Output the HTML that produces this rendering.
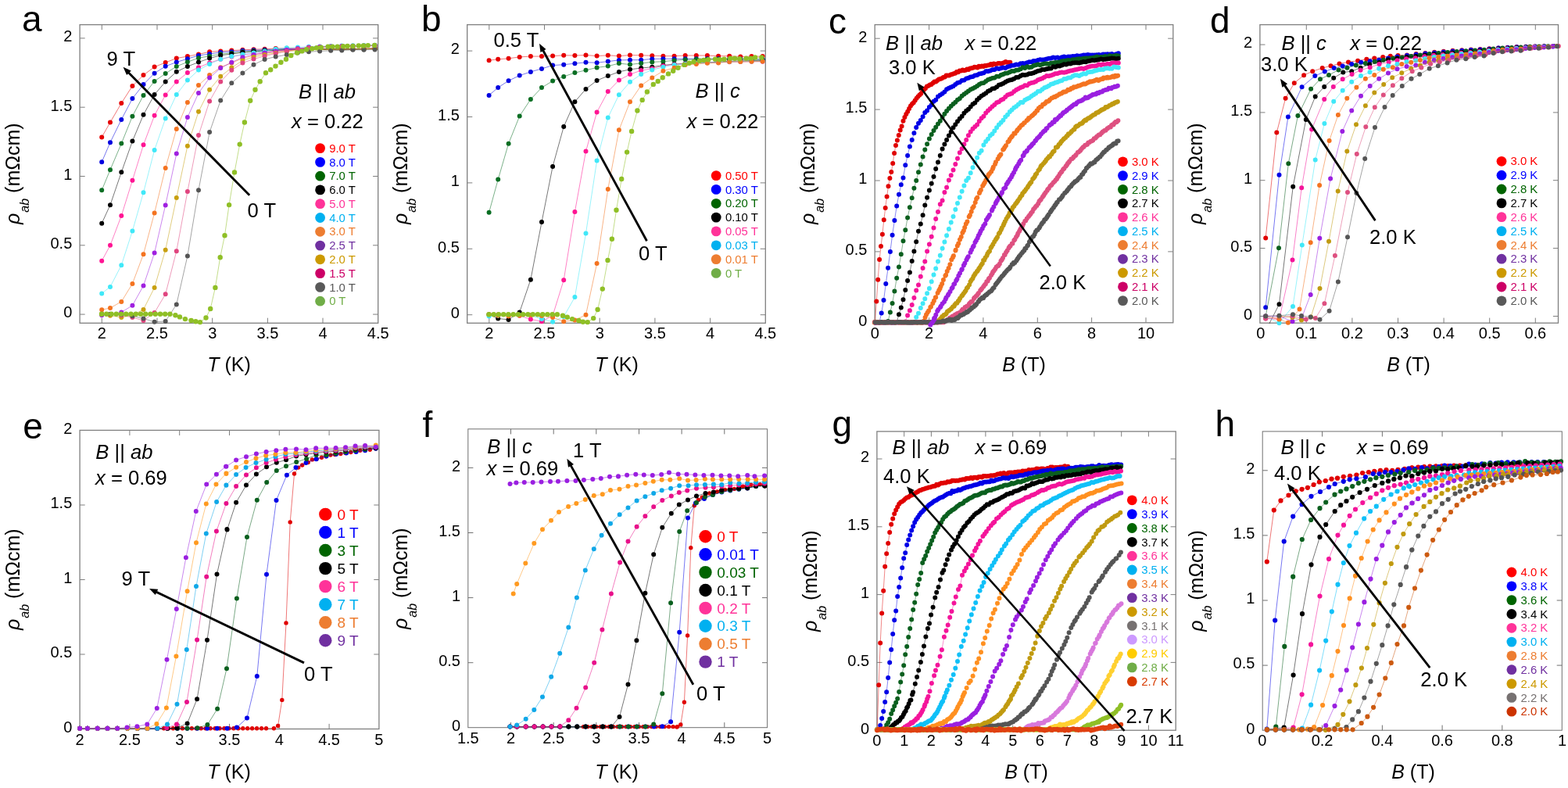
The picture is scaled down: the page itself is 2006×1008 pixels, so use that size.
<!DOCTYPE html>
<html lang="en"><head><meta charset="utf-8"><title>Resistivity figure</title>
<style>
html,body{margin:0;padding:0;background:#fff;}
body{width:2006px;height:1008px;overflow:hidden;}
svg{display:block;font-family:'Liberation Sans', Arial, Helvetica, sans-serif;}
</style></head><body>
<svg width="2006" height="1008" viewBox="0 0 2006 1008">
<rect width="2006" height="1008" fill="#fff"/>
<g id="panel-a">
<clipPath id="cp0"><rect x="98.1" y="31.6" width="389.6" height="385.7"/></clipPath>
<path d="M130.3 413.3v-6.6 M130.3 31.6v6.6 M201 413.3v-6.6 M201 31.6v6.6 M271.7 413.3v-6.6 M271.7 31.6v6.6 M342.4 413.3v-6.6 M342.4 31.6v6.6 M413 413.3v-6.6 M413 31.6v6.6 M102.1 402.1h6.6 M483.7 402.1h-6.6 M102.1 313.8h6.6 M483.7 313.8h-6.6 M102.1 225.5h6.6 M483.7 225.5h-6.6 M102.1 137.2h6.6 M483.7 137.2h-6.6 M102.1 48.9h6.6 M483.7 48.9h-6.6 " stroke="#7f7f7f" stroke-width="1" fill="none"/>
<rect x="102.1" y="31.6" width="381.6" height="381.7" fill="none" stroke="#7f7f7f" stroke-width="1.3"/>
<clipPath id="lc0"><rect x="102.1" y="31.6" width="381.6" height="382.3"/></clipPath>
<g clip-path="url(#cp0)">
<path d="M130.2 175.5 L141 156.5 L155.3 131.9 L169.4 110 L183.5 96.1 L197.6 85.6 L211.7 80 L225.8 74.5 L239.9 72.1 L254 69.4 L268.1 66.3 L282.2 65.4 L296.3 64.6 L310.4 63.8 L324.5 63.2 L338.6 62.7 L352.7 62.1 L366.8 61.7 L380.9 61.9 L395 62.3 L409.1 62.5 L423.2 62.7 L437.3 62.7 L451.4 62.6 L465.5 62.2 L479.6 61.7" fill="none" stroke="#e60000" stroke-width="0.9" stroke-opacity="0.6" clip-path="url(#lc0)"/>
<path d="M130.2 175.5h0M141 156.5h0M155.3 131.9h0M169.4 110h0M183.5 96.1h0M197.6 85.6h0M211.7 80h0M225.8 74.5h0M239.9 72.1h0M254 69.4h0M268.1 66.3h0M282.2 65.4h0M296.3 64.6h0M310.4 63.8h0M324.5 63.2h0M338.6 62.7h0M352.7 62.1h0M366.8 61.7h0M380.9 61.9h0M395 62.3h0M409.1 62.5h0M423.2 62.7h0M437.3 62.7h0M451.4 62.6h0M465.5 62.2h0M479.6 61.7h0" fill="none" stroke="#e60000" stroke-width="6" stroke-linecap="round"/>
<path d="M130.2 207.2 L141 182.2 L155.3 152.9 L169.4 126 L183.5 108.1 L197.6 93.7 L211.7 84.8 L225.8 79.5 L239.9 75.2 L254 71 L268.1 69 L282.2 66.9 L296.3 66.2 L310.4 64.8 L324.5 64.2 L338.6 63.8 L352.7 63 L366.8 62.5 L380.9 62.6 L395 62.7 L409.1 62.8 L423.2 62.9 L437.3 62.9 L451.4 62.8 L465.5 62.5 L479.6 62.1" fill="none" stroke="#0000e0" stroke-width="0.9" stroke-opacity="0.6" clip-path="url(#lc0)"/>
<path d="M130.2 207.2h0M141 182.2h0M155.3 152.9h0M169.4 126h0M183.5 108.1h0M197.6 93.7h0M211.7 84.8h0M225.8 79.5h0M239.9 75.2h0M254 71h0M268.1 69h0M282.2 66.9h0M296.3 66.2h0M310.4 64.8h0M324.5 64.2h0M338.6 63.8h0M352.7 63h0M366.8 62.5h0M380.9 62.6h0M395 62.7h0M409.1 62.8h0M423.2 62.9h0M437.3 62.9h0M451.4 62.8h0M465.5 62.5h0M479.6 62.1h0" fill="none" stroke="#0000e0" stroke-width="6" stroke-linecap="round"/>
<path d="M130.2 243.3 L141 217.2 L155.3 183.6 L169.4 148.7 L183.5 122 L197.6 103.9 L211.7 94.1 L225.8 84.9 L239.9 79.3 L254 74.2 L268.1 71.7 L282.2 69.2 L296.3 67.9 L310.4 66.3 L324.5 65.3 L338.6 64.6 L352.7 63.8 L366.8 63.3 L380.9 63.2 L395 63.1 L409.1 63.1 L423.2 63.1 L437.3 63.1 L451.4 63 L465.5 62.7 L479.6 62.3" fill="none" stroke="#0a6e23" stroke-width="0.9" stroke-opacity="0.6" clip-path="url(#lc0)"/>
<path d="M130.2 243.3h0M141 217.2h0M155.3 183.6h0M169.4 148.7h0M183.5 122h0M197.6 103.9h0M211.7 94.1h0M225.8 84.9h0M239.9 79.3h0M254 74.2h0M268.1 71.7h0M282.2 69.2h0M296.3 67.9h0M310.4 66.3h0M324.5 65.3h0M338.6 64.6h0M352.7 63.8h0M366.8 63.3h0M380.9 63.2h0M395 63.1h0M409.1 63.1h0M423.2 63.1h0M437.3 63.1h0M451.4 63h0M465.5 62.7h0M479.6 62.3h0" fill="none" stroke="#0a6e23" stroke-width="6" stroke-linecap="round"/>
<path d="M130.2 285.7 L141 262.2 L155.3 220.3 L169.4 180.6 L183.5 146.8 L197.6 121 L211.7 104.5 L225.8 91.8 L239.9 85 L254 79.6 L268.1 74.6 L282.2 70.8 L296.3 69 L310.4 67.1 L324.5 65.9 L338.6 65 L352.7 64.3 L366.8 63.8 L380.9 63.5 L395 63.3 L409.1 63.3 L423.2 63.2 L437.3 63.1 L451.4 62.9 L465.5 62.7 L479.6 62.3" fill="none" stroke="#000000" stroke-width="0.9" stroke-opacity="0.6" clip-path="url(#lc0)"/>
<path d="M130.2 285.7h0M141 262.2h0M155.3 220.3h0M169.4 180.6h0M183.5 146.8h0M197.6 121h0M211.7 104.5h0M225.8 91.8h0M239.9 85h0M254 79.6h0M268.1 74.6h0M282.2 70.8h0M296.3 69h0M310.4 67.1h0M324.5 65.9h0M338.6 65h0M352.7 64.3h0M366.8 63.8h0M380.9 63.5h0M395 63.3h0M409.1 63.3h0M423.2 63.2h0M437.3 63.1h0M451.4 62.9h0M465.5 62.7h0M479.6 62.3h0" fill="none" stroke="#000000" stroke-width="6" stroke-linecap="round"/>
<path d="M130.2 333.7 L141 313.8 L155.3 276 L169.4 230.8 L183.5 185.3 L197.6 147.8 L211.7 121.4 L225.8 104.6 L239.9 92.9 L254 86.2 L268.1 80.4 L282.2 75.8 L296.3 72.5 L310.4 70 L324.5 68.4 L338.6 66.9 L352.7 65.3 L366.8 63.8 L380.9 62.3 L395 60.8 L409.1 60.2 L423.2 59.6 L437.3 59.2 L451.4 59 L465.5 58.8 L479.6 58.3" fill="none" stroke="#ff1493" stroke-width="0.9" stroke-opacity="0.6" clip-path="url(#lc0)"/>
<path d="M130.2 333.7h0M141 313.8h0M155.3 276h0M169.4 230.8h0M183.5 185.3h0M197.6 147.8h0M211.7 121.4h0M225.8 104.6h0M239.9 92.9h0M254 86.2h0M268.1 80.4h0M282.2 75.8h0M296.3 72.5h0M310.4 70h0M324.5 68.4h0M338.6 66.9h0M352.7 65.3h0M366.8 63.8h0M380.9 62.3h0M395 60.8h0M409.1 60.2h0M423.2 59.6h0M437.3 59.2h0M451.4 59h0M465.5 58.8h0M479.6 58.3h0" fill="none" stroke="#ff1493" stroke-width="6" stroke-linecap="round"/>
<path d="M130.2 375.4 L141 366.9 L155.3 339.2 L169.4 295.5 L183.5 246.3 L197.6 192 L211.7 151.6 L225.8 121 L239.9 102.6 L254 89.6 L268.1 81.9 L282.2 75.8 L296.3 72.1 L310.4 69.6 L324.5 67.6 L338.6 65.5 L352.7 62.7 L366.8 61.3 L380.9 60.6 L395 59.8 L409.1 59.4 L423.2 59 L437.3 58.5 L451.4 58.3 L465.5 58.1 L479.6 57.7" fill="none" stroke="#40e8f8" stroke-width="0.9" stroke-opacity="0.6" clip-path="url(#lc0)"/>
<path d="M130.2 375.4h0M141 366.9h0M155.3 339.2h0M169.4 295.5h0M183.5 246.3h0M197.6 192h0M211.7 151.6h0M225.8 121h0M239.9 102.6h0M254 89.6h0M268.1 81.9h0M282.2 75.8h0M296.3 72.1h0M310.4 69.6h0M324.5 67.6h0M338.6 65.5h0M352.7 62.7h0M366.8 61.3h0M380.9 60.6h0M395 59.8h0M409.1 59.4h0M423.2 59h0M437.3 58.5h0M451.4 58.3h0M465.5 58.1h0M479.6 57.7h0" fill="none" stroke="#40e8f8" stroke-width="6" stroke-linecap="round"/>
<path d="M130.2 396.2 L141 394 L155.3 385.9 L169.4 362.9 L183.5 325.2 L197.6 272.5 L211.7 214.9 L225.8 164.9 L239.9 131.1 L254 109.1 L268.1 96.1 L282.2 86.2 L296.3 80.4 L310.4 74.7 L324.5 71 L338.6 68.4 L352.7 66.3 L366.8 64.8 L380.9 63.8 L395 63.3 L409.1 63.2 L423.2 63.2 L437.3 63.1 L451.4 62.9 L465.5 62.7 L479.6 62.3" fill="none" stroke="#f47320" stroke-width="0.9" stroke-opacity="0.6" clip-path="url(#lc0)"/>
<path d="M130.2 396.2h0M141 394h0M155.3 385.9h0M169.4 362.9h0M183.5 325.2h0M197.6 272.5h0M211.7 214.9h0M225.8 164.9h0M239.9 131.1h0M254 109.1h0M268.1 96.1h0M282.2 86.2h0M296.3 80.4h0M310.4 74.7h0M324.5 71h0M338.6 68.4h0M352.7 66.3h0M366.8 64.8h0M380.9 63.8h0M395 63.3h0M409.1 63.2h0M423.2 63.2h0M437.3 63.1h0M451.4 62.9h0M465.5 62.7h0M479.6 62.3h0" fill="none" stroke="#f47320" stroke-width="6" stroke-linecap="round"/>
<path d="M130.2 403.3 L141 402.4 L155.3 399.4 L169.4 390.8 L183.5 365.5 L197.6 323.6 L211.7 262.4 L225.8 196.6 L239.9 150.1 L254 119.1 L268.1 99.6 L282.2 87 L296.3 79.8 L310.4 73.2 L324.5 69.9 L338.6 67.6 L352.7 65.6 L366.8 63.8 L380.9 61.9 L395 60.6 L409.1 59.8 L423.2 59.4 L437.3 59 L451.4 58.8 L465.5 58.6 L479.6 58.1" fill="none" stroke="#a020e0" stroke-width="0.9" stroke-opacity="0.6" clip-path="url(#lc0)"/>
<path d="M130.2 403.3h0M141 402.4h0M155.3 399.4h0M169.4 390.8h0M183.5 365.5h0M197.6 323.6h0M211.7 262.4h0M225.8 196.6h0M239.9 150.1h0M254 119.1h0M268.1 99.6h0M282.2 87h0M296.3 79.8h0M310.4 73.2h0M324.5 69.9h0M338.6 67.6h0M352.7 65.6h0M366.8 63.8h0M380.9 61.9h0M395 60.6h0M409.1 59.8h0M423.2 59.4h0M437.3 59h0M451.4 58.8h0M465.5 58.6h0M479.6 58.1h0" fill="none" stroke="#a020e0" stroke-width="6" stroke-linecap="round"/>
<path d="M130.2 401.7 L141 403.7 L155.3 406 L169.4 403.3 L183.5 395.9 L197.6 367.9 L211.7 319.7 L225.8 253.1 L239.9 186.7 L254 142.8 L268.1 114.8 L282.2 97.8 L296.3 86.6 L310.4 77.4 L324.5 73 L338.6 70.1 L352.7 67.7 L366.8 65.9 L380.9 64.5 L395 63.7 L409.1 63.5 L423.2 63.3 L437.3 63.1 L451.4 62.9 L465.5 62.6 L479.6 62.3" fill="none" stroke="#c8a010" stroke-width="0.9" stroke-opacity="0.6" clip-path="url(#lc0)"/>
<path d="M130.2 401.7h0M141 403.7h0M155.3 406h0M169.4 403.3h0M183.5 395.9h0M197.6 367.9h0M211.7 319.7h0M225.8 253.1h0M239.9 186.7h0M254 142.8h0M268.1 114.8h0M282.2 97.8h0M296.3 86.6h0M310.4 77.4h0M324.5 73h0M338.6 70.1h0M352.7 67.7h0M366.8 65.9h0M380.9 64.5h0M395 63.7h0M409.1 63.5h0M423.2 63.3h0M437.3 63.1h0M451.4 62.9h0M465.5 62.6h0M479.6 62.3h0" fill="none" stroke="#c8a010" stroke-width="6" stroke-linecap="round"/>
<path d="M130.2 401.7 L141 402.1 L155.3 403.3 L169.4 406 L183.5 410 L197.6 400 L211.7 376.3 L225.8 321.2 L239.9 245 L254 173 L268.1 129.4 L282.2 104.4 L296.3 89.8 L310.4 80.5 L324.5 75.5 L338.6 71.8 L352.7 68.4 L366.8 65.5 L380.9 62.9 L395 61.1 L409.1 60.4 L423.2 59.8 L437.3 59.4 L451.4 59.2 L465.5 59 L479.6 58.6" fill="none" stroke="#e0457f" stroke-width="0.9" stroke-opacity="0.6" clip-path="url(#lc0)"/>
<path d="M130.2 401.7h0M141 402.1h0M155.3 403.3h0M169.4 406h0M183.5 410h0M197.6 400h0M211.7 376.3h0M225.8 321.2h0M239.9 245h0M254 173h0M268.1 129.4h0M282.2 104.4h0M296.3 89.8h0M310.4 80.5h0M324.5 75.5h0M338.6 71.8h0M352.7 68.4h0M366.8 65.5h0M380.9 62.9h0M395 61.1h0M409.1 60.4h0M423.2 59.8h0M437.3 59.4h0M451.4 59.2h0M465.5 59h0M479.6 58.6h0" fill="none" stroke="#e0457f" stroke-width="6" stroke-linecap="round"/>
<path d="M130.2 401.7 L141 401.8 L155.3 402.3 L169.4 404.2 L183.5 407.5 L197.6 411.7 L211.7 411 L225.8 389.4 L239.9 327.4 L254 243.2 L268.1 169.1 L282.2 128.5 L296.3 106.2 L310.4 93.5 L324.5 82.7 L338.6 75.9 L352.7 72.5 L366.8 70.1 L380.9 67.5 L395 66.3 L409.1 65.4 L423.2 64.8 L437.3 64.4 L451.4 63.8 L465.5 63.8 L479.6 63.4" fill="none" stroke="#555555" stroke-width="0.9" stroke-opacity="0.6" clip-path="url(#lc0)"/>
<path d="M130.2 401.7h0M141 401.8h0M155.3 402.3h0M169.4 404.2h0M183.5 407.5h0M197.6 411.7h0M211.7 411h0M225.8 389.4h0M239.9 327.4h0M254 243.2h0M268.1 169.1h0M282.2 128.5h0M296.3 106.2h0M310.4 93.5h0M324.5 82.7h0M338.6 75.9h0M352.7 72.5h0M366.8 70.1h0M380.9 67.5h0M395 66.3h0M409.1 65.4h0M423.2 64.8h0M437.3 64.4h0M451.4 63.8h0M465.5 63.8h0M479.6 63.4h0" fill="none" stroke="#555555" stroke-width="6" stroke-linecap="round"/>
<path d="M130 401.7 L136.2 401.7 L142.5 401.7 L148.8 401.7 L155 401.7 L161.2 401.7 L167.5 401.7 L173.8 401.7 L180 401.7 L186.2 401.7 L192.5 401.7 L198.8 401.7 L205 401.7 L211.2 401.7 L217.5 401.7 L224.4 403.3 L230 405.4 L236.9 408.1 L244.6 410 L250.4 411.2 L256 412.1 L263.5 406.5 L269.2 395 L275.4 367.9 L281.7 329.2 L287.5 301.2 L293.1 262.1 L300 220.4 L306.7 184.6 L312.9 156.5 L320.2 128.8 L326.5 114.8 L332.7 104.2 L340 93.3 L346.2 89.2 L352.5 84.6 L359.4 79.8 L366 75.8 L372.3 71 L380 67.5 L386.2 65.4 L392.1 63.3 L399.2 62.3 L405 61.2 L410.8 60.8 L419.6 59.6 L425.4 59.6 L431.7 59.6 L439 59.2 L444.6 59 L451.5 59 L458.8 58.5 L465 58.5 L470.8 58.1 L479.2 57.9" fill="none" stroke="#8fbf26" stroke-width="0.9" stroke-opacity="0.6" clip-path="url(#lc0)"/>
<path d="M130 401.7h0M136.2 401.7h0M142.5 401.7h0M148.8 401.7h0M155 401.7h0M161.2 401.7h0M167.5 401.7h0M173.8 401.7h0M180 401.7h0M186.2 401.7h0M192.5 401.7h0M198.8 401.7h0M205 401.7h0M211.2 401.7h0M217.5 401.7h0M224.4 403.3h0M230 405.4h0M236.9 408.1h0M244.6 410h0M250.4 411.2h0M256 412.1h0M263.5 406.5h0M269.2 395h0M275.4 367.9h0M281.7 329.2h0M287.5 301.2h0M293.1 262.1h0M300 220.4h0M306.7 184.6h0M312.9 156.5h0M320.2 128.8h0M326.5 114.8h0M332.7 104.2h0M340 93.3h0M346.2 89.2h0M352.5 84.6h0M359.4 79.8h0M366 75.8h0M372.3 71h0M380 67.5h0M386.2 65.4h0M392.1 63.3h0M399.2 62.3h0M405 61.2h0M410.8 60.8h0M419.6 59.6h0M425.4 59.6h0M431.7 59.6h0M439 59.2h0M444.6 59h0M451.5 59h0M458.8 58.5h0M465 58.5h0M470.8 58.1h0M479.2 57.9h0" fill="none" stroke="#8fbf26" stroke-width="6.4" stroke-linecap="round"/>
</g>
<g font-size="20" fill="#000">
<text x="130.3" y="432.7" text-anchor="middle">2</text>
<text x="201" y="432.7" text-anchor="middle">2.5</text>
<text x="271.7" y="432.7" text-anchor="middle">3</text>
<text x="342.4" y="432.7" text-anchor="middle">3.5</text>
<text x="413" y="432.7" text-anchor="middle">4</text>
<text x="483.7" y="432.7" text-anchor="middle">4.5</text>
<text x="92.3" y="406.4" text-anchor="end">0</text>
<text x="92.3" y="318.1" text-anchor="end">0.5</text>
<text x="92.3" y="229.8" text-anchor="end">1</text>
<text x="92.3" y="141.5" text-anchor="end">1.5</text>
<text x="92.3" y="53.2" text-anchor="end">2</text>
</g>
<text x="28" y="40" font-size="46">a</text>
<text x="293" y="475" font-size="25" text-anchor="middle"><tspan font-style="italic">T</tspan> (K)</text>
<text transform="translate(25.4 287) rotate(-90)" font-size="25"><tspan font-style="italic">ρ</tspan><tspan font-style="italic" font-size="16" dy="11.5" dx="1">ab</tspan><tspan dy="-11.5"> (mΩcm)</tspan></text>
<g font-size="14.9">
<circle cx="409.6" cy="189.6" r="6.4" fill="#ff0000"/>
<text x="421.2" y="194.7" fill="#ff0000">9.0 T</text>
<circle cx="409.6" cy="207.4" r="6.4" fill="#0000ff"/>
<text x="421.2" y="212.5" fill="#0000ff">8.0 T</text>
<circle cx="409.6" cy="225.2" r="6.4" fill="#006400"/>
<text x="421.2" y="230.3" fill="#006400">7.0 T</text>
<circle cx="409.6" cy="242.9" r="6.4" fill="#000000"/>
<text x="421.2" y="248.1" fill="#000000">6.0 T</text>
<circle cx="409.6" cy="260.7" r="6.4" fill="#ff3399"/>
<text x="421.2" y="265.9" fill="#ff3399">5.0 T</text>
<circle cx="409.6" cy="278.5" r="6.4" fill="#00b0f0"/>
<text x="421.2" y="283.6" fill="#00b0f0">4.0 T</text>
<circle cx="409.6" cy="296.3" r="6.4" fill="#ed7d31"/>
<text x="421.2" y="301.4" fill="#ed7d31">3.0 T</text>
<circle cx="409.6" cy="314.1" r="6.4" fill="#7030a0"/>
<text x="421.2" y="319.2" fill="#7030a0">2.5 T</text>
<circle cx="409.6" cy="331.8" r="6.4" fill="#cc9900"/>
<text x="421.2" y="337" fill="#cc9900">2.0 T</text>
<circle cx="409.6" cy="349.6" r="6.4" fill="#cc0066"/>
<text x="421.2" y="354.8" fill="#cc0066">1.5 T</text>
<circle cx="409.6" cy="367.4" r="6.4" fill="#595959"/>
<text x="421.2" y="372.5" fill="#595959">1.0 T</text>
<circle cx="409.6" cy="385.2" r="6.4" fill="#70ad47"/>
<text x="421.2" y="390.3" fill="#70ad47">0 T</text>
</g>
<text x="136.5" y="83.5" font-size="25.6">9 T</text>
<text x="316.5" y="278.3" font-size="25.6">0 T</text>
<text x="382" y="126" font-size="25.6"><tspan font-style="italic">B</tspan> || <tspan font-style="italic">ab</tspan></text>
<text x="373" y="164" font-size="25.6"><tspan font-style="italic">x</tspan> = 0.22</text>
<path d="M319.2 249.8 L163.6 91.9" stroke="#000" stroke-width="2.85" fill="none"/>
<path d="M157.6 85.8 L167.8 90.5 L162.1 96.1 Z" fill="#000"/>
</g>
<g id="panel-b">
<clipPath id="cp1"><rect x="593.7" y="31.6" width="389.5999999999999" height="385.7"/></clipPath>
<path d="M625.8 413.3v-6.6 M625.8 31.6v6.6 M696.5 413.3v-6.6 M696.5 31.6v6.6 M767.2 413.3v-6.6 M767.2 31.6v6.6 M837.9 413.3v-6.6 M837.9 31.6v6.6 M908.6 413.3v-6.6 M908.6 31.6v6.6 M597.7 402.7h6.6 M979.3 402.7h-6.6 M597.7 318.3h6.6 M979.3 318.3h-6.6 M597.7 233.9h6.6 M979.3 233.9h-6.6 M597.7 149.5h6.6 M979.3 149.5h-6.6 M597.7 65.1h6.6 M979.3 65.1h-6.6 " stroke="#7f7f7f" stroke-width="1" fill="none"/>
<rect x="597.7" y="31.6" width="381.6" height="381.7" fill="none" stroke="#7f7f7f" stroke-width="1.3"/>
<clipPath id="lc1"><rect x="597.7" y="31.6" width="381.6" height="382.3"/></clipPath>
<g clip-path="url(#cp1)">
<path d="M625.6 77.3 L637.2 75.8 L650.6 74.8 L664.7 72.9 L678.9 72.1 L693 72.1 L707.1 71.6 L721.2 70.8 L735.4 71 L749.5 70.6 L763.6 71.5 L777.8 70.8 L791.9 71.6 L806 70.6 L820.2 70.8 L834.3 71.2 L848.4 71.7 L862.6 71.7 L876.7 71 L890.8 71 L904.9 71 L919.1 71.7 L933.2 71.7 L947.3 72.5 L961.5 72.1 L975.6 72.1" fill="none" stroke="#e60000" stroke-width="0.9" stroke-opacity="0.6" clip-path="url(#lc1)"/>
<path d="M625.6 77.3h0M637.2 75.8h0M650.6 74.8h0M664.7 72.9h0M678.9 72.1h0M693 72.1h0M707.1 71.6h0M721.2 70.8h0M735.4 71h0M749.5 70.6h0M763.6 71.5h0M777.8 70.8h0M791.9 71.6h0M806 70.6h0M820.2 70.8h0M834.3 71.2h0M848.4 71.7h0M862.6 71.7h0M876.7 71h0M890.8 71h0M904.9 71h0M919.1 71.7h0M933.2 71.7h0M947.3 72.5h0M961.5 72.1h0M975.6 72.1h0" fill="none" stroke="#e60000" stroke-width="6" stroke-linecap="round"/>
<path d="M625.6 121.9 L637.2 112 L650.6 103.3 L664.7 96.6 L678.9 91.9 L693 87.9 L707.1 83.6 L721.2 82.7 L735.4 81.2 L749.5 79.8 L763.6 80.2 L777.8 78.6 L791.9 76.9 L806 76.7 L820.2 76.7 L834.3 75.4 L848.4 75.2 L862.6 75.2 L876.7 75.2 L890.8 75.2 L904.9 75.2 L919.1 75.3 L933.2 75.4 L947.3 75.5 L961.5 75.6 L975.6 75.8" fill="none" stroke="#0000e0" stroke-width="0.9" stroke-opacity="0.6" clip-path="url(#lc1)"/>
<path d="M625.6 121.9h0M637.2 112h0M650.6 103.3h0M664.7 96.6h0M678.9 91.9h0M693 87.9h0M707.1 83.6h0M721.2 82.7h0M735.4 81.2h0M749.5 79.8h0M763.6 80.2h0M777.8 78.6h0M791.9 76.9h0M806 76.7h0M820.2 76.7h0M834.3 75.4h0M848.4 75.2h0M862.6 75.2h0M876.7 75.2h0M890.8 75.2h0M904.9 75.2h0M919.1 75.3h0M933.2 75.4h0M947.3 75.5h0M961.5 75.6h0M975.6 75.8h0" fill="none" stroke="#0000e0" stroke-width="6" stroke-linecap="round"/>
<path d="M625.6 271.8 L637.2 229.6 L650.6 183.7 L664.7 148.5 L678.9 127 L693 112.1 L707.1 103.5 L721.2 97.9 L735.4 93.1 L749.5 89.8 L763.6 86.4 L777.8 84.6 L791.9 81.1 L806 82.5 L820.2 80.9 L834.3 79.4 L848.4 78.7 L862.6 77.3 L876.7 76.2 L890.8 75.8 L904.9 75.8 L919.1 75.8 L933.2 75.9 L947.3 76 L961.5 76.1 L975.6 76.2" fill="none" stroke="#0a6e23" stroke-width="0.9" stroke-opacity="0.6" clip-path="url(#lc1)"/>
<path d="M625.6 271.8h0M637.2 229.6h0M650.6 183.7h0M664.7 148.5h0M678.9 127h0M693 112.1h0M707.1 103.5h0M721.2 97.9h0M735.4 93.1h0M749.5 89.8h0M763.6 86.4h0M777.8 84.6h0M791.9 81.1h0M806 82.5h0M820.2 80.9h0M834.3 79.4h0M848.4 78.7h0M862.6 77.3h0M876.7 76.2h0M890.8 75.8h0M904.9 75.8h0M919.1 75.8h0M933.2 75.9h0M947.3 76h0M961.5 76.1h0M975.6 76.2h0" fill="none" stroke="#0a6e23" stroke-width="6" stroke-linecap="round"/>
<path d="M625.6 402.4 L637.2 407.5 L650.6 408.9 L664.7 399.4 L678.9 357.7 L693 284.1 L707.1 212.9 L721.2 162.1 L735.4 130.2 L749.5 113.9 L763.6 103 L777.8 97.1 L791.9 91.9 L806 88.8 L820.2 87.1 L834.3 85.7 L848.4 83.5 L862.6 82.1 L876.7 81.4 L890.8 80.4 L904.9 80 L919.1 79.4 L933.2 78.3 L947.3 77.9 L961.5 77.6 L975.6 77.5" fill="none" stroke="#000000" stroke-width="0.9" stroke-opacity="0.6" clip-path="url(#lc1)"/>
<path d="M625.6 402.4h0M637.2 407.5h0M650.6 408.9h0M664.7 399.4h0M678.9 357.7h0M693 284.1h0M707.1 212.9h0M721.2 162.1h0M735.4 130.2h0M749.5 113.9h0M763.6 103h0M777.8 97.1h0M791.9 91.9h0M806 88.8h0M820.2 87.1h0M834.3 85.7h0M848.4 83.5h0M862.6 82.1h0M876.7 81.4h0M890.8 80.4h0M904.9 80h0M919.1 79.4h0M933.2 78.3h0M947.3 77.9h0M961.5 77.6h0M975.6 77.5h0" fill="none" stroke="#000000" stroke-width="6" stroke-linecap="round"/>
<path d="M625.6 402.3 L637.2 402.4 L650.6 402.9 L664.7 403.8 L678.9 408.5 L693 411.2 L707.1 403.7 L721.2 358.3 L735.4 271 L749.5 193.6 L763.6 143.5 L777.8 117.1 L791.9 102.5 L806 95.1 L820.2 90.1 L834.3 87.8 L848.4 84.2 L862.6 82.5 L876.7 81.4 L890.8 80.6 L904.9 80.1 L919.1 79.6 L933.2 79.3 L947.3 79 L961.5 78.8 L975.6 78.8" fill="none" stroke="#ff1493" stroke-width="0.9" stroke-opacity="0.6" clip-path="url(#lc1)"/>
<path d="M625.6 402.3h0M637.2 402.4h0M650.6 402.9h0M664.7 403.8h0M678.9 408.5h0M693 411.2h0M707.1 403.7h0M721.2 358.3h0M735.4 271h0M749.5 193.6h0M763.6 143.5h0M777.8 117.1h0M791.9 102.5h0M806 95.1h0M820.2 90.1h0M834.3 87.8h0M848.4 84.2h0M862.6 82.5h0M876.7 81.4h0M890.8 80.6h0M904.9 80.1h0M919.1 79.6h0M933.2 79.3h0M947.3 79h0M961.5 78.8h0M975.6 78.8h0" fill="none" stroke="#ff1493" stroke-width="6" stroke-linecap="round"/>
<path d="M625.6 404.4 L637.2 403.7 L650.6 403.3 L664.7 403.3 L678.9 403.3 L693 408 L707.1 411.7 L721.2 405.1 L735.4 380.1 L749.5 298.5 L763.6 205.6 L777.8 150.4 L791.9 121.2 L806 104.8 L820.2 95.1 L834.3 89.5 L848.4 85.8 L862.6 82.9 L876.7 82.1 L890.8 80.8 L904.9 80.2 L919.1 79.6 L933.2 79.1 L947.3 78.7 L961.5 78.4 L975.6 78.3" fill="none" stroke="#40e8f8" stroke-width="0.9" stroke-opacity="0.6" clip-path="url(#lc1)"/>
<path d="M625.6 404.4h0M637.2 403.7h0M650.6 403.3h0M664.7 403.3h0M678.9 403.3h0M693 408h0M707.1 411.7h0M721.2 405.1h0M735.4 380.1h0M749.5 298.5h0M763.6 205.6h0M777.8 150.4h0M791.9 121.2h0M806 104.8h0M820.2 95.1h0M834.3 89.5h0M848.4 85.8h0M862.6 82.9h0M876.7 82.1h0M890.8 80.8h0M904.9 80.2h0M919.1 79.6h0M933.2 79.1h0M947.3 78.7h0M961.5 78.4h0M975.6 78.3h0" fill="none" stroke="#40e8f8" stroke-width="6" stroke-linecap="round"/>
<path d="M625.6 402.3 L637.2 403.7 L650.6 404.4 L664.7 403.8 L678.9 403.3 L693 404.1 L707.1 406 L721.2 411.2 L735.4 409.6 L749.5 402.8 L763.6 337 L777.8 241.9 L791.9 166.3 L806 130.2 L820.2 109.4 L834.3 99.4 L848.4 90.8 L862.6 86.7 L876.7 82.9 L890.8 82.1 L904.9 80.8 L919.1 80.4 L933.2 79 L947.3 79 L961.5 78.7 L975.6 78.4" fill="none" stroke="#f47320" stroke-width="0.9" stroke-opacity="0.6" clip-path="url(#lc1)"/>
<path d="M625.6 402.3h0M637.2 403.7h0M650.6 404.4h0M664.7 403.8h0M678.9 403.3h0M693 404.1h0M707.1 406h0M721.2 411.2h0M735.4 409.6h0M749.5 402.8h0M763.6 337h0M777.8 241.9h0M791.9 166.3h0M806 130.2h0M820.2 109.4h0M834.3 99.4h0M848.4 90.8h0M862.6 86.7h0M876.7 82.9h0M890.8 82.1h0M904.9 80.8h0M919.1 80.4h0M933.2 79h0M947.3 79h0M961.5 78.7h0M975.6 78.4h0" fill="none" stroke="#f47320" stroke-width="6" stroke-linecap="round"/>
<path d="M625.4 402.3 L631.7 402.3 L637.9 402.3 L644.2 402.3 L650.4 402.3 L656.7 402.3 L662.9 402.3 L669.2 402.3 L675.4 402.3 L681.7 402.3 L687.9 402.3 L694.2 402.3 L700.4 402.3 L706.7 402.3 L712.9 402.3 L720 403.8 L725.8 405.8 L732.1 408.1 L740.4 410 L745.8 411.7 L751.7 412.1 L759.2 407.1 L764.6 396 L770.8 369.6 L777.5 332.9 L782.9 305.8 L788.5 268.8 L795.2 229 L802.1 194.6 L808.1 167.9 L815.4 141.5 L821.7 127.9 L827.9 117.5 L835.8 107.9 L841.7 104 L847.7 99.2 L855 94.4 L861.2 90.8 L867.5 86.7 L875.4 82.9 L881.7 80.8 L887.5 79 L895 77.7 L900.4 76.9 L906.2 76.2 L915 75.8 L920.8 76.2 L926.5 75.8 L934.2 74.6 L940 74.8 L946.2 75.2 L954.6 74.6 L960.4 74.6 L966 73.5 L974.4 73.5" fill="none" stroke="#8fbf26" stroke-width="0.9" stroke-opacity="0.6" clip-path="url(#lc1)"/>
<path d="M625.4 402.3h0M631.7 402.3h0M637.9 402.3h0M644.2 402.3h0M650.4 402.3h0M656.7 402.3h0M662.9 402.3h0M669.2 402.3h0M675.4 402.3h0M681.7 402.3h0M687.9 402.3h0M694.2 402.3h0M700.4 402.3h0M706.7 402.3h0M712.9 402.3h0M720 403.8h0M725.8 405.8h0M732.1 408.1h0M740.4 410h0M745.8 411.7h0M751.7 412.1h0M759.2 407.1h0M764.6 396h0M770.8 369.6h0M777.5 332.9h0M782.9 305.8h0M788.5 268.8h0M795.2 229h0M802.1 194.6h0M808.1 167.9h0M815.4 141.5h0M821.7 127.9h0M827.9 117.5h0M835.8 107.9h0M841.7 104h0M847.7 99.2h0M855 94.4h0M861.2 90.8h0M867.5 86.7h0M875.4 82.9h0M881.7 80.8h0M887.5 79h0M895 77.7h0M900.4 76.9h0M906.2 76.2h0M915 75.8h0M920.8 76.2h0M926.5 75.8h0M934.2 74.6h0M940 74.8h0M946.2 75.2h0M954.6 74.6h0M960.4 74.6h0M966 73.5h0M974.4 73.5h0" fill="none" stroke="#8fbf26" stroke-width="6.4" stroke-linecap="round"/>
</g>
<g font-size="20" fill="#000">
<text x="625.8" y="432.7" text-anchor="middle">2</text>
<text x="696.5" y="432.7" text-anchor="middle">2.5</text>
<text x="767.2" y="432.7" text-anchor="middle">3</text>
<text x="837.9" y="432.7" text-anchor="middle">3.5</text>
<text x="908.6" y="432.7" text-anchor="middle">4</text>
<text x="979.3" y="432.7" text-anchor="middle">4.5</text>
<text x="587.9" y="407" text-anchor="end">0</text>
<text x="587.9" y="322.6" text-anchor="end">0.5</text>
<text x="587.9" y="238.2" text-anchor="end">1</text>
<text x="587.9" y="153.8" text-anchor="end">1.5</text>
<text x="587.9" y="69.4" text-anchor="end">2</text>
</g>
<text x="539" y="40" font-size="46">b</text>
<text x="789" y="475" font-size="25" text-anchor="middle"><tspan font-style="italic">T</tspan> (K)</text>
<text transform="translate(520.5 287) rotate(-90)" font-size="25"><tspan font-style="italic">ρ</tspan><tspan font-style="italic" font-size="16" dy="11.5" dx="1">ab</tspan><tspan dy="-11.5"> (mΩcm)</tspan></text>
<g font-size="14.9">
<circle cx="916.2" cy="224.6" r="6.4" fill="#ff0000"/>
<text x="927.9" y="229.7" fill="#ff0000">0.50 T</text>
<circle cx="916.2" cy="242.4" r="6.4" fill="#0000ff"/>
<text x="927.9" y="247.6" fill="#0000ff">0.30 T</text>
<circle cx="916.2" cy="260.3" r="6.4" fill="#006400"/>
<text x="927.9" y="265.4" fill="#006400">0.20 T</text>
<circle cx="916.2" cy="278.1" r="6.4" fill="#000000"/>
<text x="927.9" y="283.2" fill="#000000">0.10 T</text>
<circle cx="916.2" cy="295.9" r="6.4" fill="#ff3399"/>
<text x="927.9" y="301.1" fill="#ff3399">0.05 T</text>
<circle cx="916.2" cy="313.8" r="6.4" fill="#00b0f0"/>
<text x="927.9" y="318.9" fill="#00b0f0">0.03 T</text>
<circle cx="916.2" cy="331.6" r="6.4" fill="#ed7d31"/>
<text x="927.9" y="336.7" fill="#ed7d31">0.01 T</text>
<circle cx="916.2" cy="349.4" r="6.4" fill="#70ad47"/>
<text x="927.9" y="354.6" fill="#70ad47">0 T</text>
</g>
<text x="631.5" y="59.6" font-size="25.6">0.5 T</text>
<text x="817" y="333.3" font-size="25.6">0 T</text>
<text x="889.5" y="124.6" font-size="25.6"><tspan font-style="italic">B</tspan> || <tspan font-style="italic">c</tspan></text>
<text x="878.5" y="163.75" font-size="25.6"><tspan font-style="italic">x</tspan> = 0.22</text>
<path d="M827.5 308.3 L694.1 63.3" stroke="#000" stroke-width="2.85" fill="none"/>
<path d="M690 55.8 L698.5 63.1 L691.5 66.9 Z" fill="#000"/>
</g>
<g id="panel-c">
<clipPath id="cp2"><rect x="1115.2" y="31.6" width="389.5999999999999" height="387.2"/></clipPath>
<path d="M1188.6 412.8v-6.6 M1188.6 31.6v6.6 M1257.9 412.8v-6.6 M1257.9 31.6v6.6 M1327.3 412.8v-6.6 M1327.3 31.6v6.6 M1396.6 412.8v-6.6 M1396.6 31.6v6.6 M1466 412.8v-6.6 M1466 31.6v6.6 M1119.2 321.9h6.6 M1500.8 321.9h-6.6 M1119.2 231h6.6 M1500.8 231h-6.6 M1119.2 140.1h6.6 M1500.8 140.1h-6.6 M1119.2 49.2h6.6 M1500.8 49.2h-6.6 " stroke="#7f7f7f" stroke-width="1" fill="none"/>
<rect x="1119.2" y="31.6" width="381.6" height="381.2" fill="none" stroke="#7f7f7f" stroke-width="1.3"/>
<clipPath id="lc2"><rect x="1119.2" y="31.6" width="381.6" height="381.8"/></clipPath>
<g clip-path="url(#cp2)">
<path d="M1119.4 412.6 L1121.3 385.4 L1123.2 357.7 L1125.1 332 L1127 315.1 L1128.9 299.8 L1130.8 281.3 L1132.7 266.1 L1134.6 251.6 L1136.5 238.2 L1138.4 228.1 L1140.3 220.1 L1142.2 209 L1144.1 195.9 L1146 185.9 L1147.9 179.6 L1149.8 173.1 L1151.7 166.4 L1153.6 161.5 L1155.5 154.8 L1157.4 149.9 L1159.3 146 L1161.2 142.8 L1163.1 138.9 L1165 135.4 L1166.9 133 L1168.8 131.2 L1170.7 128.4 L1172.6 125.7 L1174.5 123.5 L1176.4 121.6 L1178.3 119.8 L1180.2 116.3 L1182.1 114.7 L1184 112.9 L1185.9 110.6 L1187.8 109.8 L1189.7 108.4 L1191.6 108 L1193.5 106.3 L1195.4 104.5 L1197.3 104.5 L1199.2 103.1 L1201.1 101.6 L1203 101.1 L1204.9 100.2 L1206.8 99.1 L1208.7 98.6 L1210.6 96.6 L1212.5 96.6 L1214.4 96.4 L1216.3 95.5 L1218.2 94.9 L1220.1 94.3 L1222 93.8 L1223.9 92 L1225.8 92.3 L1227.7 90.5 L1229.6 90.6 L1231.5 89.4 L1233.4 90.2 L1235.3 89.8 L1237.2 88.6 L1239.1 89 L1241 87.4 L1242.9 87.3 L1244.8 86.8 L1246.7 85.8 L1248.6 86.1 L1250.5 86.4 L1252.4 84.7 L1254.3 85.2 L1256.2 84.5 L1258.1 85 L1260 84.1 L1261.9 83.9 L1263.8 83.6 L1265.7 83.2 L1267.6 82.1 L1269.5 83.1 L1271.4 81.5 L1273.3 81.9 L1275.2 81.8 L1277.1 80.9 L1279 81.1 L1280.9 81.4 L1282.8 80.7 L1284.7 80.1 L1286.6 79 L1288.5 79.8 L1290.4 79.8 L1292.3 79.8" fill="none" stroke="#e00000" stroke-width="0.8" stroke-opacity="0.6" clip-path="url(#lc2)"/>
<path d="M1119.4 412.6h0M1121.3 385.4h0M1123.2 357.7h0M1125.1 332h0M1127 315.1h0M1128.9 299.8h0M1130.8 281.3h0M1132.7 266.1h0M1134.6 251.6h0M1136.5 238.2h0M1138.4 228.1h0M1140.3 220.1h0M1142.2 209h0M1144.1 195.9h0M1146 185.9h0M1147.9 179.6h0M1149.8 173.1h0M1151.7 166.4h0M1153.6 161.5h0M1155.5 154.8h0M1157.4 149.9h0M1159.3 146h0M1161.2 142.8h0M1163.1 138.9h0M1165 135.4h0M1166.9 133h0M1168.8 131.2h0M1170.7 128.4h0M1172.6 125.7h0M1174.5 123.5h0M1176.4 121.6h0M1178.3 119.8h0M1180.2 116.3h0M1182.1 114.7h0M1184 112.9h0M1185.9 110.6h0M1187.8 109.8h0M1189.7 108.4h0M1191.6 108h0M1193.5 106.3h0M1195.4 104.5h0M1197.3 104.5h0M1199.2 103.1h0M1201.1 101.6h0M1203 101.1h0M1204.9 100.2h0M1206.8 99.1h0M1208.7 98.6h0M1210.6 96.6h0M1212.5 96.6h0M1214.4 96.4h0M1216.3 95.5h0M1218.2 94.9h0M1220.1 94.3h0M1222 93.8h0M1223.9 92h0M1225.8 92.3h0M1227.7 90.5h0M1229.6 90.6h0M1231.5 89.4h0M1233.4 90.2h0M1235.3 89.8h0M1237.2 88.6h0M1239.1 89h0M1241 87.4h0M1242.9 87.3h0M1244.8 86.8h0M1246.7 85.8h0M1248.6 86.1h0M1250.5 86.4h0M1252.4 84.7h0M1254.3 85.2h0M1256.2 84.5h0M1258.1 85h0M1260 84.1h0M1261.9 83.9h0M1263.8 83.6h0M1265.7 83.2h0M1267.6 82.1h0M1269.5 83.1h0M1271.4 81.5h0M1273.3 81.9h0M1275.2 81.8h0M1277.1 80.9h0M1279 81.1h0M1280.9 81.4h0M1282.8 80.7h0M1284.7 80.1h0M1286.6 79h0M1288.5 79.8h0M1290.4 79.8h0M1292.3 79.8h0" fill="none" stroke="#e00000" stroke-width="6" stroke-linecap="round"/>
<path d="M1119.4 412.3 L1122.2 412.4 L1125 412.1 L1127.7 400.6 L1130.5 384 L1133.3 362.9 L1136.1 342.8 L1138.9 322 L1141.6 300.8 L1144.4 282 L1147.2 263.6 L1150 248.8 L1152.8 236.3 L1155.5 227.5 L1158.3 211.2 L1161.1 198.9 L1163.9 187.4 L1166.7 179.1 L1169.4 170.2 L1172.2 163.1 L1175 157.8 L1177.8 153.9 L1180.6 149.2 L1183.3 143.9 L1186.1 141.5 L1188.9 137.1 L1191.7 134.3 L1194.5 129.7 L1197.2 127.7 L1200 123.5 L1202.8 121.4 L1205.6 119.7 L1208.4 117.4 L1211.1 114.2 L1213.9 112.7 L1216.7 111.6 L1219.5 110.3 L1222.3 108.1 L1225 106.1 L1227.8 105.2 L1230.6 103 L1233.4 102.5 L1236.2 100.4 L1238.9 99.8 L1241.7 98.6 L1244.5 97.9 L1247.3 96.4 L1250.1 96.1 L1252.8 94.6 L1255.6 94.1 L1258.4 93.3 L1261.2 91.2 L1264 91.2 L1266.7 90.4 L1269.5 89.3 L1272.3 89 L1275.1 87.6 L1277.9 87.9 L1280.6 87.3 L1283.4 86.6 L1286.2 87 L1289 85.5 L1291.8 84.7 L1294.5 83.8 L1297.3 83.6 L1300.1 82.5 L1302.9 82.8 L1305.7 81.3 L1308.4 81.1 L1311.2 81.2 L1314 80.2 L1316.8 79.2 L1319.6 79.2 L1322.3 78 L1325.1 78 L1327.9 77.1 L1330.7 76.3 L1333.5 76.5 L1336.2 76.3 L1339 75.4 L1341.8 74.7 L1344.6 74.6 L1347.4 73.5 L1350.1 74 L1352.9 73.6 L1355.7 74.7 L1358.5 73.3 L1361.3 72.6 L1364 73.4 L1366.8 72.6 L1369.6 72.4 L1372.4 72.1 L1375.2 71.9 L1377.9 71.3 L1380.7 71.7 L1383.5 71.3 L1386.3 70.6 L1389.1 70.6 L1391.8 70.1 L1394.6 70.5 L1397.4 70.6 L1400.2 70.5 L1403 70.3 L1405.7 69.9 L1408.5 70.5 L1411.3 69.6 L1414.1 69.6 L1416.9 69.3 L1419.6 69.4 L1422.4 69.1 L1425.2 70.1 L1428 69.2 L1430.8 68.2" fill="none" stroke="#0000e6" stroke-width="0.8" stroke-opacity="0.6" clip-path="url(#lc2)"/>
<path d="M1119.4 412.3h0M1122.2 412.4h0M1125 412.1h0M1127.7 400.6h0M1130.5 384h0M1133.3 362.9h0M1136.1 342.8h0M1138.9 322h0M1141.6 300.8h0M1144.4 282h0M1147.2 263.6h0M1150 248.8h0M1152.8 236.3h0M1155.5 227.5h0M1158.3 211.2h0M1161.1 198.9h0M1163.9 187.4h0M1166.7 179.1h0M1169.4 170.2h0M1172.2 163.1h0M1175 157.8h0M1177.8 153.9h0M1180.6 149.2h0M1183.3 143.9h0M1186.1 141.5h0M1188.9 137.1h0M1191.7 134.3h0M1194.5 129.7h0M1197.2 127.7h0M1200 123.5h0M1202.8 121.4h0M1205.6 119.7h0M1208.4 117.4h0M1211.1 114.2h0M1213.9 112.7h0M1216.7 111.6h0M1219.5 110.3h0M1222.3 108.1h0M1225 106.1h0M1227.8 105.2h0M1230.6 103h0M1233.4 102.5h0M1236.2 100.4h0M1238.9 99.8h0M1241.7 98.6h0M1244.5 97.9h0M1247.3 96.4h0M1250.1 96.1h0M1252.8 94.6h0M1255.6 94.1h0M1258.4 93.3h0M1261.2 91.2h0M1264 91.2h0M1266.7 90.4h0M1269.5 89.3h0M1272.3 89h0M1275.1 87.6h0M1277.9 87.9h0M1280.6 87.3h0M1283.4 86.6h0M1286.2 87h0M1289 85.5h0M1291.8 84.7h0M1294.5 83.8h0M1297.3 83.6h0M1300.1 82.5h0M1302.9 82.8h0M1305.7 81.3h0M1308.4 81.1h0M1311.2 81.2h0M1314 80.2h0M1316.8 79.2h0M1319.6 79.2h0M1322.3 78h0M1325.1 78h0M1327.9 77.1h0M1330.7 76.3h0M1333.5 76.5h0M1336.2 76.3h0M1339 75.4h0M1341.8 74.7h0M1344.6 74.6h0M1347.4 73.5h0M1350.1 74h0M1352.9 73.6h0M1355.7 74.7h0M1358.5 73.3h0M1361.3 72.6h0M1364 73.4h0M1366.8 72.6h0M1369.6 72.4h0M1372.4 72.1h0M1375.2 71.9h0M1377.9 71.3h0M1380.7 71.7h0M1383.5 71.3h0M1386.3 70.6h0M1389.1 70.6h0M1391.8 70.1h0M1394.6 70.5h0M1397.4 70.6h0M1400.2 70.5h0M1403 70.3h0M1405.7 69.9h0M1408.5 70.5h0M1411.3 69.6h0M1414.1 69.6h0M1416.9 69.3h0M1419.6 69.4h0M1422.4 69.1h0M1425.2 70.1h0M1428 69.2h0M1430.8 68.2h0" fill="none" stroke="#0000e6" stroke-width="6" stroke-linecap="round"/>
<path d="M1119.4 412.4 L1122.2 412.2 L1125 412.7 L1127.7 412.3 L1130.5 412.3 L1133.3 412.5 L1136.1 411.1 L1138.9 399.4 L1141.6 388.1 L1144.4 372.6 L1147.2 355.7 L1150 341.6 L1152.8 325.2 L1155.5 308.2 L1158.3 294.2 L1161.1 278.5 L1163.9 265.2 L1166.7 253.3 L1169.4 240.7 L1172.2 230.9 L1175 220.3 L1177.8 210.4 L1180.6 200.4 L1183.3 191.6 L1186.1 184.3 L1188.9 177.6 L1191.7 171.9 L1194.5 166.9 L1197.2 162.7 L1200 158.4 L1202.8 154.7 L1205.6 149.7 L1208.4 145.7 L1211.1 142 L1213.9 138.7 L1216.7 135.8 L1219.5 132.9 L1222.3 130.8 L1225 127.7 L1227.8 126 L1230.6 122.8 L1233.4 120.4 L1236.2 118.4 L1238.9 116.4 L1241.7 114.6 L1244.5 113.3 L1247.3 111.7 L1250.1 109.9 L1252.8 108 L1255.6 106.6 L1258.4 105.9 L1261.2 104 L1264 102 L1266.7 101 L1269.5 99.9 L1272.3 99.5 L1275.1 97.8 L1277.9 97.8 L1280.6 96.1 L1283.4 94.9 L1286.2 93.8 L1289 93.5 L1291.8 92.2 L1294.5 91.1 L1297.3 90.9 L1300.1 89.8 L1302.9 89.6 L1305.7 88.2 L1308.4 86.2 L1311.2 87.1 L1314 85.3 L1316.8 86.2 L1319.6 85.7 L1322.3 84.1 L1325.1 83.2 L1327.9 82.6 L1330.7 83.2 L1333.5 82.2 L1336.2 81.6 L1339 81.4 L1341.8 82 L1344.6 80.7 L1347.4 80.5 L1350.1 80.1 L1352.9 79.8 L1355.7 79.4 L1358.5 78.2 L1361.3 78 L1364 77.4 L1366.8 77 L1369.6 77.5 L1372.4 76.3 L1375.2 76.2 L1377.9 75.5 L1380.7 75.2 L1383.5 75.5 L1386.3 74.7 L1389.1 74.4 L1391.8 74.5 L1394.6 74.2 L1397.4 74.1 L1400.2 73.6 L1403 72.4 L1405.7 73.3 L1408.5 73 L1411.3 73 L1414.1 71.9 L1416.9 73.2 L1419.6 71.3 L1422.4 72 L1425.2 71.4 L1428 71 L1430.8 71.4" fill="none" stroke="#0a5f1e" stroke-width="0.8" stroke-opacity="0.6" clip-path="url(#lc2)"/>
<path d="M1119.4 412.4h0M1122.2 412.2h0M1125 412.7h0M1127.7 412.3h0M1130.5 412.3h0M1133.3 412.5h0M1136.1 411.1h0M1138.9 399.4h0M1141.6 388.1h0M1144.4 372.6h0M1147.2 355.7h0M1150 341.6h0M1152.8 325.2h0M1155.5 308.2h0M1158.3 294.2h0M1161.1 278.5h0M1163.9 265.2h0M1166.7 253.3h0M1169.4 240.7h0M1172.2 230.9h0M1175 220.3h0M1177.8 210.4h0M1180.6 200.4h0M1183.3 191.6h0M1186.1 184.3h0M1188.9 177.6h0M1191.7 171.9h0M1194.5 166.9h0M1197.2 162.7h0M1200 158.4h0M1202.8 154.7h0M1205.6 149.7h0M1208.4 145.7h0M1211.1 142h0M1213.9 138.7h0M1216.7 135.8h0M1219.5 132.9h0M1222.3 130.8h0M1225 127.7h0M1227.8 126h0M1230.6 122.8h0M1233.4 120.4h0M1236.2 118.4h0M1238.9 116.4h0M1241.7 114.6h0M1244.5 113.3h0M1247.3 111.7h0M1250.1 109.9h0M1252.8 108h0M1255.6 106.6h0M1258.4 105.9h0M1261.2 104h0M1264 102h0M1266.7 101h0M1269.5 99.9h0M1272.3 99.5h0M1275.1 97.8h0M1277.9 97.8h0M1280.6 96.1h0M1283.4 94.9h0M1286.2 93.8h0M1289 93.5h0M1291.8 92.2h0M1294.5 91.1h0M1297.3 90.9h0M1300.1 89.8h0M1302.9 89.6h0M1305.7 88.2h0M1308.4 86.2h0M1311.2 87.1h0M1314 85.3h0M1316.8 86.2h0M1319.6 85.7h0M1322.3 84.1h0M1325.1 83.2h0M1327.9 82.6h0M1330.7 83.2h0M1333.5 82.2h0M1336.2 81.6h0M1339 81.4h0M1341.8 82h0M1344.6 80.7h0M1347.4 80.5h0M1350.1 80.1h0M1352.9 79.8h0M1355.7 79.4h0M1358.5 78.2h0M1361.3 78h0M1364 77.4h0M1366.8 77h0M1369.6 77.5h0M1372.4 76.3h0M1375.2 76.2h0M1377.9 75.5h0M1380.7 75.2h0M1383.5 75.5h0M1386.3 74.7h0M1389.1 74.4h0M1391.8 74.5h0M1394.6 74.2h0M1397.4 74.1h0M1400.2 73.6h0M1403 72.4h0M1405.7 73.3h0M1408.5 73h0M1411.3 73h0M1414.1 71.9h0M1416.9 73.2h0M1419.6 71.3h0M1422.4 72h0M1425.2 71.4h0M1428 71h0M1430.8 71.4h0" fill="none" stroke="#0a5f1e" stroke-width="6" stroke-linecap="round"/>
<path d="M1119.4 412.3 L1122.2 412.4 L1125 412.3 L1127.7 412.2 L1130.5 411.9 L1133.3 412.4 L1136.1 412.5 L1138.9 412.1 L1141.6 412.6 L1144.4 412.2 L1147.2 412 L1150 402.2 L1152.8 393.6 L1155.5 383.2 L1158.3 371 L1161.1 359 L1163.9 348.4 L1166.7 334.1 L1169.4 321.4 L1172.2 309.3 L1175 295.8 L1177.8 286.5 L1180.6 275.3 L1183.3 262.5 L1186.1 252.8 L1188.9 243.6 L1191.7 234.8 L1194.5 226 L1197.2 215.9 L1200 207.5 L1202.8 198.9 L1205.6 190.4 L1208.4 184.6 L1211.1 179 L1213.9 173.5 L1216.7 168.7 L1219.5 163.3 L1222.3 159.3 L1225 155.2 L1227.8 151.7 L1230.6 148.8 L1233.4 144.7 L1236.2 141.7 L1238.9 139.8 L1241.7 136.6 L1244.5 133.2 L1247.3 131.4 L1250.1 127.7 L1252.8 125.3 L1255.6 122.7 L1258.4 121.1 L1261.2 119.3 L1264 116.8 L1266.7 115.4 L1269.5 113.4 L1272.3 113.1 L1275.1 111.3 L1277.9 108.8 L1280.6 107.9 L1283.4 106.7 L1286.2 105.1 L1289 103.4 L1291.8 102.6 L1294.5 101.9 L1297.3 100.7 L1300.1 99.1 L1302.9 98.7 L1305.7 97.1 L1308.4 95.7 L1311.2 95.9 L1314 95.4 L1316.8 94.3 L1319.6 93.9 L1322.3 93.3 L1325.1 91.9 L1327.9 90.7 L1330.7 90.3 L1333.5 89 L1336.2 89 L1339 88.3 L1341.8 87.8 L1344.6 87.5 L1347.4 85.3 L1350.1 85.8 L1352.9 84.5 L1355.7 84.4 L1358.5 83.4 L1361.3 82.3 L1364 82.6 L1366.8 81.4 L1369.6 81.5 L1372.4 80.6 L1375.2 80.3 L1377.9 80.2 L1380.7 80.6 L1383.5 79.7 L1386.3 79 L1389.1 79.3 L1391.8 78.2 L1394.6 77.7 L1397.4 77 L1400.2 77.2 L1403 76.8 L1405.7 76.2 L1408.5 75.4 L1411.3 75.9 L1414.1 75.8 L1416.9 75.3 L1419.6 74.9 L1422.4 74.6 L1425.2 74.7 L1428 75.3 L1430.8 74.7" fill="none" stroke="#000000" stroke-width="0.8" stroke-opacity="0.6" clip-path="url(#lc2)"/>
<path d="M1119.4 412.3h0M1122.2 412.4h0M1125 412.3h0M1127.7 412.2h0M1130.5 411.9h0M1133.3 412.4h0M1136.1 412.5h0M1138.9 412.1h0M1141.6 412.6h0M1144.4 412.2h0M1147.2 412h0M1150 402.2h0M1152.8 393.6h0M1155.5 383.2h0M1158.3 371h0M1161.1 359h0M1163.9 348.4h0M1166.7 334.1h0M1169.4 321.4h0M1172.2 309.3h0M1175 295.8h0M1177.8 286.5h0M1180.6 275.3h0M1183.3 262.5h0M1186.1 252.8h0M1188.9 243.6h0M1191.7 234.8h0M1194.5 226h0M1197.2 215.9h0M1200 207.5h0M1202.8 198.9h0M1205.6 190.4h0M1208.4 184.6h0M1211.1 179h0M1213.9 173.5h0M1216.7 168.7h0M1219.5 163.3h0M1222.3 159.3h0M1225 155.2h0M1227.8 151.7h0M1230.6 148.8h0M1233.4 144.7h0M1236.2 141.7h0M1238.9 139.8h0M1241.7 136.6h0M1244.5 133.2h0M1247.3 131.4h0M1250.1 127.7h0M1252.8 125.3h0M1255.6 122.7h0M1258.4 121.1h0M1261.2 119.3h0M1264 116.8h0M1266.7 115.4h0M1269.5 113.4h0M1272.3 113.1h0M1275.1 111.3h0M1277.9 108.8h0M1280.6 107.9h0M1283.4 106.7h0M1286.2 105.1h0M1289 103.4h0M1291.8 102.6h0M1294.5 101.9h0M1297.3 100.7h0M1300.1 99.1h0M1302.9 98.7h0M1305.7 97.1h0M1308.4 95.7h0M1311.2 95.9h0M1314 95.4h0M1316.8 94.3h0M1319.6 93.9h0M1322.3 93.3h0M1325.1 91.9h0M1327.9 90.7h0M1330.7 90.3h0M1333.5 89h0M1336.2 89h0M1339 88.3h0M1341.8 87.8h0M1344.6 87.5h0M1347.4 85.3h0M1350.1 85.8h0M1352.9 84.5h0M1355.7 84.4h0M1358.5 83.4h0M1361.3 82.3h0M1364 82.6h0M1366.8 81.4h0M1369.6 81.5h0M1372.4 80.6h0M1375.2 80.3h0M1377.9 80.2h0M1380.7 80.6h0M1383.5 79.7h0M1386.3 79h0M1389.1 79.3h0M1391.8 78.2h0M1394.6 77.7h0M1397.4 77h0M1400.2 77.2h0M1403 76.8h0M1405.7 76.2h0M1408.5 75.4h0M1411.3 75.9h0M1414.1 75.8h0M1416.9 75.3h0M1419.6 74.9h0M1422.4 74.6h0M1425.2 74.7h0M1428 75.3h0M1430.8 74.7h0" fill="none" stroke="#000000" stroke-width="6" stroke-linecap="round"/>
<path d="M1119.4 412.6 L1122.2 412.2 L1125 412.3 L1127.7 412.4 L1130.5 412.2 L1133.3 412.3 L1136.1 412.3 L1138.9 412 L1141.6 412.5 L1144.4 412.4 L1147.2 412.2 L1150 412.3 L1152.8 412.4 L1155.5 412.3 L1158.3 411.4 L1161.1 403.6 L1163.9 397.2 L1166.7 390.1 L1169.4 381 L1172.2 371.6 L1175 364.5 L1177.8 353.8 L1180.6 342.9 L1183.3 334.4 L1186.1 321.5 L1188.9 312.5 L1191.7 302.7 L1194.5 291.6 L1197.2 280 L1200 271.1 L1202.8 261.2 L1205.6 256.6 L1208.4 246.1 L1211.1 239.8 L1213.9 230.6 L1216.7 224.2 L1219.5 217.5 L1222.3 210 L1225 202.7 L1227.8 195.2 L1230.6 190.2 L1233.4 184.4 L1236.2 179 L1238.9 173.2 L1241.7 168.5 L1244.5 164.7 L1247.3 162 L1250.1 159.4 L1252.8 155.1 L1255.6 151.2 L1258.4 148.7 L1261.2 144.5 L1264 141.5 L1266.7 138.9 L1269.5 136.3 L1272.3 133.9 L1275.1 131.3 L1277.9 130.2 L1280.6 128 L1283.4 126.7 L1286.2 124.1 L1289 121.5 L1291.8 120.4 L1294.5 119.5 L1297.3 116.9 L1300.1 115.1 L1302.9 113.5 L1305.7 112.1 L1308.4 111 L1311.2 109.3 L1314 109.2 L1316.8 107.1 L1319.6 106 L1322.3 105.4 L1325.1 104.2 L1327.9 102.2 L1330.7 101.3 L1333.5 100.3 L1336.2 98.8 L1339 97.1 L1341.8 97.3 L1344.6 96.6 L1347.4 95.6 L1350.1 94.3 L1352.9 94 L1355.7 93.1 L1358.5 92.6 L1361.3 92.7 L1364 92.2 L1366.8 91.3 L1369.6 90.6 L1372.4 90.1 L1375.2 89.3 L1377.9 88.7 L1380.7 87.9 L1383.5 87.6 L1386.3 88.1 L1389.1 86.9 L1391.8 85.8 L1394.6 85.1 L1397.4 84.4 L1400.2 84.4 L1403 83.9 L1405.7 82.6 L1408.5 83.1 L1411.3 82.2 L1414.1 82.7 L1416.9 81.7 L1419.6 82 L1422.4 80.7 L1425.2 80.5 L1428 80.4 L1430.8 80.5" fill="none" stroke="#f4149a" stroke-width="0.8" stroke-opacity="0.6" clip-path="url(#lc2)"/>
<path d="M1119.4 412.6h0M1122.2 412.2h0M1125 412.3h0M1127.7 412.4h0M1130.5 412.2h0M1133.3 412.3h0M1136.1 412.3h0M1138.9 412h0M1141.6 412.5h0M1144.4 412.4h0M1147.2 412.2h0M1150 412.3h0M1152.8 412.4h0M1155.5 412.3h0M1158.3 411.4h0M1161.1 403.6h0M1163.9 397.2h0M1166.7 390.1h0M1169.4 381h0M1172.2 371.6h0M1175 364.5h0M1177.8 353.8h0M1180.6 342.9h0M1183.3 334.4h0M1186.1 321.5h0M1188.9 312.5h0M1191.7 302.7h0M1194.5 291.6h0M1197.2 280h0M1200 271.1h0M1202.8 261.2h0M1205.6 256.6h0M1208.4 246.1h0M1211.1 239.8h0M1213.9 230.6h0M1216.7 224.2h0M1219.5 217.5h0M1222.3 210h0M1225 202.7h0M1227.8 195.2h0M1230.6 190.2h0M1233.4 184.4h0M1236.2 179h0M1238.9 173.2h0M1241.7 168.5h0M1244.5 164.7h0M1247.3 162h0M1250.1 159.4h0M1252.8 155.1h0M1255.6 151.2h0M1258.4 148.7h0M1261.2 144.5h0M1264 141.5h0M1266.7 138.9h0M1269.5 136.3h0M1272.3 133.9h0M1275.1 131.3h0M1277.9 130.2h0M1280.6 128h0M1283.4 126.7h0M1286.2 124.1h0M1289 121.5h0M1291.8 120.4h0M1294.5 119.5h0M1297.3 116.9h0M1300.1 115.1h0M1302.9 113.5h0M1305.7 112.1h0M1308.4 111h0M1311.2 109.3h0M1314 109.2h0M1316.8 107.1h0M1319.6 106h0M1322.3 105.4h0M1325.1 104.2h0M1327.9 102.2h0M1330.7 101.3h0M1333.5 100.3h0M1336.2 98.8h0M1339 97.1h0M1341.8 97.3h0M1344.6 96.6h0M1347.4 95.6h0M1350.1 94.3h0M1352.9 94h0M1355.7 93.1h0M1358.5 92.6h0M1361.3 92.7h0M1364 92.2h0M1366.8 91.3h0M1369.6 90.6h0M1372.4 90.1h0M1375.2 89.3h0M1377.9 88.7h0M1380.7 87.9h0M1383.5 87.6h0M1386.3 88.1h0M1389.1 86.9h0M1391.8 85.8h0M1394.6 85.1h0M1397.4 84.4h0M1400.2 84.4h0M1403 83.9h0M1405.7 82.6h0M1408.5 83.1h0M1411.3 82.2h0M1414.1 82.7h0M1416.9 81.7h0M1419.6 82h0M1422.4 80.7h0M1425.2 80.5h0M1428 80.4h0M1430.8 80.5h0" fill="none" stroke="#f4149a" stroke-width="6" stroke-linecap="round"/>
<path d="M1119.4 412.3 L1122.2 412.5 L1125 412 L1127.7 412.1 L1130.5 411.9 L1133.3 412.7 L1136.1 412.6 L1138.9 412.6 L1141.6 412.4 L1144.4 412.5 L1147.2 412.1 L1150 412.6 L1152.8 412.1 L1155.5 412.2 L1158.3 412.2 L1161.1 412.2 L1163.9 412.4 L1166.7 412.3 L1169.4 412 L1172.2 405.7 L1175 400.8 L1177.8 394.1 L1180.6 388.3 L1183.3 382.3 L1186.1 375.2 L1188.9 368.9 L1191.7 360.2 L1194.5 351.4 L1197.2 343.6 L1200 334.6 L1202.8 326.8 L1205.6 317.7 L1208.4 309.5 L1211.1 301.3 L1213.9 293 L1216.7 284.6 L1219.5 277 L1222.3 267.9 L1225 260 L1227.8 252.4 L1230.6 244.8 L1233.4 237.6 L1236.2 230.9 L1238.9 227.8 L1241.7 221.2 L1244.5 214.2 L1247.3 207.8 L1250.1 201.8 L1252.8 195.8 L1255.6 192.7 L1258.4 185.5 L1261.2 180.9 L1264 177.8 L1266.7 173.5 L1269.5 171.2 L1272.3 167.4 L1275.1 163.3 L1277.9 159.4 L1280.6 156.8 L1283.4 153.8 L1286.2 149.6 L1289 146.8 L1291.8 143.1 L1294.5 140.6 L1297.3 137.8 L1300.1 135.9 L1302.9 133.6 L1305.7 130.9 L1308.4 131 L1311.2 128.1 L1314 126.5 L1316.8 125.3 L1319.6 123 L1322.3 121.2 L1325.1 119.5 L1327.9 117 L1330.7 116.4 L1333.5 114.2 L1336.2 112.2 L1339 111.3 L1341.8 109.7 L1344.6 107.8 L1347.4 107.1 L1350.1 105.8 L1352.9 104.9 L1355.7 103.8 L1358.5 103 L1361.3 101.1 L1364 100.7 L1366.8 99.4 L1369.6 99.2 L1372.4 97.5 L1375.2 96.3 L1377.9 96.3 L1380.7 96.9 L1383.5 95.5 L1386.3 94.2 L1389.1 94.6 L1391.8 92.6 L1394.6 91.9 L1397.4 91.7 L1400.2 90.8 L1403 90 L1405.7 89.3 L1408.5 88.9 L1411.3 88.9 L1414.1 87.4 L1416.9 87.2 L1419.6 87.7 L1422.4 87.8 L1425.2 85.5 L1428 86.1 L1430.8 86.4" fill="none" stroke="#40e8f8" stroke-width="0.8" stroke-opacity="0.6" clip-path="url(#lc2)"/>
<path d="M1119.4 412.3h0M1122.2 412.5h0M1125 412h0M1127.7 412.1h0M1130.5 411.9h0M1133.3 412.7h0M1136.1 412.6h0M1138.9 412.6h0M1141.6 412.4h0M1144.4 412.5h0M1147.2 412.1h0M1150 412.6h0M1152.8 412.1h0M1155.5 412.2h0M1158.3 412.2h0M1161.1 412.2h0M1163.9 412.4h0M1166.7 412.3h0M1169.4 412h0M1172.2 405.7h0M1175 400.8h0M1177.8 394.1h0M1180.6 388.3h0M1183.3 382.3h0M1186.1 375.2h0M1188.9 368.9h0M1191.7 360.2h0M1194.5 351.4h0M1197.2 343.6h0M1200 334.6h0M1202.8 326.8h0M1205.6 317.7h0M1208.4 309.5h0M1211.1 301.3h0M1213.9 293h0M1216.7 284.6h0M1219.5 277h0M1222.3 267.9h0M1225 260h0M1227.8 252.4h0M1230.6 244.8h0M1233.4 237.6h0M1236.2 230.9h0M1238.9 227.8h0M1241.7 221.2h0M1244.5 214.2h0M1247.3 207.8h0M1250.1 201.8h0M1252.8 195.8h0M1255.6 192.7h0M1258.4 185.5h0M1261.2 180.9h0M1264 177.8h0M1266.7 173.5h0M1269.5 171.2h0M1272.3 167.4h0M1275.1 163.3h0M1277.9 159.4h0M1280.6 156.8h0M1283.4 153.8h0M1286.2 149.6h0M1289 146.8h0M1291.8 143.1h0M1294.5 140.6h0M1297.3 137.8h0M1300.1 135.9h0M1302.9 133.6h0M1305.7 130.9h0M1308.4 131h0M1311.2 128.1h0M1314 126.5h0M1316.8 125.3h0M1319.6 123h0M1322.3 121.2h0M1325.1 119.5h0M1327.9 117h0M1330.7 116.4h0M1333.5 114.2h0M1336.2 112.2h0M1339 111.3h0M1341.8 109.7h0M1344.6 107.8h0M1347.4 107.1h0M1350.1 105.8h0M1352.9 104.9h0M1355.7 103.8h0M1358.5 103h0M1361.3 101.1h0M1364 100.7h0M1366.8 99.4h0M1369.6 99.2h0M1372.4 97.5h0M1375.2 96.3h0M1377.9 96.3h0M1380.7 96.9h0M1383.5 95.5h0M1386.3 94.2h0M1389.1 94.6h0M1391.8 92.6h0M1394.6 91.9h0M1397.4 91.7h0M1400.2 90.8h0M1403 90h0M1405.7 89.3h0M1408.5 88.9h0M1411.3 88.9h0M1414.1 87.4h0M1416.9 87.2h0M1419.6 87.7h0M1422.4 87.8h0M1425.2 85.5h0M1428 86.1h0M1430.8 86.4h0" fill="none" stroke="#40e8f8" stroke-width="6" stroke-linecap="round"/>
<path d="M1118.7 412.4 L1121 412.2 L1122.6 412.4 L1123.7 412.2 L1125.3 412.2 L1127 412.5 L1128.9 412.3 L1130.2 412.4 L1131.6 412.2 L1133.6 412.3 L1134.9 412.2 L1137.5 412.2 L1139.2 412.2 L1139.6 412.3 L1142.1 412.3 L1143.5 412.3 L1145.6 412.4 L1146.8 412 L1148.3 412 L1150.1 412.4 L1151.2 412.1 L1153.3 412.2 L1155.1 412.4 L1156.2 412.2 L1158.4 412.3 L1159.8 412.1 L1161.7 412.3 L1162.1 412.3 L1164.2 412.4 L1166.4 412.3 L1167.6 412.5 L1169.5 412.2 L1171.3 412.3 L1171.8 412.2 L1173.4 412.4 L1175.9 412.2 L1177.6 412.4 L1179 412.3 L1180 412.3 L1181.7 410.7 L1183.6 406 L1185 402.5 L1186.6 399.7 L1188.1 397.4 L1190.3 392.9 L1191 392.2 L1193.3 388.1 L1194.9 384.8 L1196.8 380.5 L1197.2 380.2 L1199.6 374.7 L1201.2 371.5 L1202.5 369.3 L1203.6 366.2 L1205.2 363.1 L1206.9 357.9 L1209.4 352.8 L1210.1 351.8 L1211.7 346.9 L1213.6 343 L1215.4 338.2 L1217.3 332.2 L1219 329.3 L1219.9 327.3 L1222.4 320.5 L1222.7 319.7 L1224.8 314.4 L1226.2 311.6 L1228 306.4 L1229.7 302.9 L1231.4 297.8 L1232.9 295 L1234.2 291.1 L1235.8 286.4 L1237.4 283.5 L1239.7 277.3 L1240.9 275.3 L1242.7 270.8 L1244.2 266.1 L1245.7 263.9 L1247.7 258.9 L1249.1 254.6 L1250.3 252.7 L1252.9 247 L1253.4 245.8 L1254.9 243.1 L1257.2 237.7 L1258.6 235.5 L1259.8 233.4 L1261.3 230.5 L1263.5 226 L1264.7 223.6 L1266 222 L1268.2 219.6 L1270 216.1 L1270.8 213.7 L1273 210.1 L1274 207.2 L1276.6 203.2 L1278.2 200.2 L1279.1 199 L1280.4 197.5 L1283.2 191.6 L1284.2 190.5 L1285.3 188.5 L1286.9 186.3 L1289.5 181.5 L1290.7 180.4 L1291.9 177.9 L1293.9 175.5 L1295.1 174 L1297.4 170.6 L1298.6 170.7 L1300.9 167.4 L1301.8 165.9 L1304 163.7 L1304.6 163 L1306.6 160.5 L1308.2 159.4 L1310.2 157.3 L1310.8 157 L1313.5 154.3 L1315 153 L1316.1 150.9 L1317.2 150.7 L1319.8 148.4 L1321.3 147.2 L1323.2 145.4 L1324.3 144.2 L1326.5 141.4 L1327.1 141.5 L1328.8 138.4 L1330.9 136.7 L1332.5 136.3 L1334.1 133.7 L1336 132.9 L1337.3 132 L1338.9 130.1 L1340.7 129.7 L1342 129.1 L1343.1 127.6 L1345.5 125.6 L1346.2 125.2 L1348.5 123.9 L1349.9 124.1 L1351.2 123.1 L1352.6 122.2 L1355.1 120.7 L1355.6 120.2 L1358.2 119.6 L1359.7 118.2 L1360.9 117.6 L1362.8 117.5 L1363.9 116.9 L1366.3 114.7 L1366.9 115.2 L1369.1 114.4 L1370.5 112.9 L1372.4 112.8 L1373.8 111.3 L1376 111.3 L1377.5 110.7 L1379.2 110 L1379.5 109.7 L1381.3 109.6 L1383.4 108.4 L1385.3 107.8 L1386.4 107.3 L1388.3 107.4 L1389.2 107 L1391.6 105.7 L1393.3 105.1 L1394.5 104.3 L1395.7 104.5 L1397.7 104.1 L1399.7 103.6 L1401.1 102.8 L1403.1 101.8 L1404.3 102.2 L1405.3 103.1 L1407.5 101.8 L1408.4 101.3 L1410.9 100.9 L1411.8 99.4 L1414.4 99.4 L1415.4 99.7 L1416.9 98.8 L1418.1 99.4 L1420.6 99.1 L1422.4 98.2 L1423.7 97.6 L1425.2 98.4 L1426.9 96.8 L1428.5 97.6 L1430.1 96.7" fill="none" stroke="#f47320" stroke-width="0.8" stroke-opacity="0.6" clip-path="url(#lc2)"/>
<path d="M1118.7 412.4h0M1121 412.2h0M1122.6 412.4h0M1123.7 412.2h0M1125.3 412.2h0M1127 412.5h0M1128.9 412.3h0M1130.2 412.4h0M1131.6 412.2h0M1133.6 412.3h0M1134.9 412.2h0M1137.5 412.2h0M1139.2 412.2h0M1139.6 412.3h0M1142.1 412.3h0M1143.5 412.3h0M1145.6 412.4h0M1146.8 412h0M1148.3 412h0M1150.1 412.4h0M1151.2 412.1h0M1153.3 412.2h0M1155.1 412.4h0M1156.2 412.2h0M1158.4 412.3h0M1159.8 412.1h0M1161.7 412.3h0M1162.1 412.3h0M1164.2 412.4h0M1166.4 412.3h0M1167.6 412.5h0M1169.5 412.2h0M1171.3 412.3h0M1171.8 412.2h0M1173.4 412.4h0M1175.9 412.2h0M1177.6 412.4h0M1179 412.3h0M1180 412.3h0M1181.7 410.7h0M1183.6 406h0M1185 402.5h0M1186.6 399.7h0M1188.1 397.4h0M1190.3 392.9h0M1191 392.2h0M1193.3 388.1h0M1194.9 384.8h0M1196.8 380.5h0M1197.2 380.2h0M1199.6 374.7h0M1201.2 371.5h0M1202.5 369.3h0M1203.6 366.2h0M1205.2 363.1h0M1206.9 357.9h0M1209.4 352.8h0M1210.1 351.8h0M1211.7 346.9h0M1213.6 343h0M1215.4 338.2h0M1217.3 332.2h0M1219 329.3h0M1219.9 327.3h0M1222.4 320.5h0M1222.7 319.7h0M1224.8 314.4h0M1226.2 311.6h0M1228 306.4h0M1229.7 302.9h0M1231.4 297.8h0M1232.9 295h0M1234.2 291.1h0M1235.8 286.4h0M1237.4 283.5h0M1239.7 277.3h0M1240.9 275.3h0M1242.7 270.8h0M1244.2 266.1h0M1245.7 263.9h0M1247.7 258.9h0M1249.1 254.6h0M1250.3 252.7h0M1252.9 247h0M1253.4 245.8h0M1254.9 243.1h0M1257.2 237.7h0M1258.6 235.5h0M1259.8 233.4h0M1261.3 230.5h0M1263.5 226h0M1264.7 223.6h0M1266 222h0M1268.2 219.6h0M1270 216.1h0M1270.8 213.7h0M1273 210.1h0M1274 207.2h0M1276.6 203.2h0M1278.2 200.2h0M1279.1 199h0M1280.4 197.5h0M1283.2 191.6h0M1284.2 190.5h0M1285.3 188.5h0M1286.9 186.3h0M1289.5 181.5h0M1290.7 180.4h0M1291.9 177.9h0M1293.9 175.5h0M1295.1 174h0M1297.4 170.6h0M1298.6 170.7h0M1300.9 167.4h0M1301.8 165.9h0M1304 163.7h0M1304.6 163h0M1306.6 160.5h0M1308.2 159.4h0M1310.2 157.3h0M1310.8 157h0M1313.5 154.3h0M1315 153h0M1316.1 150.9h0M1317.2 150.7h0M1319.8 148.4h0M1321.3 147.2h0M1323.2 145.4h0M1324.3 144.2h0M1326.5 141.4h0M1327.1 141.5h0M1328.8 138.4h0M1330.9 136.7h0M1332.5 136.3h0M1334.1 133.7h0M1336 132.9h0M1337.3 132h0M1338.9 130.1h0M1340.7 129.7h0M1342 129.1h0M1343.1 127.6h0M1345.5 125.6h0M1346.2 125.2h0M1348.5 123.9h0M1349.9 124.1h0M1351.2 123.1h0M1352.6 122.2h0M1355.1 120.7h0M1355.6 120.2h0M1358.2 119.6h0M1359.7 118.2h0M1360.9 117.6h0M1362.8 117.5h0M1363.9 116.9h0M1366.3 114.7h0M1366.9 115.2h0M1369.1 114.4h0M1370.5 112.9h0M1372.4 112.8h0M1373.8 111.3h0M1376 111.3h0M1377.5 110.7h0M1379.2 110h0M1379.5 109.7h0M1381.3 109.6h0M1383.4 108.4h0M1385.3 107.8h0M1386.4 107.3h0M1388.3 107.4h0M1389.2 107h0M1391.6 105.7h0M1393.3 105.1h0M1394.5 104.3h0M1395.7 104.5h0M1397.7 104.1h0M1399.7 103.6h0M1401.1 102.8h0M1403.1 101.8h0M1404.3 102.2h0M1405.3 103.1h0M1407.5 101.8h0M1408.4 101.3h0M1410.9 100.9h0M1411.8 99.4h0M1414.4 99.4h0M1415.4 99.7h0M1416.9 98.8h0M1418.1 99.4h0M1420.6 99.1h0M1422.4 98.2h0M1423.7 97.6h0M1425.2 98.4h0M1426.9 96.8h0M1428.5 97.6h0M1430.1 96.7h0" fill="none" stroke="#f47320" stroke-width="6" stroke-linecap="round"/>
<path d="M1119.8 412.5 L1120.3 412.1 L1122.8 412.2 L1124.5 412.5 L1125.8 412.2 L1127 412.5 L1128.6 412.3 L1131 412.5 L1131.7 412.4 L1133.2 412.2 L1135.7 412.3 L1137.6 412.6 L1137.9 412.1 L1140.2 412.4 L1142.2 412.4 L1143.6 412.2 L1145.3 412.3 L1146.3 412.3 L1148.8 412.3 L1150.1 412.4 L1151.5 412.3 L1152.5 412.3 L1154.4 412.2 L1156.4 412.3 L1157.7 412.2 L1159.3 412.4 L1161.2 412.2 L1162.6 412.5 L1164.4 412.4 L1165.9 412.4 L1167.8 412.7 L1169 412.5 L1171.2 412.3 L1171.9 412.2 L1173.2 412.4 L1175.1 411.9 L1176.5 412.2 L1179.1 412.4 L1179.6 412.5 L1182 412.2 L1183.5 412.1 L1185.4 412.2 L1186.2 412.3 L1188.7 412.5 L1189.6 412.4 L1191.8 412.1 L1192.7 411.8 L1195.1 407.3 L1196 406.3 L1197.3 402.8 L1199.2 398 L1200.4 396 L1203 392.9 L1203.7 391.8 L1205.6 388.6 L1208 385.9 L1209.7 382.7 L1210.5 380.8 L1212.7 377.8 L1213.5 376.2 L1215.5 373.1 L1217.6 368.9 L1218.6 367.8 L1220.3 363.8 L1221.2 363 L1223.2 359 L1224.4 357.1 L1226.3 352.7 L1228 349.4 L1230.2 345.3 L1230.8 344.3 L1232.9 339.5 L1234.3 336.7 L1236.4 332.4 L1237.6 329.9 L1238.8 328.3 L1241.5 322.8 L1243 319.6 L1244.7 316.1 L1245.7 314.5 L1247.5 310.1 L1249 307.5 L1250.7 304.4 L1251.9 301.2 L1253.5 298.6 L1254.7 295.6 L1256.7 292.6 L1258.2 289 L1260.3 286.3 L1261.9 281.3 L1263.4 278.9 L1264.7 277.2 L1266 275 L1268.9 269.4 L1269.6 267.8 L1271.4 264.6 L1273.7 260.3 L1274.5 258.6 L1275.9 256.2 L1277.8 253 L1279.5 250.2 L1281.5 247 L1282 246.1 L1284.2 241.6 L1286.2 239.9 L1287.7 235.8 L1289.1 233.8 L1290 232.2 L1292 229.2 L1293.9 226.5 L1295.1 223.7 L1297 220.8 L1298.8 217.1 L1299.7 214.8 L1301.2 212.6 L1303.2 209.4 L1304.5 206.7 L1306.2 204.8 L1308.7 199.5 L1309.6 198.6 L1311 195.3 L1313.4 193.4 L1314 192.5 L1316.5 189.1 L1317.8 188.1 L1319.5 186.3 L1320.5 184.8 L1322.2 183.3 L1324.4 180.3 L1325.2 179.4 L1327 177.1 L1329.1 175.2 L1330.2 174 L1332 171.6 L1334.4 169.1 L1336 167.6 L1337.1 166.9 L1338.6 164.4 L1339.5 163.9 L1342.5 160.4 L1343.5 159.5 L1345.4 158.4 L1346.7 156.4 L1348.7 156 L1349.9 152.9 L1351.7 153 L1352.5 151.9 L1354.5 150 L1356.5 147.8 L1357.2 148.1 L1359.3 145.6 L1360.5 144.1 L1362.6 143.1 L1364.6 141.6 L1365.2 140.6 L1367.8 138.7 L1369.1 137.8 L1370.7 136.4 L1371.8 135.6 L1373.7 134.1 L1375.1 133.3 L1376.4 133.2 L1377.9 131.2 L1380.1 129.8 L1382.1 129.3 L1383.5 128.8 L1384.8 127.9 L1386.1 127.1 L1388.7 124.4 L1389.9 125.5 L1391.8 125 L1393.5 123.7 L1394.7 123 L1396.6 122.1 L1398 121.1 L1398.7 121 L1401.4 120.2 L1402.1 120.5 L1404.1 118.8 L1405.8 118.9 L1407.4 117.7 L1409.5 117.4 L1410.1 117.2 L1411.5 115.9 L1414.3 115 L1415.7 114.8 L1416.9 114.4 L1418.5 112.8 L1419.7 113 L1421.6 113.3 L1422.8 111.9 L1425.3 111.3 L1426 110.7 L1427.8 110.7 L1429.9 109.7" fill="none" stroke="#9a1fe0" stroke-width="0.8" stroke-opacity="0.6" clip-path="url(#lc2)"/>
<path d="M1119.8 412.5h0M1120.3 412.1h0M1122.8 412.2h0M1124.5 412.5h0M1125.8 412.2h0M1127 412.5h0M1128.6 412.3h0M1131 412.5h0M1131.7 412.4h0M1133.2 412.2h0M1135.7 412.3h0M1137.6 412.6h0M1137.9 412.1h0M1140.2 412.4h0M1142.2 412.4h0M1143.6 412.2h0M1145.3 412.3h0M1146.3 412.3h0M1148.8 412.3h0M1150.1 412.4h0M1151.5 412.3h0M1152.5 412.3h0M1154.4 412.2h0M1156.4 412.3h0M1157.7 412.2h0M1159.3 412.4h0M1161.2 412.2h0M1162.6 412.5h0M1164.4 412.4h0M1165.9 412.4h0M1167.8 412.7h0M1169 412.5h0M1171.2 412.3h0M1171.9 412.2h0M1173.2 412.4h0M1175.1 411.9h0M1176.5 412.2h0M1179.1 412.4h0M1179.6 412.5h0M1182 412.2h0M1183.5 412.1h0M1185.4 412.2h0M1186.2 412.3h0M1188.7 412.5h0M1189.6 412.4h0M1191.8 412.1h0M1192.7 411.8h0M1195.1 407.3h0M1196 406.3h0M1197.3 402.8h0M1199.2 398h0M1200.4 396h0M1203 392.9h0M1203.7 391.8h0M1205.6 388.6h0M1208 385.9h0M1209.7 382.7h0M1210.5 380.8h0M1212.7 377.8h0M1213.5 376.2h0M1215.5 373.1h0M1217.6 368.9h0M1218.6 367.8h0M1220.3 363.8h0M1221.2 363h0M1223.2 359h0M1224.4 357.1h0M1226.3 352.7h0M1228 349.4h0M1230.2 345.3h0M1230.8 344.3h0M1232.9 339.5h0M1234.3 336.7h0M1236.4 332.4h0M1237.6 329.9h0M1238.8 328.3h0M1241.5 322.8h0M1243 319.6h0M1244.7 316.1h0M1245.7 314.5h0M1247.5 310.1h0M1249 307.5h0M1250.7 304.4h0M1251.9 301.2h0M1253.5 298.6h0M1254.7 295.6h0M1256.7 292.6h0M1258.2 289h0M1260.3 286.3h0M1261.9 281.3h0M1263.4 278.9h0M1264.7 277.2h0M1266 275h0M1268.9 269.4h0M1269.6 267.8h0M1271.4 264.6h0M1273.7 260.3h0M1274.5 258.6h0M1275.9 256.2h0M1277.8 253h0M1279.5 250.2h0M1281.5 247h0M1282 246.1h0M1284.2 241.6h0M1286.2 239.9h0M1287.7 235.8h0M1289.1 233.8h0M1290 232.2h0M1292 229.2h0M1293.9 226.5h0M1295.1 223.7h0M1297 220.8h0M1298.8 217.1h0M1299.7 214.8h0M1301.2 212.6h0M1303.2 209.4h0M1304.5 206.7h0M1306.2 204.8h0M1308.7 199.5h0M1309.6 198.6h0M1311 195.3h0M1313.4 193.4h0M1314 192.5h0M1316.5 189.1h0M1317.8 188.1h0M1319.5 186.3h0M1320.5 184.8h0M1322.2 183.3h0M1324.4 180.3h0M1325.2 179.4h0M1327 177.1h0M1329.1 175.2h0M1330.2 174h0M1332 171.6h0M1334.4 169.1h0M1336 167.6h0M1337.1 166.9h0M1338.6 164.4h0M1339.5 163.9h0M1342.5 160.4h0M1343.5 159.5h0M1345.4 158.4h0M1346.7 156.4h0M1348.7 156h0M1349.9 152.9h0M1351.7 153h0M1352.5 151.9h0M1354.5 150h0M1356.5 147.8h0M1357.2 148.1h0M1359.3 145.6h0M1360.5 144.1h0M1362.6 143.1h0M1364.6 141.6h0M1365.2 140.6h0M1367.8 138.7h0M1369.1 137.8h0M1370.7 136.4h0M1371.8 135.6h0M1373.7 134.1h0M1375.1 133.3h0M1376.4 133.2h0M1377.9 131.2h0M1380.1 129.8h0M1382.1 129.3h0M1383.5 128.8h0M1384.8 127.9h0M1386.1 127.1h0M1388.7 124.4h0M1389.9 125.5h0M1391.8 125h0M1393.5 123.7h0M1394.7 123h0M1396.6 122.1h0M1398 121.1h0M1398.7 121h0M1401.4 120.2h0M1402.1 120.5h0M1404.1 118.8h0M1405.8 118.9h0M1407.4 117.7h0M1409.5 117.4h0M1410.1 117.2h0M1411.5 115.9h0M1414.3 115h0M1415.7 114.8h0M1416.9 114.4h0M1418.5 112.8h0M1419.7 113h0M1421.6 113.3h0M1422.8 111.9h0M1425.3 111.3h0M1426 110.7h0M1427.8 110.7h0M1429.9 109.7h0" fill="none" stroke="#9a1fe0" stroke-width="6" stroke-linecap="round"/>
<path d="M1119.1 412.1 L1120.3 411.8 L1122.2 412.2 L1123.8 412.1 L1124.9 412.2 L1126.4 412.6 L1127.3 412.3 L1129.2 412.2 L1131 412.1 L1132.4 412 L1133.6 412.4 L1134.4 412.3 L1136.6 412.4 L1138 412 L1138.7 412.1 L1140.5 412.6 L1141.3 412.2 L1142.8 412.1 L1144.4 412.1 L1145.7 412.4 L1147.7 412.1 L1149.1 412.1 L1150 412.5 L1151.4 412.2 L1152.6 412.2 L1154 412.3 L1156 412.3 L1157.3 412.6 L1158.2 412.3 L1160 412.5 L1161.3 412.4 L1163.1 412.2 L1164.4 412.2 L1165.7 412.2 L1167.1 412.5 L1168.8 412.3 L1170.3 412.2 L1171 412.2 L1172.3 412.6 L1174.3 412.4 L1175 412.3 L1176.7 412.2 L1177.8 412.4 L1179.4 412.7 L1180.6 412.1 L1182.2 412.1 L1184.1 412.2 L1185.6 412.2 L1186.9 412.5 L1188.1 412.4 L1189.5 412.2 L1190.7 412.4 L1191.9 412.5 L1193.5 412 L1195.2 412.3 L1196 412.2 L1197.3 412.2 L1199.5 412.2 L1200.4 410.5 L1202.2 408.8 L1203.6 407.3 L1205.2 405 L1206.1 404.8 L1207.5 403.1 L1209.3 402.5 L1210.7 401.1 L1212 398.6 L1213.5 397.8 L1214.7 396.8 L1216.5 395.5 L1217.2 394.8 L1219 392.6 L1220.6 391.7 L1221.4 390 L1223.1 387.9 L1224.3 387.7 L1225.8 385.3 L1226.8 384.3 L1228.1 381.8 L1230.3 378.7 L1231.4 377.5 L1232.9 375.2 L1234.4 373.3 L1235.5 371.8 L1236.9 368.7 L1238.1 367.4 L1240.1 364.2 L1241.5 360.3 L1242.8 358.3 L1244.4 356.2 L1245.5 353.6 L1247 351.2 L1247.9 349.7 L1249.9 347.2 L1250.8 346.2 L1252.3 343.8 L1253.6 341.9 L1255.3 339 L1256.8 336.9 L1258.1 333.1 L1259.2 332.8 L1260.5 329.8 L1262.5 327 L1263.4 324.6 L1264.9 322.2 L1266 321.2 L1267.6 316.9 L1268.8 315.2 L1270.4 312.5 L1272.2 309.2 L1273.9 306.6 L1274.9 305.1 L1276 303.2 L1277.8 298.9 L1279.1 297.2 L1280.7 293.9 L1281.8 291.5 L1283.6 288.3 L1284.5 285.9 L1285.8 283.3 L1287.4 279.9 L1289.2 277.3 L1290.4 275.5 L1291.6 272.5 L1293 271.2 L1294.5 268.2 L1295.7 265.6 L1297.3 263.7 L1299.1 260.9 L1300.4 259.5 L1301.7 257.7 L1302.4 256.5 L1304.3 254 L1305.5 251.7 L1307.4 249.8 L1308.2 247.5 L1310.2 245.3 L1310.9 244.5 L1312.5 242.2 L1314.5 239.7 L1315.5 237.9 L1317.2 235.4 L1318.2 234.1 L1319.3 233.1 L1321.2 229 L1322.4 227.7 L1323.8 225.9 L1324.8 223.5 L1326.2 222 L1328.4 217.9 L1329.9 216.5 L1331.3 213.6 L1332.1 212.1 L1333.1 211.2 L1335.1 209 L1336.6 207.3 L1337.9 205.8 L1338.8 204 L1340.3 202.6 L1342.2 200 L1343 200.4 L1345.1 197.6 L1346.7 195 L1347.3 194.2 L1348.6 193.2 L1350.9 188.5 L1352.1 188.4 L1353.2 187.5 L1354.6 185 L1356.4 183.5 L1357.3 181.8 L1358.4 180.4 L1360.3 178.5 L1361.4 177.3 L1363.2 176 L1364.8 174 L1365.7 173.4 L1366.9 171.3 L1368.2 171 L1370.3 169 L1371 168 L1373.3 166.1 L1374.4 165.5 L1376 162.4 L1377.3 161.3 L1378.1 161.6 L1379.5 160.4 L1381.7 158.4 L1382.4 158.4 L1384.3 157.8 L1385.1 156.8 L1386.6 154.9 L1388.4 153.5 L1389.3 154 L1391.3 152.1 L1392.8 151 L1393.6 151 L1395 150.1 L1396.1 149 L1397.9 147.8 L1399 146.9 L1400.9 146.2 L1402.4 144.4 L1403.7 143.9 L1405.1 143.7 L1406.5 142.5 L1408.2 141.4 L1409.2 140.4 L1411 139.9 L1411.9 139.5 L1413 139.1 L1414.5 137 L1416.5 137.1 L1417.3 136.6 L1419.3 134.9 L1420.8 134.4 L1421.8 133.9 L1422.8 132.9 L1424.7 132.7 L1425.9 131.6 L1427.8 130.7 L1428.5 130.8 L1429.9 129.9" fill="none" stroke="#c09a10" stroke-width="0.8" stroke-opacity="0.6" clip-path="url(#lc2)"/>
<path d="M1119.1 412.1h0M1120.3 411.8h0M1122.2 412.2h0M1123.8 412.1h0M1124.9 412.2h0M1126.4 412.6h0M1127.3 412.3h0M1129.2 412.2h0M1131 412.1h0M1132.4 412h0M1133.6 412.4h0M1134.4 412.3h0M1136.6 412.4h0M1138 412h0M1138.7 412.1h0M1140.5 412.6h0M1141.3 412.2h0M1142.8 412.1h0M1144.4 412.1h0M1145.7 412.4h0M1147.7 412.1h0M1149.1 412.1h0M1150 412.5h0M1151.4 412.2h0M1152.6 412.2h0M1154 412.3h0M1156 412.3h0M1157.3 412.6h0M1158.2 412.3h0M1160 412.5h0M1161.3 412.4h0M1163.1 412.2h0M1164.4 412.2h0M1165.7 412.2h0M1167.1 412.5h0M1168.8 412.3h0M1170.3 412.2h0M1171 412.2h0M1172.3 412.6h0M1174.3 412.4h0M1175 412.3h0M1176.7 412.2h0M1177.8 412.4h0M1179.4 412.7h0M1180.6 412.1h0M1182.2 412.1h0M1184.1 412.2h0M1185.6 412.2h0M1186.9 412.5h0M1188.1 412.4h0M1189.5 412.2h0M1190.7 412.4h0M1191.9 412.5h0M1193.5 412h0M1195.2 412.3h0M1196 412.2h0M1197.3 412.2h0M1199.5 412.2h0M1200.4 410.5h0M1202.2 408.8h0M1203.6 407.3h0M1205.2 405h0M1206.1 404.8h0M1207.5 403.1h0M1209.3 402.5h0M1210.7 401.1h0M1212 398.6h0M1213.5 397.8h0M1214.7 396.8h0M1216.5 395.5h0M1217.2 394.8h0M1219 392.6h0M1220.6 391.7h0M1221.4 390h0M1223.1 387.9h0M1224.3 387.7h0M1225.8 385.3h0M1226.8 384.3h0M1228.1 381.8h0M1230.3 378.7h0M1231.4 377.5h0M1232.9 375.2h0M1234.4 373.3h0M1235.5 371.8h0M1236.9 368.7h0M1238.1 367.4h0M1240.1 364.2h0M1241.5 360.3h0M1242.8 358.3h0M1244.4 356.2h0M1245.5 353.6h0M1247 351.2h0M1247.9 349.7h0M1249.9 347.2h0M1250.8 346.2h0M1252.3 343.8h0M1253.6 341.9h0M1255.3 339h0M1256.8 336.9h0M1258.1 333.1h0M1259.2 332.8h0M1260.5 329.8h0M1262.5 327h0M1263.4 324.6h0M1264.9 322.2h0M1266 321.2h0M1267.6 316.9h0M1268.8 315.2h0M1270.4 312.5h0M1272.2 309.2h0M1273.9 306.6h0M1274.9 305.1h0M1276 303.2h0M1277.8 298.9h0M1279.1 297.2h0M1280.7 293.9h0M1281.8 291.5h0M1283.6 288.3h0M1284.5 285.9h0M1285.8 283.3h0M1287.4 279.9h0M1289.2 277.3h0M1290.4 275.5h0M1291.6 272.5h0M1293 271.2h0M1294.5 268.2h0M1295.7 265.6h0M1297.3 263.7h0M1299.1 260.9h0M1300.4 259.5h0M1301.7 257.7h0M1302.4 256.5h0M1304.3 254h0M1305.5 251.7h0M1307.4 249.8h0M1308.2 247.5h0M1310.2 245.3h0M1310.9 244.5h0M1312.5 242.2h0M1314.5 239.7h0M1315.5 237.9h0M1317.2 235.4h0M1318.2 234.1h0M1319.3 233.1h0M1321.2 229h0M1322.4 227.7h0M1323.8 225.9h0M1324.8 223.5h0M1326.2 222h0M1328.4 217.9h0M1329.9 216.5h0M1331.3 213.6h0M1332.1 212.1h0M1333.1 211.2h0M1335.1 209h0M1336.6 207.3h0M1337.9 205.8h0M1338.8 204h0M1340.3 202.6h0M1342.2 200h0M1343 200.4h0M1345.1 197.6h0M1346.7 195h0M1347.3 194.2h0M1348.6 193.2h0M1350.9 188.5h0M1352.1 188.4h0M1353.2 187.5h0M1354.6 185h0M1356.4 183.5h0M1357.3 181.8h0M1358.4 180.4h0M1360.3 178.5h0M1361.4 177.3h0M1363.2 176h0M1364.8 174h0M1365.7 173.4h0M1366.9 171.3h0M1368.2 171h0M1370.3 169h0M1371 168h0M1373.3 166.1h0M1374.4 165.5h0M1376 162.4h0M1377.3 161.3h0M1378.1 161.6h0M1379.5 160.4h0M1381.7 158.4h0M1382.4 158.4h0M1384.3 157.8h0M1385.1 156.8h0M1386.6 154.9h0M1388.4 153.5h0M1389.3 154h0M1391.3 152.1h0M1392.8 151h0M1393.6 151h0M1395 150.1h0M1396.1 149h0M1397.9 147.8h0M1399 146.9h0M1400.9 146.2h0M1402.4 144.4h0M1403.7 143.9h0M1405.1 143.7h0M1406.5 142.5h0M1408.2 141.4h0M1409.2 140.4h0M1411 139.9h0M1411.9 139.5h0M1413 139.1h0M1414.5 137h0M1416.5 137.1h0M1417.3 136.6h0M1419.3 134.9h0M1420.8 134.4h0M1421.8 133.9h0M1422.8 132.9h0M1424.7 132.7h0M1425.9 131.6h0M1427.8 130.7h0M1428.5 130.8h0M1429.9 129.9h0" fill="none" stroke="#c09a10" stroke-width="6" stroke-linecap="round"/>
<path d="M1119.1 412.1 L1121 412.2 L1122 412.4 L1123.6 412.4 L1124.5 412.3 L1126.8 412.2 L1128.2 412.3 L1128.7 412.1 L1131.1 412.4 L1131.6 412.2 L1133.2 412.2 L1134.9 412.2 L1136.6 412.2 L1138 412.3 L1138.5 412.2 L1140.4 412.5 L1141.9 412.2 L1143.2 412.3 L1144.9 412.3 L1145.7 412.1 L1147.7 412.3 L1148.3 412.1 L1149.8 412.3 L1151.2 412.4 L1152.8 412.4 L1154.6 412.2 L1155.8 412.5 L1157.5 412.5 L1158.4 412.2 L1160.2 412.2 L1161.6 411.9 L1162.6 412.2 L1164 412.2 L1166.1 412.2 L1167.1 412.4 L1168.9 412.2 L1170.1 412.2 L1171.5 412.2 L1172.5 412.2 L1174 412.3 L1175.3 412.3 L1177.3 412.3 L1177.9 412.2 L1180.1 412.4 L1180.9 412.2 L1182.3 412.5 L1183.8 412.5 L1185.1 412.5 L1186.6 412.2 L1187.5 412.1 L1189 412.5 L1191 412.6 L1192.3 412.2 L1193.1 412.3 L1194.8 412.2 L1196.1 412.1 L1197.4 412.3 L1199.2 412.4 L1200.5 412.6 L1201.5 412.2 L1203.5 412.3 L1205.1 412.3 L1205.8 412.1 L1207.4 412.2 L1209.1 410.8 L1210.4 410.3 L1211.8 409.3 L1213.2 409.1 L1215 406.8 L1216.1 406.8 L1217.5 405.7 L1218.7 404.4 L1220.2 404.1 L1222 402.4 L1222.7 402.8 L1224.8 400.9 L1225.4 401 L1227.3 399.9 L1228.1 399.7 L1230.2 397.4 L1231.5 395.8 L1233.2 395.1 L1234.6 393.1 L1235.5 392.7 L1237.2 391.5 L1238.8 391 L1239.9 388.8 L1241 387.6 L1242.4 386 L1243.8 385.8 L1245.9 382 L1246.7 380.8 L1248.6 379 L1250 377.8 L1251.2 375.9 L1251.9 374.9 L1254.2 371.4 L1255.6 370 L1256.1 369.3 L1258.1 366.7 L1259.3 365 L1260.9 363.3 L1262.3 360.3 L1263.7 359.4 L1264.8 356.8 L1266 355.5 L1268.1 351.9 L1269.6 349.5 L1270.3 347.8 L1271.7 346.3 L1273.3 343.9 L1274.7 341.5 L1276.6 340.1 L1277.3 339.9 L1278.9 337.6 L1280.5 333.7 L1281.8 332.3 L1283 330 L1284.9 325.9 L1285.6 325.9 L1287.1 322.8 L1288.7 320.4 L1290.5 317.3 L1291.4 315.7 L1292.6 314.6 L1294.8 311.4 L1295.4 311.6 L1297.3 307.6 L1298.4 306.2 L1300.1 303 L1301.6 300.8 L1302.4 298.4 L1304.1 295.7 L1305.4 293 L1306.7 290.9 L1307.9 289.4 L1309.3 286.3 L1311.3 282.8 L1312.2 282.3 L1313.8 279.6 L1315.9 276.9 L1317.2 275.3 L1318.6 273.4 L1319.3 272.2 L1320.8 270.8 L1322.1 267.7 L1323.8 266.1 L1325.2 264 L1326.5 262.9 L1328.2 260.5 L1329.5 257.6 L1331 256 L1331.8 255 L1333.8 252 L1335.1 250.2 L1336.2 248.3 L1337.7 246.3 L1339.7 243.7 L1340.4 242.2 L1341.8 240.9 L1343.5 238.1 L1344.9 237.1 L1345.7 236 L1347.7 233.6 L1349.3 231.9 L1350.8 230.1 L1352 228.9 L1352.8 227.3 L1354.3 225.3 L1355.9 222.4 L1357.5 220.4 L1358.4 219.4 L1360.1 216.7 L1361.4 215.5 L1363.5 212.8 L1364.9 211 L1366 209 L1367.2 207.8 L1368.3 206.2 L1370.4 203.5 L1371.8 202.9 L1373.2 201.5 L1373.8 200.5 L1375.9 198.9 L1376.6 197.9 L1378.8 195.1 L1379.9 194.5 L1381.7 193 L1382.5 191.9 L1384.1 190.1 L1385.7 188.3 L1386.6 187.8 L1388.3 185.7 L1389.9 185.2 L1391 184.8 L1392.3 182.6 L1393.8 181.9 L1395.6 180.7 L1397.1 180.2 L1398.2 179.5 L1399.7 177.3 L1401.3 176.7 L1401.8 176.2 L1403.1 174.7 L1405.2 172.9 L1406.5 172.2 L1407.4 172.3 L1409.2 170.2 L1410.6 168.7 L1411.8 168.1 L1413.1 167.1 L1414.5 166.8 L1416.3 164.7 L1417.3 164.1 L1419.2 162.8 L1420.8 162.4 L1422 160.2 L1423 159.4 L1424.5 159.4 L1426 157.2 L1427.2 156.1 L1428.8 156 L1430.4 154.2" fill="none" stroke="#de5080" stroke-width="0.8" stroke-opacity="0.6" clip-path="url(#lc2)"/>
<path d="M1119.1 412.1h0M1121 412.2h0M1122 412.4h0M1123.6 412.4h0M1124.5 412.3h0M1126.8 412.2h0M1128.2 412.3h0M1128.7 412.1h0M1131.1 412.4h0M1131.6 412.2h0M1133.2 412.2h0M1134.9 412.2h0M1136.6 412.2h0M1138 412.3h0M1138.5 412.2h0M1140.4 412.5h0M1141.9 412.2h0M1143.2 412.3h0M1144.9 412.3h0M1145.7 412.1h0M1147.7 412.3h0M1148.3 412.1h0M1149.8 412.3h0M1151.2 412.4h0M1152.8 412.4h0M1154.6 412.2h0M1155.8 412.5h0M1157.5 412.5h0M1158.4 412.2h0M1160.2 412.2h0M1161.6 411.9h0M1162.6 412.2h0M1164 412.2h0M1166.1 412.2h0M1167.1 412.4h0M1168.9 412.2h0M1170.1 412.2h0M1171.5 412.2h0M1172.5 412.2h0M1174 412.3h0M1175.3 412.3h0M1177.3 412.3h0M1177.9 412.2h0M1180.1 412.4h0M1180.9 412.2h0M1182.3 412.5h0M1183.8 412.5h0M1185.1 412.5h0M1186.6 412.2h0M1187.5 412.1h0M1189 412.5h0M1191 412.6h0M1192.3 412.2h0M1193.1 412.3h0M1194.8 412.2h0M1196.1 412.1h0M1197.4 412.3h0M1199.2 412.4h0M1200.5 412.6h0M1201.5 412.2h0M1203.5 412.3h0M1205.1 412.3h0M1205.8 412.1h0M1207.4 412.2h0M1209.1 410.8h0M1210.4 410.3h0M1211.8 409.3h0M1213.2 409.1h0M1215 406.8h0M1216.1 406.8h0M1217.5 405.7h0M1218.7 404.4h0M1220.2 404.1h0M1222 402.4h0M1222.7 402.8h0M1224.8 400.9h0M1225.4 401h0M1227.3 399.9h0M1228.1 399.7h0M1230.2 397.4h0M1231.5 395.8h0M1233.2 395.1h0M1234.6 393.1h0M1235.5 392.7h0M1237.2 391.5h0M1238.8 391h0M1239.9 388.8h0M1241 387.6h0M1242.4 386h0M1243.8 385.8h0M1245.9 382h0M1246.7 380.8h0M1248.6 379h0M1250 377.8h0M1251.2 375.9h0M1251.9 374.9h0M1254.2 371.4h0M1255.6 370h0M1256.1 369.3h0M1258.1 366.7h0M1259.3 365h0M1260.9 363.3h0M1262.3 360.3h0M1263.7 359.4h0M1264.8 356.8h0M1266 355.5h0M1268.1 351.9h0M1269.6 349.5h0M1270.3 347.8h0M1271.7 346.3h0M1273.3 343.9h0M1274.7 341.5h0M1276.6 340.1h0M1277.3 339.9h0M1278.9 337.6h0M1280.5 333.7h0M1281.8 332.3h0M1283 330h0M1284.9 325.9h0M1285.6 325.9h0M1287.1 322.8h0M1288.7 320.4h0M1290.5 317.3h0M1291.4 315.7h0M1292.6 314.6h0M1294.8 311.4h0M1295.4 311.6h0M1297.3 307.6h0M1298.4 306.2h0M1300.1 303h0M1301.6 300.8h0M1302.4 298.4h0M1304.1 295.7h0M1305.4 293h0M1306.7 290.9h0M1307.9 289.4h0M1309.3 286.3h0M1311.3 282.8h0M1312.2 282.3h0M1313.8 279.6h0M1315.9 276.9h0M1317.2 275.3h0M1318.6 273.4h0M1319.3 272.2h0M1320.8 270.8h0M1322.1 267.7h0M1323.8 266.1h0M1325.2 264h0M1326.5 262.9h0M1328.2 260.5h0M1329.5 257.6h0M1331 256h0M1331.8 255h0M1333.8 252h0M1335.1 250.2h0M1336.2 248.3h0M1337.7 246.3h0M1339.7 243.7h0M1340.4 242.2h0M1341.8 240.9h0M1343.5 238.1h0M1344.9 237.1h0M1345.7 236h0M1347.7 233.6h0M1349.3 231.9h0M1350.8 230.1h0M1352 228.9h0M1352.8 227.3h0M1354.3 225.3h0M1355.9 222.4h0M1357.5 220.4h0M1358.4 219.4h0M1360.1 216.7h0M1361.4 215.5h0M1363.5 212.8h0M1364.9 211h0M1366 209h0M1367.2 207.8h0M1368.3 206.2h0M1370.4 203.5h0M1371.8 202.9h0M1373.2 201.5h0M1373.8 200.5h0M1375.9 198.9h0M1376.6 197.9h0M1378.8 195.1h0M1379.9 194.5h0M1381.7 193h0M1382.5 191.9h0M1384.1 190.1h0M1385.7 188.3h0M1386.6 187.8h0M1388.3 185.7h0M1389.9 185.2h0M1391 184.8h0M1392.3 182.6h0M1393.8 181.9h0M1395.6 180.7h0M1397.1 180.2h0M1398.2 179.5h0M1399.7 177.3h0M1401.3 176.7h0M1401.8 176.2h0M1403.1 174.7h0M1405.2 172.9h0M1406.5 172.2h0M1407.4 172.3h0M1409.2 170.2h0M1410.6 168.7h0M1411.8 168.1h0M1413.1 167.1h0M1414.5 166.8h0M1416.3 164.7h0M1417.3 164.1h0M1419.2 162.8h0M1420.8 162.4h0M1422 160.2h0M1423 159.4h0M1424.5 159.4h0M1426 157.2h0M1427.2 156.1h0M1428.8 156h0M1430.4 154.2h0" fill="none" stroke="#de5080" stroke-width="6" stroke-linecap="round"/>
<path d="M1119.7 412.2 L1120.5 412.4 L1122.5 412.2 L1124.1 412.5 L1125.5 412.4 L1126.4 412.2 L1127.9 412.1 L1129.5 412.4 L1130.7 412.5 L1132.2 412.3 L1132.9 412.4 L1134.6 412 L1135.8 412.2 L1138 412.1 L1138.9 412.3 L1140.6 412.6 L1141.6 412.3 L1143 412.3 L1144.1 412.4 L1145.9 412.4 L1147.8 412.2 L1148.5 412.2 L1150 412.1 L1152 412.1 L1152.5 412.3 L1154 412.2 L1155.9 412.3 L1157.6 412.2 L1158.1 412.3 L1160.2 412.5 L1161.7 412.3 L1162.4 412.5 L1164.4 412.4 L1165.6 412.2 L1167 412.5 L1168.9 412.2 L1169.3 412 L1170.9 412.3 L1172.8 412.3 L1173.8 412.4 L1175.2 412.3 L1177 412.2 L1178.6 412.1 L1179.3 412.3 L1181 412.3 L1182.2 412.1 L1183.7 412.2 L1185.3 412.2 L1186.9 412.2 L1187.6 412.3 L1189.6 412.3 L1190.8 412.5 L1191.8 412.4 L1193.2 412.2 L1194.7 412.7 L1196.1 412.2 L1198.2 412.2 L1199.4 412.2 L1200.3 412 L1202.1 411.7 L1203.5 411.7 L1204.4 411.6 L1206.5 410.5 L1207.5 410.6 L1208.6 411.3 L1210.1 410.7 L1211.8 409.6 L1213.4 409.6 L1215.1 408.6 L1216.4 409.1 L1217.4 409.9 L1218.4 408.8 L1220.6 408.9 L1221.5 409 L1222.7 407.5 L1224.8 406.3 L1225.4 406.9 L1226.9 405.2 L1228.7 403.3 L1230.1 403.2 L1231.9 402.3 L1232.8 401.9 L1233.8 401 L1235.9 400 L1236.7 399.1 L1238.1 398.9 L1239.7 397.2 L1241 396.3 L1243.1 394.4 L1243.6 393.5 L1245.7 392.4 L1247 390.8 L1247.8 390.7 L1249.2 389.1 L1251.5 386.1 L1252.1 385.6 L1253.4 383.5 L1255 382.3 L1256.8 380.5 L1258 381.2 L1259.6 378.8 L1261.3 377.2 L1262 377.2 L1263.3 375.7 L1265.3 374 L1266.1 373.3 L1268 372.3 L1268.9 370.9 L1270.3 369 L1271.6 368 L1273.6 364.3 L1274.5 363 L1275.8 361.5 L1277.3 359.4 L1278.8 357.6 L1279.9 355.9 L1281.6 353.8 L1283.4 352.1 L1284.9 349.9 L1285.7 348.9 L1287.5 347.1 L1289.2 344.9 L1290.2 344.3 L1291.5 343.2 L1292.5 341.5 L1294.7 338.3 L1296.1 337.8 L1296.8 335.9 L1298.3 336 L1300.3 333.4 L1301.5 331.6 L1302.6 330.1 L1303.8 328 L1305.2 326.4 L1307.1 323.9 L1308.6 322.2 L1310.3 320.6 L1311.4 318 L1312.5 317.4 L1314.3 314.4 L1315 313.8 L1316.9 309.4 L1318.4 307 L1319.1 306.1 L1320.9 303.1 L1322.1 302.2 L1323.6 299.8 L1324.9 296.6 L1326.4 294.5 L1327.6 293.9 L1329.6 291.5 L1330.4 290.1 L1332.3 286.9 L1333.3 285.6 L1335 283.7 L1336.2 281.2 L1337.7 280.2 L1339.2 278.2 L1340.2 276.4 L1341.6 274.6 L1343.7 271.2 L1344.7 269.8 L1345.9 268 L1347.9 265.6 L1349.4 263.1 L1350.7 261.4 L1352 259.2 L1352.8 258.6 L1355 255.3 L1356.1 255 L1357.8 253.1 L1358.9 251.6 L1359.7 250.1 L1362.1 247.1 L1362.6 246.7 L1364.6 244.8 L1365.6 243.2 L1366.9 241.8 L1368.2 239.8 L1370.2 238.2 L1371.2 236.5 L1372.9 234.7 L1374.6 233.3 L1375.3 232.2 L1376.6 231.7 L1378.3 230.4 L1380 228.2 L1381.6 226.7 L1382.3 226.8 L1384 223.6 L1385.2 222.8 L1386.5 220.2 L1388 218.7 L1389.9 215.3 L1390.6 214.4 L1392.8 212.5 L1394.1 210.7 L1395.4 209.3 L1396.4 209.7 L1397.7 208.9 L1399.8 207.2 L1400.4 207.4 L1402.2 204.7 L1403.5 203.7 L1404.7 202.7 L1406.9 200.8 L1407.5 200.5 L1409.4 198 L1411 196.1 L1412.2 194.6 L1413 194.3 L1415.1 192 L1415.9 191.5 L1418.1 189.4 L1418.6 188.4 L1420.5 187.5 L1421.9 186.4 L1423.2 185.7 L1424.3 184.2 L1425.8 183.4 L1427.6 183.5 L1429.3 180.6 L1430.6 180.3" fill="none" stroke="#555555" stroke-width="0.8" stroke-opacity="0.6" clip-path="url(#lc2)"/>
<path d="M1119.7 412.2h0M1120.5 412.4h0M1122.5 412.2h0M1124.1 412.5h0M1125.5 412.4h0M1126.4 412.2h0M1127.9 412.1h0M1129.5 412.4h0M1130.7 412.5h0M1132.2 412.3h0M1132.9 412.4h0M1134.6 412h0M1135.8 412.2h0M1138 412.1h0M1138.9 412.3h0M1140.6 412.6h0M1141.6 412.3h0M1143 412.3h0M1144.1 412.4h0M1145.9 412.4h0M1147.8 412.2h0M1148.5 412.2h0M1150 412.1h0M1152 412.1h0M1152.5 412.3h0M1154 412.2h0M1155.9 412.3h0M1157.6 412.2h0M1158.1 412.3h0M1160.2 412.5h0M1161.7 412.3h0M1162.4 412.5h0M1164.4 412.4h0M1165.6 412.2h0M1167 412.5h0M1168.9 412.2h0M1169.3 412h0M1170.9 412.3h0M1172.8 412.3h0M1173.8 412.4h0M1175.2 412.3h0M1177 412.2h0M1178.6 412.1h0M1179.3 412.3h0M1181 412.3h0M1182.2 412.1h0M1183.7 412.2h0M1185.3 412.2h0M1186.9 412.2h0M1187.6 412.3h0M1189.6 412.3h0M1190.8 412.5h0M1191.8 412.4h0M1193.2 412.2h0M1194.7 412.7h0M1196.1 412.2h0M1198.2 412.2h0M1199.4 412.2h0M1200.3 412h0M1202.1 411.7h0M1203.5 411.7h0M1204.4 411.6h0M1206.5 410.5h0M1207.5 410.6h0M1208.6 411.3h0M1210.1 410.7h0M1211.8 409.6h0M1213.4 409.6h0M1215.1 408.6h0M1216.4 409.1h0M1217.4 409.9h0M1218.4 408.8h0M1220.6 408.9h0M1221.5 409h0M1222.7 407.5h0M1224.8 406.3h0M1225.4 406.9h0M1226.9 405.2h0M1228.7 403.3h0M1230.1 403.2h0M1231.9 402.3h0M1232.8 401.9h0M1233.8 401h0M1235.9 400h0M1236.7 399.1h0M1238.1 398.9h0M1239.7 397.2h0M1241 396.3h0M1243.1 394.4h0M1243.6 393.5h0M1245.7 392.4h0M1247 390.8h0M1247.8 390.7h0M1249.2 389.1h0M1251.5 386.1h0M1252.1 385.6h0M1253.4 383.5h0M1255 382.3h0M1256.8 380.5h0M1258 381.2h0M1259.6 378.8h0M1261.3 377.2h0M1262 377.2h0M1263.3 375.7h0M1265.3 374h0M1266.1 373.3h0M1268 372.3h0M1268.9 370.9h0M1270.3 369h0M1271.6 368h0M1273.6 364.3h0M1274.5 363h0M1275.8 361.5h0M1277.3 359.4h0M1278.8 357.6h0M1279.9 355.9h0M1281.6 353.8h0M1283.4 352.1h0M1284.9 349.9h0M1285.7 348.9h0M1287.5 347.1h0M1289.2 344.9h0M1290.2 344.3h0M1291.5 343.2h0M1292.5 341.5h0M1294.7 338.3h0M1296.1 337.8h0M1296.8 335.9h0M1298.3 336h0M1300.3 333.4h0M1301.5 331.6h0M1302.6 330.1h0M1303.8 328h0M1305.2 326.4h0M1307.1 323.9h0M1308.6 322.2h0M1310.3 320.6h0M1311.4 318h0M1312.5 317.4h0M1314.3 314.4h0M1315 313.8h0M1316.9 309.4h0M1318.4 307h0M1319.1 306.1h0M1320.9 303.1h0M1322.1 302.2h0M1323.6 299.8h0M1324.9 296.6h0M1326.4 294.5h0M1327.6 293.9h0M1329.6 291.5h0M1330.4 290.1h0M1332.3 286.9h0M1333.3 285.6h0M1335 283.7h0M1336.2 281.2h0M1337.7 280.2h0M1339.2 278.2h0M1340.2 276.4h0M1341.6 274.6h0M1343.7 271.2h0M1344.7 269.8h0M1345.9 268h0M1347.9 265.6h0M1349.4 263.1h0M1350.7 261.4h0M1352 259.2h0M1352.8 258.6h0M1355 255.3h0M1356.1 255h0M1357.8 253.1h0M1358.9 251.6h0M1359.7 250.1h0M1362.1 247.1h0M1362.6 246.7h0M1364.6 244.8h0M1365.6 243.2h0M1366.9 241.8h0M1368.2 239.8h0M1370.2 238.2h0M1371.2 236.5h0M1372.9 234.7h0M1374.6 233.3h0M1375.3 232.2h0M1376.6 231.7h0M1378.3 230.4h0M1380 228.2h0M1381.6 226.7h0M1382.3 226.8h0M1384 223.6h0M1385.2 222.8h0M1386.5 220.2h0M1388 218.7h0M1389.9 215.3h0M1390.6 214.4h0M1392.8 212.5h0M1394.1 210.7h0M1395.4 209.3h0M1396.4 209.7h0M1397.7 208.9h0M1399.8 207.2h0M1400.4 207.4h0M1402.2 204.7h0M1403.5 203.7h0M1404.7 202.7h0M1406.9 200.8h0M1407.5 200.5h0M1409.4 198h0M1411 196.1h0M1412.2 194.6h0M1413 194.3h0M1415.1 192h0M1415.9 191.5h0M1418.1 189.4h0M1418.6 188.4h0M1420.5 187.5h0M1421.9 186.4h0M1423.2 185.7h0M1424.3 184.2h0M1425.8 183.4h0M1427.6 183.5h0M1429.3 180.6h0M1430.6 180.3h0" fill="none" stroke="#555555" stroke-width="6" stroke-linecap="round"/>
<path d="M1190.3 415.8h0M1192 413.5h0M1193.6 411.2h0M1195.2 408.8h0" fill="none" stroke="#9a1fe0" stroke-width="6" stroke-linecap="round"/>
</g>
<g font-size="20" fill="#000">
<text x="1119.2" y="432.7" text-anchor="middle">0</text>
<text x="1188.6" y="432.7" text-anchor="middle">2</text>
<text x="1257.9" y="432.7" text-anchor="middle">4</text>
<text x="1327.3" y="432.7" text-anchor="middle">6</text>
<text x="1396.6" y="432.7" text-anchor="middle">8</text>
<text x="1466" y="432.7" text-anchor="middle">10</text>
<text x="1109.4" y="417.1" text-anchor="end">0</text>
<text x="1109.4" y="326.2" text-anchor="end">0.5</text>
<text x="1109.4" y="235.3" text-anchor="end">1</text>
<text x="1109.4" y="144.4" text-anchor="end">1.5</text>
<text x="1109.4" y="53.5" text-anchor="end">2</text>
</g>
<text x="1060" y="42.5" font-size="46">c</text>
<text x="1310" y="475" font-size="25" text-anchor="middle"><tspan font-style="italic">B</tspan> (T)</text>
<text transform="translate(1042.3 287) rotate(-90)" font-size="25"><tspan font-style="italic">ρ</tspan><tspan font-style="italic" font-size="16" dy="11.5" dx="1">ab</tspan><tspan dy="-11.5"> (mΩcm)</tspan></text>
<g font-size="14.9">
<circle cx="1436.5" cy="206.8" r="6.4" fill="#ff0000"/>
<text x="1447.9" y="211.9" fill="#ff0000">3.0 K</text>
<circle cx="1436.5" cy="224.6" r="6.4" fill="#0000ff"/>
<text x="1447.9" y="229.7" fill="#0000ff">2.9 K</text>
<circle cx="1436.5" cy="242.4" r="6.4" fill="#006400"/>
<text x="1447.9" y="247.5" fill="#006400">2.8 K</text>
<circle cx="1436.5" cy="260.1" r="6.4" fill="#000000"/>
<text x="1447.9" y="265.3" fill="#000000">2.7 K</text>
<circle cx="1436.5" cy="277.9" r="6.4" fill="#ff3399"/>
<text x="1447.9" y="283.1" fill="#ff3399">2.6 K</text>
<circle cx="1436.5" cy="295.7" r="6.4" fill="#00b0f0"/>
<text x="1447.9" y="300.8" fill="#00b0f0">2.5 K</text>
<circle cx="1436.5" cy="313.5" r="6.4" fill="#ed7d31"/>
<text x="1447.9" y="318.6" fill="#ed7d31">2.4 K</text>
<circle cx="1436.5" cy="331.3" r="6.4" fill="#7030a0"/>
<text x="1447.9" y="336.4" fill="#7030a0">2.3 K</text>
<circle cx="1436.5" cy="349" r="6.4" fill="#cc9900"/>
<text x="1447.9" y="354.2" fill="#cc9900">2.2 K</text>
<circle cx="1436.5" cy="366.8" r="6.4" fill="#cc0066"/>
<text x="1447.9" y="372" fill="#cc0066">2.1 K</text>
<circle cx="1436.5" cy="384.6" r="6.4" fill="#595959"/>
<text x="1447.9" y="389.7" fill="#595959">2.0 K</text>
</g>
<text x="1133" y="63.75" font-size="25.6"><tspan font-style="italic">B</tspan> || <tspan font-style="italic">ab</tspan></text>
<text x="1234.5" y="63.75" font-size="25.6"><tspan font-style="italic">x</tspan> = 0.22</text>
<text x="1137" y="95.4" font-size="25.6">3.0 K</text>
<text x="1329.5" y="369.6" font-size="25.6">2.0 K</text>
<path d="M1343.8 340.4 L1178 112.3" stroke="#000" stroke-width="2.5" fill="none"/>
<path d="M1173.3 105.8 L1182.5 111.5 L1175.9 116.3 Z" fill="#000"/>
</g>
<g id="panel-d">
<clipPath id="cp3"><rect x="1607.9" y="31.6" width="389.5999999999999" height="385.59999999999997"/></clipPath>
<path d="M1671.3 413.2v-6.6 M1671.3 31.6v6.6 M1729.9 413.2v-6.6 M1729.9 31.6v6.6 M1788.5 413.2v-6.6 M1788.5 31.6v6.6 M1847.1 413.2v-6.6 M1847.1 31.6v6.6 M1905.7 413.2v-6.6 M1905.7 31.6v6.6 M1964.3 413.2v-6.6 M1964.3 31.6v6.6 M1611.9 404.5h6.6 M1993.5 404.5h-6.6 M1611.9 317.6h6.6 M1993.5 317.6h-6.6 M1611.9 230.7h6.6 M1993.5 230.7h-6.6 M1611.9 143.9h6.6 M1993.5 143.9h-6.6 M1611.9 57.1h6.6 M1993.5 57.1h-6.6 " stroke="#7f7f7f" stroke-width="1" fill="none"/>
<rect x="1611.9" y="31.6" width="381.6" height="381.6" fill="none" stroke="#7f7f7f" stroke-width="1.3"/>
<clipPath id="lc3"><rect x="1611.9" y="31.6" width="381.6" height="382.2"/></clipPath>
<g clip-path="url(#cp3)">
<path d="M1619.2 304.4 L1633.3 169.6 L1644.6 125.8 L1655.8 106.2 L1668.1 96.2 L1679.2 91.2 L1691.7 87.1 L1702.5 84.2 L1713.5 81.5 L1725 79.4 L1737.1 77.7 L1748.3 75.8 L1758.3 74.6 L1769.2 73.1 L1778.8 71.7 L1788.5 71 L1800 70.4 L1811.7 69.1 L1823.4 67.9 L1835.1 66.8 L1846.8 65.8 L1858.5 64.8 L1870.2 64.2 L1881.9 63.6 L1893.6 63 L1905.3 62.3 L1917 61.4 L1928.7 60.7 L1940.4 60.1 L1952.1 59.7 L1963.8 59.4 L1975.5 59.2 L1987.2 59" fill="none" stroke="#e00000" stroke-width="0.9" stroke-opacity="0.6" clip-path="url(#lc3)"/>
<path d="M1619.2 304.4h0M1633.3 169.6h0M1644.6 125.8h0M1655.8 106.2h0M1668.1 96.2h0M1679.2 91.2h0M1691.7 87.1h0M1702.5 84.2h0M1713.5 81.5h0M1725 79.4h0M1737.1 77.7h0M1748.3 75.8h0M1758.3 74.6h0M1769.2 73.1h0M1778.8 71.7h0M1788.5 71h0M1800 70.4h0M1811.7 69.1h0M1823.4 67.9h0M1835.1 66.8h0M1846.8 65.8h0M1858.5 64.8h0M1870.2 64.2h0M1881.9 63.6h0M1893.6 63h0M1905.3 62.3h0M1917 61.4h0M1928.7 60.7h0M1940.4 60.1h0M1952.1 59.7h0M1963.8 59.4h0M1975.5 59.2h0M1987.2 59h0" fill="none" stroke="#e00000" stroke-width="6" stroke-linecap="round"/>
<path d="M1619.2 393.3 L1636.5 223.8 L1647.9 149.6 L1665.6 111.2 L1682.3 97.1 L1694.8 91.5 L1706.7 87.1 L1717.7 84.6 L1729.2 82.1 L1741.2 79.8 L1752.7 78.3 L1764.2 76.7 L1776 74.6 L1787.5 72.5 L1800 71 L1811.7 69.8 L1823.4 68.5 L1835.1 67.4 L1846.8 66.4 L1858.5 65.5 L1870.2 64.8 L1881.9 64.1 L1893.6 63.5 L1905.3 62.7 L1917 61.6 L1928.7 60.9 L1940.4 60.3 L1952.1 59.9 L1963.8 59.5 L1975.5 59.3 L1987.2 59.1" fill="none" stroke="#0000e6" stroke-width="0.9" stroke-opacity="0.6" clip-path="url(#lc3)"/>
<path d="M1619.2 393.3h0M1636.5 223.8h0M1647.9 149.6h0M1665.6 111.2h0M1682.3 97.1h0M1694.8 91.5h0M1706.7 87.1h0M1717.7 84.6h0M1729.2 82.1h0M1741.2 79.8h0M1752.7 78.3h0M1764.2 76.7h0M1776 74.6h0M1787.5 72.5h0M1800 71h0M1811.7 69.8h0M1823.4 68.5h0M1835.1 67.4h0M1846.8 66.4h0M1858.5 65.5h0M1870.2 64.8h0M1881.9 64.1h0M1893.6 63.5h0M1905.3 62.7h0M1917 61.6h0M1928.7 60.9h0M1940.4 60.3h0M1952.1 59.9h0M1963.8 59.5h0M1975.5 59.3h0M1987.2 59.1h0" fill="none" stroke="#0000e6" stroke-width="6" stroke-linecap="round"/>
<path d="M1619.2 404.4 L1636 317.3 L1648.3 209.2 L1660.4 148.1 L1677.1 113.8 L1689 101.2 L1700 96 L1712.5 89.4 L1723.5 86.7 L1734.8 83.5 L1746.9 81 L1758.8 78.8 L1769.8 76.7 L1782.3 74.8 L1793.8 73.5 L1805.2 72.1 L1816.9 70.5 L1828.6 69 L1840.3 67.9 L1852 66.9 L1863.7 66 L1875.4 65.3 L1887.1 64.6 L1898.8 63.8 L1910.5 62.6 L1922.2 61.6 L1933.9 61 L1945.6 60.5 L1957.3 59.8 L1969 59.6 L1980.7 59.3 L1992.4 59" fill="none" stroke="#0a5f1e" stroke-width="0.9" stroke-opacity="0.6" clip-path="url(#lc3)"/>
<path d="M1619.2 404.4h0M1636 317.3h0M1648.3 209.2h0M1660.4 148.1h0M1677.1 113.8h0M1689 101.2h0M1700 96h0M1712.5 89.4h0M1723.5 86.7h0M1734.8 83.5h0M1746.9 81h0M1758.8 78.8h0M1769.8 76.7h0M1782.3 74.8h0M1793.8 73.5h0M1805.2 72.1h0M1816.9 70.5h0M1828.6 69h0M1840.3 67.9h0M1852 66.9h0M1863.7 66h0M1875.4 65.3h0M1887.1 64.6h0M1898.8 63.8h0M1910.5 62.6h0M1922.2 61.6h0M1933.9 61h0M1945.6 60.5h0M1957.3 59.8h0M1969 59.6h0M1980.7 59.3h0M1992.4 59h0" fill="none" stroke="#0a5f1e" stroke-width="6" stroke-linecap="round"/>
<path d="M1619.2 423.1 L1636.5 389.2 L1654.2 238.8 L1670.8 152.9 L1682.7 123.5 L1694.2 111 L1706.2 99.8 L1718.3 92.5 L1729.2 91.2 L1740.6 86.7 L1752.1 82.5 L1764.6 80 L1776 76.2 L1787.5 74.6 L1799.6 73.1 L1811.3 72.1 L1823 70.5 L1834.7 69.3 L1846.4 68.4 L1858.1 67.6 L1869.8 66.7 L1881.5 65.8 L1893.2 65 L1904.9 63.8 L1916.6 62.6 L1928.3 61.7 L1940 61.1 L1951.7 60.5 L1963.4 59.9 L1975.1 59.6 L1986.8 59.2" fill="none" stroke="#000000" stroke-width="0.9" stroke-opacity="0.6" clip-path="url(#lc3)"/>
<path d="M1619.2 423.1h0M1636.5 389.2h0M1654.2 238.8h0M1670.8 152.9h0M1682.7 123.5h0M1694.2 111h0M1706.2 99.8h0M1718.3 92.5h0M1729.2 91.2h0M1740.6 86.7h0M1752.1 82.5h0M1764.6 80h0M1776 76.2h0M1787.5 74.6h0M1799.6 73.1h0M1811.3 72.1h0M1823 70.5h0M1834.7 69.3h0M1846.4 68.4h0M1858.1 67.6h0M1869.8 66.7h0M1881.5 65.8h0M1893.2 65h0M1904.9 63.8h0M1916.6 62.6h0M1928.3 61.7h0M1940 61.1h0M1951.7 60.5h0M1963.4 59.9h0M1975.1 59.6h0M1986.8 59.2h0" fill="none" stroke="#000000" stroke-width="6" stroke-linecap="round"/>
<path d="M1619.2 407.5 L1636.5 408.5 L1653.5 332.5 L1665.2 240.2 L1678.1 165.4 L1694.2 127.1 L1705.8 111 L1717.7 101.2 L1729.6 95 L1740.6 89.8 L1752.7 86.2 L1764.6 82.1 L1776.7 79.4 L1787.5 77.3 L1799 75.2 L1810.7 74.3 L1822.4 72.3 L1834.1 70.8 L1845.8 69.9 L1857.5 68.9 L1869.2 67.8 L1880.9 66.9 L1892.6 65.9 L1904.3 64.6 L1916 63.2 L1927.7 62.3 L1939.4 61.6 L1951.1 60.9 L1962.8 60.1 L1974.5 59.8 L1986.2 59.3" fill="none" stroke="#f4149a" stroke-width="0.9" stroke-opacity="0.6" clip-path="url(#lc3)"/>
<path d="M1619.2 407.5h0M1636.5 408.5h0M1653.5 332.5h0M1665.2 240.2h0M1678.1 165.4h0M1694.2 127.1h0M1705.8 111h0M1717.7 101.2h0M1729.6 95h0M1740.6 89.8h0M1752.7 86.2h0M1764.6 82.1h0M1776.7 79.4h0M1787.5 77.3h0M1799 75.2h0M1810.7 74.3h0M1822.4 72.3h0M1834.1 70.8h0M1845.8 69.9h0M1857.5 68.9h0M1869.2 67.8h0M1880.9 66.9h0M1892.6 65.9h0M1904.3 64.6h0M1916 63.2h0M1927.7 62.3h0M1939.4 61.6h0M1951.1 60.9h0M1962.8 60.1h0M1974.5 59.8h0M1986.2 59.3h0" fill="none" stroke="#f4149a" stroke-width="6" stroke-linecap="round"/>
<path d="M1619.2 404.4 L1636.5 413.3 L1654 391.9 L1665.8 313.5 L1682.7 204.6 L1694.4 157.9 L1706.2 129.8 L1717.7 115.8 L1729.2 104.8 L1741 97.1 L1752.5 92.3 L1764.2 87.7 L1776 84.2 L1787.5 82.1 L1799.6 79 L1811.3 77.6 L1823 75 L1834.7 72.9 L1846.4 71.6 L1858.1 70.2 L1869.8 69 L1881.5 67.9 L1893.2 66.8 L1904.9 65.3 L1916.6 63.7 L1928.3 62.8 L1940 62.1 L1951.7 61.2 L1963.4 60.4 L1975.1 60 L1986.8 59.4" fill="none" stroke="#40e8f8" stroke-width="0.9" stroke-opacity="0.6" clip-path="url(#lc3)"/>
<path d="M1619.2 404.4h0M1636.5 413.3h0M1654 391.9h0M1665.8 313.5h0M1682.7 204.6h0M1694.4 157.9h0M1706.2 129.8h0M1717.7 115.8h0M1729.2 104.8h0M1741 97.1h0M1752.5 92.3h0M1764.2 87.7h0M1776 84.2h0M1787.5 82.1h0M1799.6 79h0M1811.3 77.6h0M1823 75h0M1834.7 72.9h0M1846.4 71.6h0M1858.1 70.2h0M1869.8 69h0M1881.5 67.9h0M1893.2 66.8h0M1904.9 65.3h0M1916.6 63.7h0M1928.3 62.8h0M1940 62.1h0M1951.7 61.2h0M1963.4 60.4h0M1975.1 60h0M1986.8 59.4h0" fill="none" stroke="#40e8f8" stroke-width="6" stroke-linecap="round"/>
<path d="M1619.2 404.4 L1636.5 408.5 L1647.9 412.7 L1662.5 395.6 L1676.7 310.2 L1688.1 236.9 L1700.6 180 L1711.9 147.1 L1723.3 125.8 L1735.4 111.7 L1746.9 100.8 L1758.3 96 L1769.8 88.8 L1781.9 86.2 L1793.3 82.1 L1805.2 79.8 L1816.9 77.1 L1828.6 74.2 L1840.3 73 L1852 71.8 L1863.7 70.6 L1875.4 69.7 L1887.1 68.4 L1898.8 67.2 L1910.5 65 L1922.2 63.7 L1933.9 63 L1945.6 62.4 L1957.3 60.8 L1969 60.5 L1980.7 59.9 L1992.4 59.1" fill="none" stroke="#f47320" stroke-width="0.9" stroke-opacity="0.6" clip-path="url(#lc3)"/>
<path d="M1619.2 404.4h0M1636.5 408.5h0M1647.9 412.7h0M1662.5 395.6h0M1676.7 310.2h0M1688.1 236.9h0M1700.6 180h0M1711.9 147.1h0M1723.3 125.8h0M1735.4 111.7h0M1746.9 100.8h0M1758.3 96h0M1769.8 88.8h0M1781.9 86.2h0M1793.3 82.1h0M1805.2 79.8h0M1816.9 77.1h0M1828.6 74.2h0M1840.3 73h0M1852 71.8h0M1863.7 70.6h0M1875.4 69.7h0M1887.1 68.4h0M1898.8 67.2h0M1910.5 65h0M1922.2 63.7h0M1933.9 63h0M1945.6 62.4h0M1957.3 60.8h0M1969 60.5h0M1980.7 59.9h0M1992.4 59.1h0" fill="none" stroke="#f47320" stroke-width="6" stroke-linecap="round"/>
<path d="M1619.2 404.4 L1636.5 404.4 L1653.5 411.2 L1665 407.5 L1676.7 376.9 L1688.3 304.8 L1702.1 228.5 L1717.3 167.9 L1729.2 141.5 L1741 122.7 L1752.7 110 L1764.2 100.8 L1776 93.5 L1787.5 88.3 L1799.6 85 L1811.3 83.4 L1823 79.7 L1834.7 76.9 L1846.4 75 L1858.1 73.2 L1869.8 71.5 L1881.5 70.2 L1893.2 68.8 L1904.9 66.9 L1916.6 64.9 L1928.3 63.9 L1940 63.2 L1951.7 62 L1963.4 60.9 L1975.1 60.4 L1986.8 59.6" fill="none" stroke="#9a1fe0" stroke-width="0.9" stroke-opacity="0.6" clip-path="url(#lc3)"/>
<path d="M1619.2 404.4h0M1636.5 404.4h0M1653.5 411.2h0M1665 407.5h0M1676.7 376.9h0M1688.3 304.8h0M1702.1 228.5h0M1717.3 167.9h0M1729.2 141.5h0M1741 122.7h0M1752.7 110h0M1764.2 100.8h0M1776 93.5h0M1787.5 88.3h0M1799.6 85h0M1811.3 83.4h0M1823 79.7h0M1834.7 76.9h0M1846.4 75h0M1858.1 73.2h0M1869.8 71.5h0M1881.5 70.2h0M1893.2 68.8h0M1904.9 66.9h0M1916.6 64.9h0M1928.3 63.9h0M1940 63.2h0M1951.7 62h0M1963.4 60.9h0M1975.1 60.4h0M1986.8 59.6h0" fill="none" stroke="#9a1fe0" stroke-width="6" stroke-linecap="round"/>
<path d="M1636.5 404.4 L1653.5 406 L1665 409.6 L1677.1 405.4 L1688.5 369 L1700 308.8 L1711.7 244.4 L1723.3 193.5 L1735 159.2 L1746.9 135.2 L1758.3 118.5 L1770.2 108.1 L1781.2 99.2 L1793.3 93.3 L1805.2 87.7 L1816.9 83.7 L1828.6 79.4 L1840.3 77.3 L1852 75.4 L1863.7 73.4 L1875.4 72.3 L1887.1 70.6 L1898.8 69.2 L1910.5 66.4 L1922.2 64.9 L1933.9 64.1 L1945.6 63.5 L1957.3 61.4 L1969 61 L1980.7 60.3 L1992.4 59.1" fill="none" stroke="#c09a10" stroke-width="0.9" stroke-opacity="0.6" clip-path="url(#lc3)"/>
<path d="M1636.5 404.4h0M1653.5 406h0M1665 409.6h0M1677.1 405.4h0M1688.5 369h0M1700 308.8h0M1711.7 244.4h0M1723.3 193.5h0M1735 159.2h0M1746.9 135.2h0M1758.3 118.5h0M1770.2 108.1h0M1781.2 99.2h0M1793.3 93.3h0M1805.2 87.7h0M1816.9 83.7h0M1828.6 79.4h0M1840.3 77.3h0M1852 75.4h0M1863.7 73.4h0M1875.4 72.3h0M1887.1 70.6h0M1898.8 69.2h0M1910.5 66.4h0M1922.2 64.9h0M1933.9 64.1h0M1945.6 63.5h0M1957.3 61.4h0M1969 61h0M1980.7 60.3h0M1992.4 59.1h0" fill="none" stroke="#c09a10" stroke-width="6" stroke-linecap="round"/>
<path d="M1619.2 407.5 L1653.5 404.4 L1670.8 408.5 L1682.9 407.1 L1694.4 388.3 L1707.9 327.1 L1724 246 L1735.8 197.1 L1747.3 162.3 L1758.8 137.3 L1769.8 121.5 L1781.9 109.2 L1793.3 100.2 L1806.7 91.2 L1818.4 86.5 L1830.1 81.7 L1841.8 79.3 L1853.5 76.9 L1865.2 74.8 L1876.9 73.5 L1888.6 71.6 L1900.3 69.9 L1912 67 L1923.7 65.5 L1935.4 64.7 L1947.1 63.8 L1958.8 61.7 L1970.5 61.2 L1982.2 60.3 L1993.9 59.1" fill="none" stroke="#de5080" stroke-width="0.9" stroke-opacity="0.6" clip-path="url(#lc3)"/>
<path d="M1619.2 407.5h0M1653.5 404.4h0M1670.8 408.5h0M1682.9 407.1h0M1694.4 388.3h0M1707.9 327.1h0M1724 246h0M1735.8 197.1h0M1747.3 162.3h0M1758.8 137.3h0M1769.8 121.5h0M1781.9 109.2h0M1793.3 100.2h0M1806.7 91.2h0M1818.4 86.5h0M1830.1 81.7h0M1841.8 79.3h0M1853.5 76.9h0M1865.2 74.8h0M1876.9 73.5h0M1888.6 71.6h0M1900.3 69.9h0M1912 67h0M1923.7 65.5h0M1935.4 64.7h0M1947.1 63.8h0M1958.8 61.7h0M1970.5 61.2h0M1982.2 60.3h0M1993.9 59.1h0" fill="none" stroke="#de5080" stroke-width="6" stroke-linecap="round"/>
<path d="M1619.2 404.4 L1636.5 403.8 L1654 402.3 L1665 404 L1676.7 405.4 L1688.5 408.8 L1700.6 397.7 L1711.9 360.4 L1724 303.3 L1735.4 247.1 L1746.2 203.1 L1759 163.1 L1771.5 137.1 L1781.7 122.1 L1793.8 110 L1805.4 100.8 L1805.6 100.8 L1816.2 95 L1828.7 87.7 L1839.8 84.2 L1851.6 80.4 L1863.3 76.7 L1875.2 75.2 L1886.6 73.1 L1898.5 71.5 L1910.6 67.9 L1922 66.2 L1933.5 65.4 L1945.4 64.8 L1956.8 62.1 L1968.5 61.7 L1981 60.6 L1992.2 59.2" fill="none" stroke="#555555" stroke-width="0.9" stroke-opacity="0.6" clip-path="url(#lc3)"/>
<path d="M1619.2 404.4h0M1636.5 403.8h0M1654 402.3h0M1665 404h0M1676.7 405.4h0M1688.5 408.8h0M1700.6 397.7h0M1711.9 360.4h0M1724 303.3h0M1735.4 247.1h0M1746.2 203.1h0M1759 163.1h0M1771.5 137.1h0M1781.7 122.1h0M1793.8 110h0M1805.4 100.8h0M1805.6 100.8h0M1816.2 95h0M1828.7 87.7h0M1839.8 84.2h0M1851.6 80.4h0M1863.3 76.7h0M1875.2 75.2h0M1886.6 73.1h0M1898.5 71.5h0M1910.6 67.9h0M1922 66.2h0M1933.5 65.4h0M1945.4 64.8h0M1956.8 62.1h0M1968.5 61.7h0M1981 60.6h0M1992.2 59.2h0" fill="none" stroke="#555555" stroke-width="6" stroke-linecap="round"/>
</g>
<g font-size="20" fill="#000">
<text x="1612.7" y="432.7" text-anchor="middle">0</text>
<text x="1671.3" y="432.7" text-anchor="middle">0.1</text>
<text x="1729.9" y="432.7" text-anchor="middle">0.2</text>
<text x="1788.5" y="432.7" text-anchor="middle">0.3</text>
<text x="1847.1" y="432.7" text-anchor="middle">0.4</text>
<text x="1905.7" y="432.7" text-anchor="middle">0.5</text>
<text x="1964.3" y="432.7" text-anchor="middle">0.6</text>
<text x="1602.1" y="408.8" text-anchor="end">0</text>
<text x="1602.1" y="321.9" text-anchor="end">0.5</text>
<text x="1602.1" y="235" text-anchor="end">1</text>
<text x="1602.1" y="148.2" text-anchor="end">1.5</text>
<text x="1602.1" y="61.4" text-anchor="end">2</text>
</g>
<text x="1548" y="42.2" font-size="46">d</text>
<text x="1802" y="475" font-size="25" text-anchor="middle"><tspan font-style="italic">B</tspan> (T)</text>
<text transform="translate(1538 287) rotate(-90)" font-size="25"><tspan font-style="italic">ρ</tspan><tspan font-style="italic" font-size="16" dy="11.5" dx="1">ab</tspan><tspan dy="-11.5"> (mΩcm)</tspan></text>
<g font-size="14.9">
<circle cx="1921" cy="206.3" r="6.4" fill="#ff0000"/>
<text x="1932.5" y="211.4" fill="#ff0000">3.0 K</text>
<circle cx="1921" cy="224.2" r="6.4" fill="#0000ff"/>
<text x="1932.5" y="229.3" fill="#0000ff">2.9 K</text>
<circle cx="1921" cy="242" r="6.4" fill="#006400"/>
<text x="1932.5" y="247.1" fill="#006400">2.8 K</text>
<circle cx="1921" cy="259.9" r="6.4" fill="#000000"/>
<text x="1932.5" y="265" fill="#000000">2.7 K</text>
<circle cx="1921" cy="277.7" r="6.4" fill="#ff3399"/>
<text x="1932.5" y="282.8" fill="#ff3399">2.6 K</text>
<circle cx="1921" cy="295.6" r="6.4" fill="#00b0f0"/>
<text x="1932.5" y="300.7" fill="#00b0f0">2.5 K</text>
<circle cx="1921" cy="313.4" r="6.4" fill="#ed7d31"/>
<text x="1932.5" y="318.5" fill="#ed7d31">2.4 K</text>
<circle cx="1921" cy="331.2" r="6.4" fill="#7030a0"/>
<text x="1932.5" y="336.4" fill="#7030a0">2.3 K</text>
<circle cx="1921" cy="349.1" r="6.4" fill="#cc9900"/>
<text x="1932.5" y="354.2" fill="#cc9900">2.2 K</text>
<circle cx="1921" cy="367" r="6.4" fill="#cc0066"/>
<text x="1932.5" y="372.1" fill="#cc0066">2.1 K</text>
<circle cx="1921" cy="384.8" r="6.4" fill="#595959"/>
<text x="1932.5" y="389.9" fill="#595959">2.0 K</text>
</g>
<text x="1639.5" y="63.75" font-size="25.6"><tspan font-style="italic">B</tspan> || <tspan font-style="italic">c</tspan></text>
<text x="1727.3" y="63.75" font-size="25.6"><tspan font-style="italic">x</tspan> = 0.22</text>
<text x="1613" y="90.8" font-size="25.6">3.0 K</text>
<text x="1752" y="311.7" font-size="25.6">2.0 K</text>
<path d="M1759.4 282.1 L1642.6 107.9" stroke="#000" stroke-width="2.85" fill="none"/>
<path d="M1637.9 100.8 L1647.1 107.3 L1640.4 111.7 Z" fill="#000"/>
</g>
<g id="panel-e">
<clipPath id="cp4"><rect x="98.1" y="550.4" width="390.79999999999995" height="388.1"/></clipPath>
<path d="M165.9 932.5v-6.6 M165.9 550.4v6.6 M229.7 932.5v-6.6 M229.7 550.4v6.6 M293.5 932.5v-6.6 M293.5 550.4v6.6 M357.3 932.5v-6.6 M357.3 550.4v6.6 M421.1 932.5v-6.6 M421.1 550.4v6.6 M102.1 837h6.6 M484.9 837h-6.6 M102.1 741.5h6.6 M484.9 741.5h-6.6 M102.1 646h6.6 M484.9 646h-6.6 " stroke="#7f7f7f" stroke-width="1" fill="none"/>
<rect x="102.1" y="550.4" width="382.8" height="382.1" fill="none" stroke="#7f7f7f" stroke-width="1.3"/>
<clipPath id="lc4"><rect x="102.1" y="550.4" width="382.8" height="382.7"/></clipPath>
<g clip-path="url(#cp4)">
<path d="M209.6 931.8 L215.5 931.8 L221.5 931.8 L227.4 931.8 L233.4 931.8 L239.3 931.8 L245.3 931.8 L251.2 931.8 L257.2 931.8 L263.1 931.8 L269.1 931.8 L275.1 931.8 L281 931.8 L286.9 931.8 L292.9 931.8 L298.9 931.8 L304.8 931.8 L310.8 931.8 L316.7 931.8 L322.6 931.8 L328.6 931.8 L334.6 931.8 L340.5 931.8 L350.4 931.7 L355.6 928.5 L360.8 895.4 L366 796.9 L371.2 667.9 L376.5 606 L381.7 598.1 L386.7 595 L394.2 591.5 L399.4 587.9 L405.2 586.9 L411.5 585.2 L417.1 583.8 L422.9 582.1 L428.5 581.5 L435.8 580.6 L442.1 579.6 L448.8 578.5 L455.6 577.5 L460.8 576.2 L467.1 575.4 L473.3 575.2 L480.8 573.8" fill="none" stroke="#e00000" stroke-width="0.9" stroke-opacity="0.6" clip-path="url(#lc4)"/>
<path d="M209.6 931.8h0M215.5 931.8h0M221.5 931.8h0M227.4 931.8h0M233.4 931.8h0M239.3 931.8h0M245.3 931.8h0M251.2 931.8h0M257.2 931.8h0M263.1 931.8h0M269.1 931.8h0M275.1 931.8h0M281 931.8h0M286.9 931.8h0M292.9 931.8h0M298.9 931.8h0M304.8 931.8h0M310.8 931.8h0M316.7 931.8h0M322.6 931.8h0M328.6 931.8h0M334.6 931.8h0M340.5 931.8h0M350.4 931.7h0M355.6 928.5h0M360.8 895.4h0M366 796.9h0M371.2 667.9h0M376.5 606h0M381.7 598.1h0M386.7 595h0M394.2 591.5h0M399.4 587.9h0M405.2 586.9h0M411.5 585.2h0M417.1 583.8h0M422.9 582.1h0M428.5 581.5h0M435.8 580.6h0M442.1 579.6h0M448.8 578.5h0M455.6 577.5h0M460.8 576.2h0M467.1 575.4h0M473.3 575.2h0M480.8 573.8h0" fill="none" stroke="#e00000" stroke-width="5.4" stroke-linecap="round"/>
<path d="M102.1 931.8 L111.9 931.8 L124.7 931.8 L137.5 931.8 L150.2 931.8 L163 931.8 L175.7 931.8 L188.5 931.8 L201.3 931.8 L214 931.8 L226.8 931.8 L239.5 931.8 L252.3 931.8 L265.1 931.8 L277.8 931.8 L290.6 931.8 L302.9 930.6 L316 918.5 L328.8 865 L341 734.8 L353.5 640 L366.9 607.7 L378.5 598.1 L391.5 592.1 L404.6 587.3 L417.5 583.5 L430 581 L443.1 579.6 L455.6 577.9 L467.1 576.2 L480.8 573.8" fill="none" stroke="#0000e6" stroke-width="0.9" stroke-opacity="0.6" clip-path="url(#lc4)"/>
<path d="M102.1 931.8h0M111.9 931.8h0M124.7 931.8h0M137.5 931.8h0M150.2 931.8h0M163 931.8h0M175.7 931.8h0M188.5 931.8h0M201.3 931.8h0M214 931.8h0M226.8 931.8h0M239.5 931.8h0M252.3 931.8h0M265.1 931.8h0M277.8 931.8h0M290.6 931.8h0M302.9 930.6h0M316 918.5h0M328.8 865h0M341 734.8h0M353.5 640h0M366.9 607.7h0M378.5 598.1h0M391.5 592.1h0M404.6 587.3h0M417.5 583.5h0M430 581h0M443.1 579.6h0M455.6 577.9h0M467.1 576.2h0M480.8 573.8h0" fill="none" stroke="#0000e6" stroke-width="6" stroke-linecap="round"/>
<path d="M102.1 931.8 L111.9 931.8 L124.7 931.8 L137.5 931.8 L150.2 931.8 L163 931.8 L175.7 931.8 L188.5 931.8 L201.3 931.8 L214 931.8 L226.8 931.8 L239.5 931.8 L252.5 931.2 L265.4 927.1 L278.1 906.7 L290 855.2 L302.9 765.4 L316 686.9 L328.8 639.8 L341.2 617.1 L353.8 601.9 L366 596.2 L379.2 591 L392.1 586.9 L404.6 582.1 L417.5 582.1 L429.6 580 L442.1 577.9 L454.6 576.2 L467.1 574.8 L480.8 573.1" fill="none" stroke="#0a5f1e" stroke-width="0.9" stroke-opacity="0.6" clip-path="url(#lc4)"/>
<path d="M102.1 931.8h0M111.9 931.8h0M124.7 931.8h0M137.5 931.8h0M150.2 931.8h0M163 931.8h0M175.7 931.8h0M188.5 931.8h0M201.3 931.8h0M214 931.8h0M226.8 931.8h0M239.5 931.8h0M252.5 931.2h0M265.4 927.1h0M278.1 906.7h0M290 855.2h0M302.9 765.4h0M316 686.9h0M328.8 639.8h0M341.2 617.1h0M353.8 601.9h0M366 596.2h0M379.2 591h0M392.1 586.9h0M404.6 582.1h0M417.5 582.1h0M429.6 580h0M442.1 577.9h0M454.6 576.2h0M467.1 574.8h0M480.8 573.1h0" fill="none" stroke="#0a5f1e" stroke-width="6" stroke-linecap="round"/>
<path d="M102.1 931.8 L111.9 931.8 L124.7 931.8 L137.5 931.8 L150.2 931.8 L163 931.8 L175.7 931.8 L188.5 931.8 L201.3 931.8 L214 931.8 L226.5 931.2 L239.6 925.4 L252.1 894.2 L265 818.8 L277.5 734.6 L290.4 677.1 L290.6 677.5 L302.1 642.7 L315 620.6 L327.9 606.5 L341 597.3 L353.8 591.7 L366 588.3 L379 583.5 L391.5 581.5 L404.2 579.6 L417.1 578.3 L429.6 577.3 L442.1 575.8 L454.6 574.4 L467.1 573.3 L480.8 572.7" fill="none" stroke="#000000" stroke-width="0.9" stroke-opacity="0.6" clip-path="url(#lc4)"/>
<path d="M102.1 931.8h0M111.9 931.8h0M124.7 931.8h0M137.5 931.8h0M150.2 931.8h0M163 931.8h0M175.7 931.8h0M188.5 931.8h0M201.3 931.8h0M214 931.8h0M226.5 931.2h0M239.6 925.4h0M252.1 894.2h0M265 818.8h0M277.5 734.6h0M290.4 677.1h0M290.6 677.5h0M302.1 642.7h0M315 620.6h0M327.9 606.5h0M341 597.3h0M353.8 591.7h0M366 588.3h0M379 583.5h0M391.5 581.5h0M404.2 579.6h0M417.1 578.3h0M429.6 577.3h0M442.1 575.8h0M454.6 574.4h0M467.1 573.3h0M480.8 572.7h0" fill="none" stroke="#000000" stroke-width="6" stroke-linecap="round"/>
<path d="M102.1 931.8 L111.9 931.8 L124.7 931.8 L137.5 931.8 L150.2 931.8 L163 931.8 L175.7 931.8 L188.5 931.8 L201.3 931.8 L213.3 931.2 L226 926.5 L239 897.9 L252.1 818.5 L264.2 737.7 L276.9 679.6 L289.4 644 L289.4 644 L302.1 622.1 L315 607.5 L327.9 598.3 L340.6 592.1 L352.9 587.7 L365.4 584.6 L378.5 582.1 L391.5 580 L404.2 578.3 L417.1 577.3 L429.6 576.2 L442.1 574.8 L454.6 573.3 L467.1 572.3 L480.8 571.7" fill="none" stroke="#e8108a" stroke-width="0.9" stroke-opacity="0.6" clip-path="url(#lc4)"/>
<path d="M102.1 931.8h0M111.9 931.8h0M124.7 931.8h0M137.5 931.8h0M150.2 931.8h0M163 931.8h0M175.7 931.8h0M188.5 931.8h0M201.3 931.8h0M213.3 931.2h0M226 926.5h0M239 897.9h0M252.1 818.5h0M264.2 737.7h0M276.9 679.6h0M289.4 644h0M289.4 644h0M302.1 622.1h0M315 607.5h0M327.9 598.3h0M340.6 592.1h0M352.9 587.7h0M365.4 584.6h0M378.5 582.1h0M391.5 580h0M404.2 578.3h0M417.1 577.3h0M429.6 576.2h0M442.1 574.8h0M454.6 573.3h0M467.1 572.3h0M480.8 571.7h0" fill="none" stroke="#e8108a" stroke-width="6" stroke-linecap="round"/>
<path d="M102.1 931.8 L111.9 931.8 L124.7 931.8 L137.5 931.8 L150.2 931.8 L163 931.8 L175.7 931.8 L188.5 931.8 L201.3 931.8 L214 926.5 L226.5 900.8 L238.8 831 L251 750 L263.8 682.5 L277.1 642.1 L289.4 620.6 L289.4 620.8 L302.1 607.1 L314.6 598.1 L327.5 592.1 L340.6 587.7 L352.5 584.2 L365.4 581 L378.5 580 L391.5 578.3 L404.2 576.9 L417.1 575.8 L429.6 574.8 L442.1 573.8 L454.6 572.3 L467.1 571.2 L480.8 570.8" fill="none" stroke="#10a8e8" stroke-width="0.9" stroke-opacity="0.6" clip-path="url(#lc4)"/>
<path d="M102.1 931.8h0M111.9 931.8h0M124.7 931.8h0M137.5 931.8h0M150.2 931.8h0M163 931.8h0M175.7 931.8h0M188.5 931.8h0M201.3 931.8h0M214 926.5h0M226.5 900.8h0M238.8 831h0M251 750h0M263.8 682.5h0M277.1 642.1h0M289.4 620.6h0M289.4 620.8h0M302.1 607.1h0M314.6 598.1h0M327.5 592.1h0M340.6 587.7h0M352.5 584.2h0M365.4 581h0M378.5 580h0M391.5 578.3h0M404.2 576.9h0M417.1 575.8h0M429.6 574.8h0M442.1 573.8h0M454.6 572.3h0M467.1 571.2h0M480.8 570.8h0" fill="none" stroke="#10a8e8" stroke-width="6" stroke-linecap="round"/>
<path d="M102.1 931.8 L111.9 931.8 L124.7 931.8 L137.5 931.8 L150.2 931.8 L163 931.8 L175.7 931.8 L188.5 931.8 L200.4 926 L212.9 905.6 L225.4 839.6 L239.6 756.2 L251 694.2 L263.8 644.6 L276.5 619.6 L289.4 605.6 L289.4 606 L302.1 597.7 L315 591 L327.5 586.2 L340.2 582.7 L352.5 581 L365.4 579 L378.5 579 L391.5 577.5 L404.2 575.8 L417.1 574.8 L429.6 574.2 L442.1 573.1 L454.6 571.7 L467.1 570.6 L480.8 569.6" fill="none" stroke="#ff9a20" stroke-width="0.9" stroke-opacity="0.6" clip-path="url(#lc4)"/>
<path d="M102.1 931.8h0M111.9 931.8h0M124.7 931.8h0M137.5 931.8h0M150.2 931.8h0M163 931.8h0M175.7 931.8h0M188.5 931.8h0M200.4 926h0M212.9 905.6h0M225.4 839.6h0M239.6 756.2h0M251 694.2h0M263.8 644.6h0M276.5 619.6h0M289.4 605.6h0M289.4 606h0M302.1 597.7h0M315 591h0M327.5 586.2h0M340.2 582.7h0M352.5 581h0M365.4 579h0M378.5 579h0M391.5 577.5h0M404.2 575.8h0M417.1 574.8h0M429.6 574.2h0M442.1 573.1h0M454.6 571.7h0M467.1 570.6h0M480.8 569.6h0" fill="none" stroke="#ff9a20" stroke-width="6" stroke-linecap="round"/>
<path d="M102.1 931.8 L111.9 931.8 L124.7 931.8 L137.5 931.8 L150.2 931.8 L162.5 930.6 L175.4 929.2 L188.3 926.5 L200.8 906 L213.5 843.8 L225.8 779 L237.9 713.3 L250.8 654 L264.2 619.6 L276.9 606.7 L289 596.7 L289.4 596.7 L302.1 588.5 L315 584.2 L327.9 580.6 L340.6 577.9 L353.3 576.2 L365.4 574.8 L379 574.4 L391.5 575.2 L404.2 573.3 L417.1 573.3 L429.6 573.1 L442.1 572.3 L454.6 570.6 L467.1 570 L480.8 571.7" fill="none" stroke="#9a1fe0" stroke-width="0.9" stroke-opacity="0.6" clip-path="url(#lc4)"/>
<path d="M102.1 931.8h0M111.9 931.8h0M124.7 931.8h0M137.5 931.8h0M150.2 931.8h0M162.5 930.6h0M175.4 929.2h0M188.3 926.5h0M200.8 906h0M213.5 843.8h0M225.8 779h0M237.9 713.3h0M250.8 654h0M264.2 619.6h0M276.9 606.7h0M289 596.7h0M289.4 596.7h0M302.1 588.5h0M315 584.2h0M327.9 580.6h0M340.6 577.9h0M353.3 576.2h0M365.4 574.8h0M379 574.4h0M391.5 575.2h0M404.2 573.3h0M417.1 573.3h0M429.6 573.1h0M442.1 572.3h0M454.6 570.6h0M467.1 570h0M480.8 571.7h0" fill="none" stroke="#9a1fe0" stroke-width="6" stroke-linecap="round"/>
</g>
<g font-size="20" fill="#000">
<text x="102.1" y="952.7" text-anchor="middle">2</text>
<text x="165.9" y="952.7" text-anchor="middle">2.5</text>
<text x="229.7" y="952.7" text-anchor="middle">3</text>
<text x="293.5" y="952.7" text-anchor="middle">3.5</text>
<text x="357.3" y="952.7" text-anchor="middle">4</text>
<text x="421.1" y="952.7" text-anchor="middle">4.5</text>
<text x="484.9" y="952.7" text-anchor="middle">5</text>
<text x="92.3" y="936.8" text-anchor="end">0</text>
<text x="92.3" y="841.3" text-anchor="end">0.5</text>
<text x="92.3" y="745.8" text-anchor="end">1</text>
<text x="92.3" y="650.3" text-anchor="end">1.5</text>
<text x="92.3" y="554.7" text-anchor="end">2</text>
</g>
<text x="29.2" y="561" font-size="46">e</text>
<text x="293" y="996" font-size="25" text-anchor="middle"><tspan font-style="italic">T</tspan> (K)</text>
<text transform="translate(25.4 806) rotate(-90)" font-size="25"><tspan font-style="italic">ρ</tspan><tspan font-style="italic" font-size="16" dy="11.5" dx="1">ab</tspan><tspan dy="-11.5"> (mΩcm)</tspan></text>
<g font-size="19">
<circle cx="416.3" cy="657.9" r="8.2" fill="#ff0000"/>
<text x="431.5" y="664.5" fill="#ff0000">0 T</text>
<circle cx="416.3" cy="681" r="8.2" fill="#0000ff"/>
<text x="431.5" y="687.5" fill="#0000ff">1 T</text>
<circle cx="416.3" cy="704" r="8.2" fill="#006400"/>
<text x="431.5" y="710.6" fill="#006400">3 T</text>
<circle cx="416.3" cy="727.1" r="8.2" fill="#000000"/>
<text x="431.5" y="733.6" fill="#000000">5 T</text>
<circle cx="416.3" cy="750.1" r="8.2" fill="#ff3399"/>
<text x="431.5" y="756.7" fill="#ff3399">6 T</text>
<circle cx="416.3" cy="773.2" r="8.2" fill="#00b0f0"/>
<text x="431.5" y="779.8" fill="#00b0f0">7 T</text>
<circle cx="416.3" cy="796.3" r="8.2" fill="#ed7d31"/>
<text x="431.5" y="802.8" fill="#ed7d31">8 T</text>
<circle cx="416.3" cy="819.3" r="8.2" fill="#7030a0"/>
<text x="431.5" y="825.9" fill="#7030a0">9 T</text>
</g>
<text x="122.3" y="586.7" font-size="25.6"><tspan font-style="italic">B</tspan> || <tspan font-style="italic">ab</tspan></text>
<text x="122" y="619.6" font-size="25.6"><tspan font-style="italic">x</tspan> = 0.69</text>
<text x="155.5" y="749" font-size="25.6">9 T</text>
<text x="389" y="870.8" font-size="25.6">0 T</text>
<path d="M389 847.9 L198.7 756.6" stroke="#000" stroke-width="2.85" fill="none"/>
<path d="M191 752.9 L202.2 753.8 L198.7 761 Z" fill="#000"/>
</g>
<g id="panel-f">
<clipPath id="cp5"><rect x="594.8" y="548.8" width="390.80000000000007" height="387.9000000000001"/></clipPath>
<path d="M653.5 930.7v-6.6 M653.5 548.8v6.6 M708.2 930.7v-6.6 M708.2 548.8v6.6 M762.8 930.7v-6.6 M762.8 548.8v6.6 M817.5 930.7v-6.6 M817.5 548.8v6.6 M872.1 930.7v-6.6 M872.1 548.8v6.6 M926.8 930.7v-6.6 M926.8 548.8v6.6 M598.8 847.7h6.6 M981.6 847.7h-6.6 M598.8 764.6h6.6 M981.6 764.6h-6.6 M598.8 681.5h6.6 M981.6 681.5h-6.6 M598.8 598.4h6.6 M981.6 598.4h-6.6 " stroke="#707070" stroke-width="1" fill="none"/>
<rect x="598.8" y="548.8" width="382.8" height="381.9" fill="none" stroke="#707070" stroke-width="1.0"/>
<clipPath id="lc5"><rect x="598.8" y="548.8" width="382.8" height="382.5"/></clipPath>
<g clip-path="url(#cp5)">
<path d="M746.4 929.6 L751.9 929.6 L757.3 929.6 L762.8 929.6 L768.2 929.6 L773.7 929.6 L779.2 929.6 L784.6 929.6 L790.1 929.6 L795.5 929.6 L801 929.6 L806.5 929.6 L811.9 929.6 L817.4 929.6 L822.8 929.6 L828.3 929.6 L833.8 929.6 L839.2 929.6 L844.7 929.6 L850.1 929.6 L855.6 929.6 L861.1 929.6 L866 930 L866.5 929.6 L870.8 926.9 L875.4 898.3 L879.6 812.9 L883.8 700.8 L888.3 646.7 L893.5 639.4 L898.3 636.2 L902.5 634.2 L907.7 631 L912.9 629.4 L917.5 629 L922.5 627.5 L927.5 626.5 L933.3 625.8 L939.4 625.4 L945.2 623.8 L950.4 622.3 L955.6 621.2 L960.8 620.2 L966.7 619.8 L972.3 619.6 L978.1 619.2" fill="none" stroke="#e00000" stroke-width="0.9" stroke-opacity="0.6" clip-path="url(#lc5)"/>
<path d="M746.4 929.6h0M751.9 929.6h0M757.3 929.6h0M762.8 929.6h0M768.2 929.6h0M773.7 929.6h0M779.2 929.6h0M784.6 929.6h0M790.1 929.6h0M795.5 929.6h0M801 929.6h0M806.5 929.6h0M811.9 929.6h0M817.4 929.6h0M822.8 929.6h0M828.3 929.6h0M833.8 929.6h0M839.2 929.6h0M844.7 929.6h0M850.1 929.6h0M855.6 929.6h0M861.1 929.6h0M866 930h0M866.5 929.6h0M870.8 926.9h0M875.4 898.3h0M879.6 812.9h0M883.8 700.8h0M888.3 646.7h0M893.5 639.4h0M898.3 636.2h0M902.5 634.2h0M907.7 631h0M912.9 629.4h0M917.5 629h0M922.5 627.5h0M927.5 626.5h0M933.3 625.8h0M939.4 625.4h0M945.2 623.8h0M950.4 622.3h0M955.6 621.2h0M960.8 620.2h0M966.7 619.8h0M972.3 619.6h0M978.1 619.2h0" fill="none" stroke="#e00000" stroke-width="5.4" stroke-linecap="round"/>
<path d="M652.5 929.6 L661.3 929.6 L672.7 929.6 L683.6 929.6 L694.6 929.6 L705.5 929.6 L716.4 929.6 L727.4 929.6 L738.3 929.6 L749.2 929.6 L760.1 929.6 L771.1 929.6 L782 929.6 L792.9 929.6 L803.9 929.6 L814.8 929.6 L825.7 929.6 L836.7 929.6 L847.3 929.2 L858.1 923.3 L869.2 808.8 L880 662.5 L890 643.5 L901 637.9 L911.9 633.1 L923.3 629.6 L934.2 627.5 L945.2 625.8 L956.2 624.4 L967.1 622.1 L978.1 621.2" fill="none" stroke="#0000e6" stroke-width="0.9" stroke-opacity="0.6" clip-path="url(#lc5)"/>
<path d="M652.5 929.6h0M661.3 929.6h0M672.7 929.6h0M683.6 929.6h0M694.6 929.6h0M705.5 929.6h0M716.4 929.6h0M727.4 929.6h0M738.3 929.6h0M749.2 929.6h0M760.1 929.6h0M771.1 929.6h0M782 929.6h0M792.9 929.6h0M803.9 929.6h0M814.8 929.6h0M825.7 929.6h0M836.7 929.6h0M847.3 929.2h0M858.1 923.3h0M869.2 808.8h0M880 662.5h0M890 643.5h0M901 637.9h0M911.9 633.1h0M923.3 629.6h0M934.2 627.5h0M945.2 625.8h0M956.2 624.4h0M967.1 622.1h0M978.1 621.2h0" fill="none" stroke="#0000e6" stroke-width="6" stroke-linecap="round"/>
<path d="M652.5 929.6 L661.3 929.6 L672.7 929.6 L683.6 929.6 L694.6 929.6 L705.5 929.6 L716.4 929.6 L727.4 929.6 L738.3 929.6 L749.2 929.6 L760.1 929.6 L771.1 929.6 L782 929.6 L792.9 929.6 L803.9 929.6 L814.8 929.6 L825.7 929.6 L836.2 926.5 L847.3 887.3 L858.1 771.2 L869.2 680 L879.2 653.3 L891 643.1 L901.9 635.8 L911.9 633.1 L923.3 629 L934.2 626.9 L945.2 625.4 L956.2 623.8 L967.1 622.1 L978.1 621.2" fill="none" stroke="#0a5f1e" stroke-width="0.9" stroke-opacity="0.6" clip-path="url(#lc5)"/>
<path d="M652.5 929.6h0M661.3 929.6h0M672.7 929.6h0M683.6 929.6h0M694.6 929.6h0M705.5 929.6h0M716.4 929.6h0M727.4 929.6h0M738.3 929.6h0M749.2 929.6h0M760.1 929.6h0M771.1 929.6h0M782 929.6h0M792.9 929.6h0M803.9 929.6h0M814.8 929.6h0M825.7 929.6h0M836.2 926.5h0M847.3 887.3h0M858.1 771.2h0M869.2 680h0M879.2 653.3h0M891 643.1h0M901.9 635.8h0M911.9 633.1h0M923.3 629h0M934.2 626.9h0M945.2 625.4h0M956.2 623.8h0M967.1 622.1h0M978.1 621.2h0" fill="none" stroke="#0a5f1e" stroke-width="6" stroke-linecap="round"/>
<path d="M652.5 929.6 L661.3 929.6 L672.7 929.6 L683.6 929.6 L694.6 929.6 L705.5 929.6 L716.4 929.6 L727.4 929.6 L738.3 929.6 L749.2 929.6 L760.1 929.6 L771.1 929.6 L782 929.6 L792.5 917.1 L792.5 917.1 L803.5 875.4 L814.4 819.2 L825.4 758.8 L836.2 709.2 L847.3 674.8 L858.8 656.7 L868.8 645.6 L880 639.4 L891 634.6 L902.5 631 L912.9 629.4 L923.3 626.9 L934.2 625.8 L945.2 624.8 L956.2 624.4 L967.1 621.7 L978.5 621.7" fill="none" stroke="#000000" stroke-width="0.9" stroke-opacity="0.6" clip-path="url(#lc5)"/>
<path d="M652.5 929.6h0M661.3 929.6h0M672.7 929.6h0M683.6 929.6h0M694.6 929.6h0M705.5 929.6h0M716.4 929.6h0M727.4 929.6h0M738.3 929.6h0M749.2 929.6h0M760.1 929.6h0M771.1 929.6h0M782 929.6h0M792.5 917.1h0M792.5 917.1h0M803.5 875.4h0M814.4 819.2h0M825.4 758.8h0M836.2 709.2h0M847.3 674.8h0M858.8 656.7h0M868.8 645.6h0M880 639.4h0M891 634.6h0M902.5 631h0M912.9 629.4h0M923.3 626.9h0M934.2 625.8h0M945.2 624.8h0M956.2 624.4h0M967.1 621.7h0M978.5 621.7h0" fill="none" stroke="#000000" stroke-width="6" stroke-linecap="round"/>
<path d="M652.5 929.6 L661.3 929.6 L672.7 929.6 L683.6 929.6 L694.6 929.6 L705.5 929.6 L716.5 929.2 L727.3 921.2 L737.5 905.8 L749.2 879.6 L760.2 847.7 L770.4 805.6 L781.9 759.4 L793.1 719.6 L803.5 692.5 L814.6 673.8 L825.4 660.2 L836.2 648.3 L847.3 640 L858.8 634.6 L868.8 630 L879.2 627.5 L891 624.8 L902.5 623.8 L912.9 623.3 L923.3 622.1 L934.2 621.2 L945.2 620.6 L956.2 620 L967.1 619.2 L978.1 618.5" fill="none" stroke="#e8108a" stroke-width="0.9" stroke-opacity="0.6" clip-path="url(#lc5)"/>
<path d="M652.5 929.6h0M661.3 929.6h0M672.7 929.6h0M683.6 929.6h0M694.6 929.6h0M705.5 929.6h0M716.5 929.2h0M727.3 921.2h0M737.5 905.8h0M749.2 879.6h0M760.2 847.7h0M770.4 805.6h0M781.9 759.4h0M793.1 719.6h0M803.5 692.5h0M814.6 673.8h0M825.4 660.2h0M836.2 648.3h0M847.3 640h0M858.8 634.6h0M868.8 630h0M879.2 627.5h0M891 624.8h0M902.5 623.8h0M912.9 623.3h0M923.3 622.1h0M934.2 621.2h0M945.2 620.6h0M956.2 620h0M967.1 619.2h0M978.1 618.5h0" fill="none" stroke="#e8108a" stroke-width="6" stroke-linecap="round"/>
<path d="M652.5 929.6 L661.2 927.5 L672.7 919.8 L683.3 908.1 L694 891.5 L705.2 865.8 L716.2 835.8 L727.3 802.5 L737.9 764.4 L748.8 729.4 L759.8 702.3 L769.6 684.8 L781 669.8 L792.7 658.3 L803.5 649.4 L814.6 640.4 L825.4 635.2 L836.2 631 L846.7 627.3 L858.1 624.8 L869.2 621.2 L880.6 621.2 L891 620.2 L901.9 620 L912.9 619.6 L923.3 620 L934.2 617.5 L945.6 618.5 L956.2 617.9 L967.1 617.1 L978.1 616.5" fill="none" stroke="#10a8e8" stroke-width="0.9" stroke-opacity="0.6" clip-path="url(#lc5)"/>
<path d="M652.5 929.6h0M661.2 927.5h0M672.7 919.8h0M683.3 908.1h0M694 891.5h0M705.2 865.8h0M716.2 835.8h0M727.3 802.5h0M737.9 764.4h0M748.8 729.4h0M759.8 702.3h0M769.6 684.8h0M781 669.8h0M792.7 658.3h0M803.5 649.4h0M814.6 640.4h0M825.4 635.2h0M836.2 631h0M846.7 627.3h0M858.1 624.8h0M869.2 621.2h0M880.6 621.2h0M891 620.2h0M901.9 620h0M912.9 619.6h0M923.3 620h0M934.2 617.5h0M945.6 618.5h0M956.2 617.9h0M967.1 617.1h0M978.1 616.5h0" fill="none" stroke="#10a8e8" stroke-width="6" stroke-linecap="round"/>
<path d="M656.7 759.4 L661.2 746.9 L672.3 720.6 L683.3 695 L694 677.3 L705 665.8 L715 655 L727.1 648.1 L737.3 644 L748.8 639 L759.8 634 L770.8 632.3 L781 627.1 L792.5 625.8 L803.5 622.1 L814 620.6 L825.4 617.9 L835.8 615.8 L846.7 613.8 L857.3 613.8 L869.2 612.3 L880 614.4 L890.6 614 L901.9 612.7 L911.9 613.3 L923.3 613.3 L934.2 613.3 L945.2 612.9 L956.7 613.3 L967.1 613.3 L978.1 613.3" fill="none" stroke="#ff9a20" stroke-width="0.9" stroke-opacity="0.6" clip-path="url(#lc5)"/>
<path d="M656.7 759.4h0M661.2 746.9h0M672.3 720.6h0M683.3 695h0M694 677.3h0M705 665.8h0M715 655h0M727.1 648.1h0M737.3 644h0M748.8 639h0M759.8 634h0M770.8 632.3h0M781 627.1h0M792.5 625.8h0M803.5 622.1h0M814 620.6h0M825.4 617.9h0M835.8 615.8h0M846.7 613.8h0M857.3 613.8h0M869.2 612.3h0M880 614.4h0M890.6 614h0M901.9 612.7h0M911.9 613.3h0M923.3 613.3h0M934.2 613.3h0M945.2 612.9h0M956.7 613.3h0M967.1 613.3h0M978.1 613.3h0" fill="none" stroke="#ff9a20" stroke-width="6" stroke-linecap="round"/>
<path d="M652.5 619 L660.4 617.5 L670.8 617.1 L681.7 617.1 L692.5 616.5 L704 616 L714 615.8 L725.4 615 L736.5 615 L746.9 614 L758.3 612.9 L768.8 611.9 L780 609.8 L791 609.2 L791 609.4 L802.1 607.7 L813.3 606.7 L823.8 607.5 L834.8 608.1 L846.2 607.1 L856 604.6 L867.7 606.5 L878.5 606.7 L889.4 607.5 L900.4 608.1 L911.5 607.7 L922.5 608.5 L933.3 608.5 L944.2 609.2 L956.2 608.1 L965.4 609.2 L978.1 608.5" fill="none" stroke="#9a1fe0" stroke-width="0.9" stroke-opacity="0.6" clip-path="url(#lc5)"/>
<path d="M652.5 619h0M660.4 617.5h0M670.8 617.1h0M681.7 617.1h0M692.5 616.5h0M704 616h0M714 615.8h0M725.4 615h0M736.5 615h0M746.9 614h0M758.3 612.9h0M768.8 611.9h0M780 609.8h0M791 609.2h0M791 609.4h0M802.1 607.7h0M813.3 606.7h0M823.8 607.5h0M834.8 608.1h0M846.2 607.1h0M856 604.6h0M867.7 606.5h0M878.5 606.7h0M889.4 607.5h0M900.4 608.1h0M911.5 607.7h0M922.5 608.5h0M933.3 608.5h0M944.2 609.2h0M956.2 608.1h0M965.4 609.2h0M978.1 608.5h0" fill="none" stroke="#9a1fe0" stroke-width="6" stroke-linecap="round"/>
</g>
<g font-size="20" fill="#000">
<text x="598.8" y="950.9" text-anchor="middle">1.5</text>
<text x="653.5" y="950.9" text-anchor="middle">2</text>
<text x="708.2" y="950.9" text-anchor="middle">2.5</text>
<text x="762.8" y="950.9" text-anchor="middle">3</text>
<text x="817.5" y="950.9" text-anchor="middle">3.5</text>
<text x="872.1" y="950.9" text-anchor="middle">4</text>
<text x="926.8" y="950.9" text-anchor="middle">4.5</text>
<text x="981.5" y="950.9" text-anchor="middle">5</text>
<text x="589" y="935" text-anchor="end">0</text>
<text x="589" y="852" text-anchor="end">0.5</text>
<text x="589" y="768.9" text-anchor="end">1</text>
<text x="589" y="685.8" text-anchor="end">1.5</text>
<text x="589" y="602.7" text-anchor="end">2</text>
</g>
<text x="540.5" y="558.7" font-size="46">f</text>
<text x="789" y="996" font-size="25" text-anchor="middle"><tspan font-style="italic">T</tspan> (K)</text>
<text transform="translate(521.1 805) rotate(-90)" font-size="25"><tspan font-style="italic">ρ</tspan><tspan font-style="italic" font-size="16" dy="11.5" dx="1">ab</tspan><tspan dy="-11.5"> (mΩcm)</tspan></text>
<g font-size="19">
<circle cx="902.5" cy="686.3" r="8.2" fill="#ff0000"/>
<text x="917.3" y="692.9" fill="#ff0000">0 T</text>
<circle cx="902.5" cy="709.2" r="8.2" fill="#0000ff"/>
<text x="917.3" y="715.8" fill="#0000ff">0.01 T</text>
<circle cx="902.5" cy="732.1" r="8.2" fill="#006400"/>
<text x="917.3" y="738.7" fill="#006400">0.03 T</text>
<circle cx="902.5" cy="755" r="8.2" fill="#000000"/>
<text x="917.3" y="761.6" fill="#000000">0.1 T</text>
<circle cx="902.5" cy="777.9" r="8.2" fill="#ff3399"/>
<text x="917.3" y="784.5" fill="#ff3399">0.2 T</text>
<circle cx="902.5" cy="800.8" r="8.2" fill="#00b0f0"/>
<text x="917.3" y="807.4" fill="#00b0f0">0.3 T</text>
<circle cx="902.5" cy="823.7" r="8.2" fill="#ed7d31"/>
<text x="917.3" y="830.3" fill="#ed7d31">0.5 T</text>
<circle cx="902.5" cy="846.6" r="8.2" fill="#7030a0"/>
<text x="917.3" y="853.2" fill="#7030a0">1 T</text>
</g>
<text x="623.3" y="580" font-size="25.6"><tspan font-style="italic">B</tspan> || <tspan font-style="italic">c</tspan></text>
<text x="622.5" y="608.1" font-size="25.6"><tspan font-style="italic">x</tspan> = 0.69</text>
<text x="733" y="585.2" font-size="25.6">1 T</text>
<text x="891" y="896.25" font-size="25.6">0 T</text>
<path d="M886.9 875.8 L729.5 594.1" stroke="#000" stroke-width="2.85" fill="none"/>
<path d="M725.4 586.7 L734 593.9 L727 597.8 Z" fill="#000"/>
</g>
<g id="panel-g">
<clipPath id="cp6"><rect x="1117.9" y="551.9" width="390.29999999999995" height="388.30000000000007"/></clipPath>
<path d="M1156.7 934.2v-6.6 M1156.7 551.9v6.6 M1191.4 934.2v-6.6 M1191.4 551.9v6.6 M1226.2 934.2v-6.6 M1226.2 551.9v6.6 M1260.9 934.2v-6.6 M1260.9 551.9v6.6 M1295.7 934.2v-6.6 M1295.7 551.9v6.6 M1330.4 934.2v-6.6 M1330.4 551.9v6.6 M1365.2 934.2v-6.6 M1365.2 551.9v6.6 M1399.9 934.2v-6.6 M1399.9 551.9v6.6 M1434.7 934.2v-6.6 M1434.7 551.9v6.6 M1469.4 934.2v-6.6 M1469.4 551.9v6.6 M1121.9 847.4h6.6 M1504.2 847.4h-6.6 M1121.9 760.6h6.6 M1504.2 760.6h-6.6 M1121.9 673.8h6.6 M1504.2 673.8h-6.6 M1121.9 587h6.6 M1504.2 587h-6.6 " stroke="#7f7f7f" stroke-width="1" fill="none"/>
<rect x="1121.9" y="551.9" width="382.3" height="382.3" fill="none" stroke="#7f7f7f" stroke-width="1.3"/>
<clipPath id="lc6"><rect x="1121.9" y="551.9" width="382.3" height="382.9"/></clipPath>
<g clip-path="url(#cp6)">
<path d="M1122.2 933.6 L1124.2 876.2 L1126.2 822.6 L1128.2 784.4 L1130.2 755.8 L1132.2 724.8 L1134.2 708.2 L1136.2 695.1 L1138.2 681.1 L1140.2 670.7 L1142.2 663.6 L1144.2 657.2 L1146.2 652.4 L1148.2 648.5 L1150.2 644.8 L1152.2 642.5 L1154.2 641.4 L1156.2 640.1 L1158.2 638 L1160.2 636.4 L1162.2 636 L1164.2 634.2 L1166.2 633.6 L1168.2 632.8 L1170.2 631.2 L1172.2 629.9 L1174.2 629.1 L1176.2 627.6 L1178.2 627 L1180.2 626.1 L1182.2 625.5 L1184.2 624.8 L1186.2 624.3 L1188.2 623.6 L1190.2 623.2 L1192.2 622.6 L1194.2 622 L1196.2 621.8 L1198.2 619.8 L1200.2 620.4 L1202.2 619.1 L1204.2 618 L1206.2 618 L1208.2 617.6 L1210.2 617.6 L1212.2 616.2 L1214.2 616.4 L1216.2 615.9 L1218.2 614.8 L1220.2 614.7 L1222.2 615.1 L1224.2 614.8 L1226.2 614.7 L1228.2 614.1 L1230.2 613.7 L1232.2 613.2 L1234.2 613.4 L1236.2 612.1 L1238.2 612.1 L1240.2 612.1 L1242.2 610.9 L1244.2 611.9 L1246.2 610.7 L1248.2 610.8 L1250.2 611.6 L1252.2 610 L1254.2 609.9 L1256.2 610.6 L1258.2 609.1 L1260.2 609.1 L1262.2 609.3 L1264.2 608.9 L1266.2 608.7 L1268.2 608.3 L1270.2 608.4 L1272.2 607.9 L1274.2 607.5 L1276.2 606.6 L1278.2 606.3 L1280.2 605.5 L1282.2 606.5 L1284.2 605.1 L1286.2 606.1 L1288.2 606.2 L1290.2 604.7 L1292.2 604.6 L1294.2 604.5 L1296.2 604.9 L1298.2 603.9 L1300.2 604 L1302.2 603.6 L1304.2 603.5 L1306.2 603.9 L1308.2 602.6 L1310.2 602.8 L1312.2 602.6 L1314.2 602.4 L1316.2 601.1 L1318.2 601.8 L1320.2 601.1 L1322.2 601.1 L1324.2 600.4 L1326.2 599.5 L1328.2 599.7 L1330.2 600.2 L1332.2 599.6 L1334.2 599.4 L1336.2 600 L1338.2 600.1 L1340.2 598.9 L1342.2 599.6 L1344.2 597.6 L1346.2 597.4 L1348.2 598.6 L1350.2 597.9 L1352.2 598.1 L1354.2 597.9 L1356.2 597.4 L1358.2 597.6 L1360.2 597.2 L1362.2 596.3 L1364.2 597 L1366.2 596.8" fill="none" stroke="#e00000" stroke-width="0.8" stroke-opacity="0.6" clip-path="url(#lc6)"/>
<path d="M1122.2 933.6h0M1124.2 876.2h0M1126.2 822.6h0M1128.2 784.4h0M1130.2 755.8h0M1132.2 724.8h0M1134.2 708.2h0M1136.2 695.1h0M1138.2 681.1h0M1140.2 670.7h0M1142.2 663.6h0M1144.2 657.2h0M1146.2 652.4h0M1148.2 648.5h0M1150.2 644.8h0M1152.2 642.5h0M1154.2 641.4h0M1156.2 640.1h0M1158.2 638h0M1160.2 636.4h0M1162.2 636h0M1164.2 634.2h0M1166.2 633.6h0M1168.2 632.8h0M1170.2 631.2h0M1172.2 629.9h0M1174.2 629.1h0M1176.2 627.6h0M1178.2 627h0M1180.2 626.1h0M1182.2 625.5h0M1184.2 624.8h0M1186.2 624.3h0M1188.2 623.6h0M1190.2 623.2h0M1192.2 622.6h0M1194.2 622h0M1196.2 621.8h0M1198.2 619.8h0M1200.2 620.4h0M1202.2 619.1h0M1204.2 618h0M1206.2 618h0M1208.2 617.6h0M1210.2 617.6h0M1212.2 616.2h0M1214.2 616.4h0M1216.2 615.9h0M1218.2 614.8h0M1220.2 614.7h0M1222.2 615.1h0M1224.2 614.8h0M1226.2 614.7h0M1228.2 614.1h0M1230.2 613.7h0M1232.2 613.2h0M1234.2 613.4h0M1236.2 612.1h0M1238.2 612.1h0M1240.2 612.1h0M1242.2 610.9h0M1244.2 611.9h0M1246.2 610.7h0M1248.2 610.8h0M1250.2 611.6h0M1252.2 610h0M1254.2 609.9h0M1256.2 610.6h0M1258.2 609.1h0M1260.2 609.1h0M1262.2 609.3h0M1264.2 608.9h0M1266.2 608.7h0M1268.2 608.3h0M1270.2 608.4h0M1272.2 607.9h0M1274.2 607.5h0M1276.2 606.6h0M1278.2 606.3h0M1280.2 605.5h0M1282.2 606.5h0M1284.2 605.1h0M1286.2 606.1h0M1288.2 606.2h0M1290.2 604.7h0M1292.2 604.6h0M1294.2 604.5h0M1296.2 604.9h0M1298.2 603.9h0M1300.2 604h0M1302.2 603.6h0M1304.2 603.5h0M1306.2 603.9h0M1308.2 602.6h0M1310.2 602.8h0M1312.2 602.6h0M1314.2 602.4h0M1316.2 601.1h0M1318.2 601.8h0M1320.2 601.1h0M1322.2 601.1h0M1324.2 600.4h0M1326.2 599.5h0M1328.2 599.7h0M1330.2 600.2h0M1332.2 599.6h0M1334.2 599.4h0M1336.2 600h0M1338.2 600.1h0M1340.2 598.9h0M1342.2 599.6h0M1344.2 597.6h0M1346.2 597.4h0M1348.2 598.6h0M1350.2 597.9h0M1352.2 598.1h0M1354.2 597.9h0M1356.2 597.4h0M1358.2 597.6h0M1360.2 597.2h0M1362.2 596.3h0M1364.2 597h0M1366.2 596.8h0" fill="none" stroke="#e00000" stroke-width="6" stroke-linecap="round"/>
<path d="M1122.2 933.4 L1124.2 933.2 L1126.2 928.1 L1128.2 919 L1130.2 910 L1132.2 898.1 L1134.2 885.2 L1136.2 867 L1138.2 847.6 L1140.2 831 L1142.2 811 L1144.2 793.2 L1146.2 781.5 L1148.2 763.1 L1150.2 751 L1152.2 739.5 L1154.2 726.2 L1156.2 714.2 L1158.2 707.2 L1160.2 697.1 L1162.2 690.5 L1164.2 684.4 L1166.2 678.6 L1168.2 673.2 L1170.2 668.3 L1172.2 664.5 L1174.2 661.7 L1176.2 658.8 L1178.2 656 L1180.2 654.2 L1182.2 651.9 L1184.2 649.9 L1186.2 648.2 L1188.2 646.2 L1190.2 644.8 L1192.2 643.6 L1194.2 641.8 L1196.2 640.6 L1198.2 639.7 L1200.2 638.2 L1202.2 637.1 L1204.2 636.2 L1206.2 635.7 L1208.2 634.2 L1210.2 632.9 L1212.2 631.7 L1214.2 631 L1216.2 631.2 L1218.2 628 L1220.2 628.9 L1222.2 628.1 L1224.2 627.8 L1226.2 626.3 L1228.2 627.1 L1230.2 625.9 L1232.2 624.8 L1234.2 624.3 L1236.2 623.2 L1238.2 622.9 L1240.2 622.2 L1242.2 622.1 L1244.2 621.2 L1246.2 620.5 L1248.2 620.3 L1250.2 619.7 L1252.2 619 L1254.2 617.7 L1256.2 618.4 L1258.2 616.9 L1260.2 616.5 L1262.2 616.5 L1264.2 616.3 L1266.2 616.2 L1268.2 614.4 L1270.2 615.4 L1272.2 615 L1274.2 613.7 L1276.2 613.4 L1278.2 612.8 L1280.2 612.5 L1282.2 611.8 L1284.2 611.3 L1286.2 611.7 L1288.2 611.6 L1290.2 612 L1292.2 610.4 L1294.2 609.5 L1296.2 610.2 L1298.2 609.6 L1300.2 609.6 L1302.2 608.9 L1304.2 608.1 L1306.2 607.9 L1308.2 608.2 L1310.2 607.6 L1312.2 606.6 L1314.2 607.1 L1316.2 605.6 L1318.2 605.7 L1320.2 605.6 L1322.2 604.6 L1324.2 604.3 L1326.2 604.4 L1328.2 604 L1330.2 603.6 L1332.2 603.1 L1334.2 602.5 L1336.2 602.3 L1338.2 603.7 L1340.2 601.8 L1342.2 602.5 L1344.2 601.3 L1346.2 602 L1348.2 601.7 L1350.2 601.1 L1352.2 600.5 L1354.2 600 L1356.2 600.8 L1358.2 599.6 L1360.2 599.4 L1362.2 600.5 L1364.2 600.3 L1366.2 599.4 L1368.2 599.1 L1370.2 598.7 L1372.2 598.9 L1374.2 598.4 L1376.2 597.7 L1378.2 597.8 L1380.2 598.1 L1382.2 597.1 L1384.2 597.2 L1386.2 597.5 L1388.2 598.1 L1390.2 597.3 L1392.2 597.1 L1394.2 597.8 L1396.2 596.3 L1398.2 596.3 L1400.2 596.9 L1402.2 596.9 L1404.2 596.5 L1406.2 594.9 L1408.2 596.3 L1410.2 596.1 L1412.2 595.7 L1414.2 595.9 L1416.2 596.1 L1418.2 595.3 L1420.2 594.7 L1422.2 594.2 L1424.2 594.9 L1426.2 594.4 L1428.2 594.3 L1430.2 594 L1432.2 594.5 L1434.2 594.5" fill="none" stroke="#0000e6" stroke-width="0.8" stroke-opacity="0.6" clip-path="url(#lc6)"/>
<path d="M1122.2 933.4h0M1124.2 933.2h0M1126.2 928.1h0M1128.2 919h0M1130.2 910h0M1132.2 898.1h0M1134.2 885.2h0M1136.2 867h0M1138.2 847.6h0M1140.2 831h0M1142.2 811h0M1144.2 793.2h0M1146.2 781.5h0M1148.2 763.1h0M1150.2 751h0M1152.2 739.5h0M1154.2 726.2h0M1156.2 714.2h0M1158.2 707.2h0M1160.2 697.1h0M1162.2 690.5h0M1164.2 684.4h0M1166.2 678.6h0M1168.2 673.2h0M1170.2 668.3h0M1172.2 664.5h0M1174.2 661.7h0M1176.2 658.8h0M1178.2 656h0M1180.2 654.2h0M1182.2 651.9h0M1184.2 649.9h0M1186.2 648.2h0M1188.2 646.2h0M1190.2 644.8h0M1192.2 643.6h0M1194.2 641.8h0M1196.2 640.6h0M1198.2 639.7h0M1200.2 638.2h0M1202.2 637.1h0M1204.2 636.2h0M1206.2 635.7h0M1208.2 634.2h0M1210.2 632.9h0M1212.2 631.7h0M1214.2 631h0M1216.2 631.2h0M1218.2 628h0M1220.2 628.9h0M1222.2 628.1h0M1224.2 627.8h0M1226.2 626.3h0M1228.2 627.1h0M1230.2 625.9h0M1232.2 624.8h0M1234.2 624.3h0M1236.2 623.2h0M1238.2 622.9h0M1240.2 622.2h0M1242.2 622.1h0M1244.2 621.2h0M1246.2 620.5h0M1248.2 620.3h0M1250.2 619.7h0M1252.2 619h0M1254.2 617.7h0M1256.2 618.4h0M1258.2 616.9h0M1260.2 616.5h0M1262.2 616.5h0M1264.2 616.3h0M1266.2 616.2h0M1268.2 614.4h0M1270.2 615.4h0M1272.2 615h0M1274.2 613.7h0M1276.2 613.4h0M1278.2 612.8h0M1280.2 612.5h0M1282.2 611.8h0M1284.2 611.3h0M1286.2 611.7h0M1288.2 611.6h0M1290.2 612h0M1292.2 610.4h0M1294.2 609.5h0M1296.2 610.2h0M1298.2 609.6h0M1300.2 609.6h0M1302.2 608.9h0M1304.2 608.1h0M1306.2 607.9h0M1308.2 608.2h0M1310.2 607.6h0M1312.2 606.6h0M1314.2 607.1h0M1316.2 605.6h0M1318.2 605.7h0M1320.2 605.6h0M1322.2 604.6h0M1324.2 604.3h0M1326.2 604.4h0M1328.2 604h0M1330.2 603.6h0M1332.2 603.1h0M1334.2 602.5h0M1336.2 602.3h0M1338.2 603.7h0M1340.2 601.8h0M1342.2 602.5h0M1344.2 601.3h0M1346.2 602h0M1348.2 601.7h0M1350.2 601.1h0M1352.2 600.5h0M1354.2 600h0M1356.2 600.8h0M1358.2 599.6h0M1360.2 599.4h0M1362.2 600.5h0M1364.2 600.3h0M1366.2 599.4h0M1368.2 599.1h0M1370.2 598.7h0M1372.2 598.9h0M1374.2 598.4h0M1376.2 597.7h0M1378.2 597.8h0M1380.2 598.1h0M1382.2 597.1h0M1384.2 597.2h0M1386.2 597.5h0M1388.2 598.1h0M1390.2 597.3h0M1392.2 597.1h0M1394.2 597.8h0M1396.2 596.3h0M1398.2 596.3h0M1400.2 596.9h0M1402.2 596.9h0M1404.2 596.5h0M1406.2 594.9h0M1408.2 596.3h0M1410.2 596.1h0M1412.2 595.7h0M1414.2 595.9h0M1416.2 596.1h0M1418.2 595.3h0M1420.2 594.7h0M1422.2 594.2h0M1424.2 594.9h0M1426.2 594.4h0M1428.2 594.3h0M1430.2 594h0M1432.2 594.5h0M1434.2 594.5h0" fill="none" stroke="#0000e6" stroke-width="6" stroke-linecap="round"/>
<path d="M1122.2 933.2 L1124.2 933.4 L1126.2 933.3 L1128.2 933.4 L1130.2 933.5 L1132.2 932 L1134.2 927.4 L1136.2 924.2 L1138.2 919.7 L1140.2 913.1 L1142.2 908.3 L1144.2 903.3 L1146.2 898.8 L1148.2 893.8 L1150.2 885.1 L1152.2 872.5 L1154.2 862.5 L1156.2 851.3 L1158.2 837.3 L1160.2 826.9 L1162.2 814.9 L1164.2 804 L1166.2 792.4 L1168.2 780.1 L1170.2 770.8 L1172.2 759.8 L1174.2 747.9 L1176.2 740.9 L1178.2 733.1 L1180.2 719.9 L1182.2 715.2 L1184.2 711.1 L1186.2 705.6 L1188.2 701 L1190.2 696.3 L1192.2 691.4 L1194.2 686.7 L1196.2 681.6 L1198.2 678 L1200.2 674.7 L1202.2 671 L1204.2 668.2 L1206.2 664.2 L1208.2 661.2 L1210.2 660.1 L1212.2 657.5 L1214.2 655.4 L1216.2 654.3 L1218.2 652.6 L1220.2 651.5 L1222.2 649.9 L1224.2 648.1 L1226.2 646.7 L1228.2 645.1 L1230.2 644.5 L1232.2 643.4 L1234.2 641.1 L1236.2 640.2 L1238.2 639 L1240.2 637.6 L1242.2 636.7 L1244.2 635.7 L1246.2 634.2 L1248.2 633.8 L1250.2 633.5 L1252.2 632.8 L1254.2 631.5 L1256.2 630.6 L1258.2 630.3 L1260.2 630.3 L1262.2 628.2 L1264.2 627.6 L1266.2 627.1 L1268.2 626.9 L1270.2 625.7 L1272.2 625.6 L1274.2 624.4 L1276.2 624.2 L1278.2 623.2 L1280.2 622.4 L1282.2 622.4 L1284.2 620.9 L1286.2 620.5 L1288.2 620.7 L1290.2 620.3 L1292.2 619.5 L1294.2 618 L1296.2 618.8 L1298.2 618.1 L1300.2 617.2 L1302.2 615.9 L1304.2 616.6 L1306.2 616.5 L1308.2 615.3 L1310.2 615.1 L1312.2 613.7 L1314.2 613.5 L1316.2 612.6 L1318.2 611.8 L1320.2 611.7 L1322.2 610.9 L1324.2 610.5 L1326.2 610 L1328.2 609.7 L1330.2 609.3 L1332.2 609.1 L1334.2 608 L1336.2 608.3 L1338.2 606.9 L1340.2 607.4 L1342.2 607 L1344.2 605.6 L1346.2 606.2 L1348.2 606.5 L1350.2 605.9 L1352.2 605.2 L1354.2 604.9 L1356.2 605 L1358.2 604.7 L1360.2 604.7 L1362.2 604.1 L1364.2 604.1 L1366.2 603.6 L1368.2 602.7 L1370.2 602.3 L1372.2 602.2 L1374.2 602.3 L1376.2 601.4 L1378.2 601.9 L1380.2 600.5 L1382.2 600.9 L1384.2 600.3 L1386.2 600.6 L1388.2 600.3 L1390.2 600 L1392.2 599.3 L1394.2 599.3 L1396.2 599.2 L1398.2 599.7 L1400.2 598.8 L1402.2 599.1 L1404.2 599.2 L1406.2 598.2 L1408.2 598.2 L1410.2 597.3 L1412.2 597.9 L1414.2 598.3 L1416.2 597.4 L1418.2 597.8 L1420.2 597.9 L1422.2 597.6 L1424.2 597.1 L1426.2 597.2 L1428.2 596.7 L1430.2 596.7 L1432.2 597.9 L1434.2 596.5" fill="none" stroke="#0a5f1e" stroke-width="0.8" stroke-opacity="0.6" clip-path="url(#lc6)"/>
<path d="M1122.2 933.2h0M1124.2 933.4h0M1126.2 933.3h0M1128.2 933.4h0M1130.2 933.5h0M1132.2 932h0M1134.2 927.4h0M1136.2 924.2h0M1138.2 919.7h0M1140.2 913.1h0M1142.2 908.3h0M1144.2 903.3h0M1146.2 898.8h0M1148.2 893.8h0M1150.2 885.1h0M1152.2 872.5h0M1154.2 862.5h0M1156.2 851.3h0M1158.2 837.3h0M1160.2 826.9h0M1162.2 814.9h0M1164.2 804h0M1166.2 792.4h0M1168.2 780.1h0M1170.2 770.8h0M1172.2 759.8h0M1174.2 747.9h0M1176.2 740.9h0M1178.2 733.1h0M1180.2 719.9h0M1182.2 715.2h0M1184.2 711.1h0M1186.2 705.6h0M1188.2 701h0M1190.2 696.3h0M1192.2 691.4h0M1194.2 686.7h0M1196.2 681.6h0M1198.2 678h0M1200.2 674.7h0M1202.2 671h0M1204.2 668.2h0M1206.2 664.2h0M1208.2 661.2h0M1210.2 660.1h0M1212.2 657.5h0M1214.2 655.4h0M1216.2 654.3h0M1218.2 652.6h0M1220.2 651.5h0M1222.2 649.9h0M1224.2 648.1h0M1226.2 646.7h0M1228.2 645.1h0M1230.2 644.5h0M1232.2 643.4h0M1234.2 641.1h0M1236.2 640.2h0M1238.2 639h0M1240.2 637.6h0M1242.2 636.7h0M1244.2 635.7h0M1246.2 634.2h0M1248.2 633.8h0M1250.2 633.5h0M1252.2 632.8h0M1254.2 631.5h0M1256.2 630.6h0M1258.2 630.3h0M1260.2 630.3h0M1262.2 628.2h0M1264.2 627.6h0M1266.2 627.1h0M1268.2 626.9h0M1270.2 625.7h0M1272.2 625.6h0M1274.2 624.4h0M1276.2 624.2h0M1278.2 623.2h0M1280.2 622.4h0M1282.2 622.4h0M1284.2 620.9h0M1286.2 620.5h0M1288.2 620.7h0M1290.2 620.3h0M1292.2 619.5h0M1294.2 618h0M1296.2 618.8h0M1298.2 618.1h0M1300.2 617.2h0M1302.2 615.9h0M1304.2 616.6h0M1306.2 616.5h0M1308.2 615.3h0M1310.2 615.1h0M1312.2 613.7h0M1314.2 613.5h0M1316.2 612.6h0M1318.2 611.8h0M1320.2 611.7h0M1322.2 610.9h0M1324.2 610.5h0M1326.2 610h0M1328.2 609.7h0M1330.2 609.3h0M1332.2 609.1h0M1334.2 608h0M1336.2 608.3h0M1338.2 606.9h0M1340.2 607.4h0M1342.2 607h0M1344.2 605.6h0M1346.2 606.2h0M1348.2 606.5h0M1350.2 605.9h0M1352.2 605.2h0M1354.2 604.9h0M1356.2 605h0M1358.2 604.7h0M1360.2 604.7h0M1362.2 604.1h0M1364.2 604.1h0M1366.2 603.6h0M1368.2 602.7h0M1370.2 602.3h0M1372.2 602.2h0M1374.2 602.3h0M1376.2 601.4h0M1378.2 601.9h0M1380.2 600.5h0M1382.2 600.9h0M1384.2 600.3h0M1386.2 600.6h0M1388.2 600.3h0M1390.2 600h0M1392.2 599.3h0M1394.2 599.3h0M1396.2 599.2h0M1398.2 599.7h0M1400.2 598.8h0M1402.2 599.1h0M1404.2 599.2h0M1406.2 598.2h0M1408.2 598.2h0M1410.2 597.3h0M1412.2 597.9h0M1414.2 598.3h0M1416.2 597.4h0M1418.2 597.8h0M1420.2 597.9h0M1422.2 597.6h0M1424.2 597.1h0M1426.2 597.2h0M1428.2 596.7h0M1430.2 596.7h0M1432.2 597.9h0M1434.2 596.5h0" fill="none" stroke="#0a5f1e" stroke-width="6" stroke-linecap="round"/>
<path d="M1122.2 933.6 L1123.8 933.3 L1125.2 933.1 L1126.1 933.2 L1127.7 933.4 L1129.5 933.3 L1130.6 933.3 L1131.9 933.4 L1133.4 933.6 L1134.6 933.1 L1136.4 933.2 L1137.5 932.7 L1139 932.1 L1140.1 929.8 L1141.9 928.4 L1143 927 L1144.9 925.9 L1145.9 924.6 L1147.6 924.3 L1149 922.6 L1150.4 922.1 L1151.4 920.4 L1152.9 917.9 L1154.4 916.9 L1155.9 914.1 L1157.1 911.5 L1158.7 909.6 L1160.1 905.4 L1161.2 904.1 L1162.7 900.3 L1164.4 896.1 L1165.4 895.4 L1167.1 888.6 L1168.1 885.4 L1170.8 874.8 L1173.1 865.9 L1175.2 857.4 L1177.9 847 L1179.9 837.1 L1182 826.4 L1184.4 814.6 L1186.9 804 L1189 797.6 L1191.1 786.6 L1193.6 776.7 L1196.3 764.4 L1198.2 757.7 L1200.6 751 L1203 741.4 L1205.5 732.8 L1207.3 729.6 L1209.6 722.2 L1211.9 715.8 L1214.2 709.5 L1217 703.5 L1218.8 699.6 L1221.1 695.9 L1223.6 691.2 L1225.9 686.4 L1228.3 681.7 L1230.6 678.3 L1232.9 674.5 L1234.9 672.5 L1237.4 668.7 L1239.5 667 L1241.8 663.8 L1244.3 661.3 L1246.6 658.5 L1249 656.6 L1250.9 655.5 L1253.4 653.7 L1255.6 651.4 L1258.1 649.8 L1260.4 647.6 L1262.8 645.2 L1264.8 645.4 L1267.3 643 L1269.6 642.5 L1271.6 641 L1274.2 639.9 L1276.3 639.2 L1278.5 638.1 L1281.4 636.2 L1283.1 635.5 L1285.8 634.1 L1288 632.3 L1290.1 631.9 L1292.6 630.8 L1294.9 630.7 L1297.2 628.7 L1299.8 628 L1302.1 627.5 L1304.2 626.5 L1306.3 625.3 L1308.7 624.3 L1311.2 624.4 L1313.4 621.5 L1315.4 621.5 L1318 620.6 L1320.5 618.3 L1322.3 619 L1324.7 618 L1326.8 617.2 L1329.6 616.1 L1331.6 616.1 L1333.8 616 L1336.1 614.5 L1338.5 613.7 L1340.6 613.4 L1343.3 611.9 L1345.7 612.6 L1348.1 611.9 L1350 610.7 L1352.4 610.7 L1354.8 610.2 L1357.1 610.4 L1359.2 609.1 L1361.5 609.8 L1364.1 608.3 L1366.3 608.5 L1368.2 608.1 L1370.6 607.9 L1373.3 607 L1375.3 607.3 L1377.5 606.4 L1379.9 606.4 L1382.2 606.2 L1384.8 605 L1386.7 605.2 L1389.4 604.2 L1391.4 603.6 L1393.8 603.5 L1395.9 603.9 L1398.3 602.7 L1401 602.2 L1403 601.9 L1405.1 602.4 L1407.6 601.3 L1410 601.2 L1412.4 600.8 L1414.5 600.3 L1417.1 600.6 L1418.9 600.2 L1421.4 598.8 L1423.6 598.7 L1425.9 599 L1428.4 597.4 L1430.3 598.9 L1432.9 598.6" fill="none" stroke="#000000" stroke-width="0.8" stroke-opacity="0.6" clip-path="url(#lc6)"/>
<path d="M1122.2 933.6h0M1123.8 933.3h0M1125.2 933.1h0M1126.1 933.2h0M1127.7 933.4h0M1129.5 933.3h0M1130.6 933.3h0M1131.9 933.4h0M1133.4 933.6h0M1134.6 933.1h0M1136.4 933.2h0M1137.5 932.7h0M1139 932.1h0M1140.1 929.8h0M1141.9 928.4h0M1143 927h0M1144.9 925.9h0M1145.9 924.6h0M1147.6 924.3h0M1149 922.6h0M1150.4 922.1h0M1151.4 920.4h0M1152.9 917.9h0M1154.4 916.9h0M1155.9 914.1h0M1157.1 911.5h0M1158.7 909.6h0M1160.1 905.4h0M1161.2 904.1h0M1162.7 900.3h0M1164.4 896.1h0M1165.4 895.4h0M1167.1 888.6h0M1168.1 885.4h0M1170.8 874.8h0M1173.1 865.9h0M1175.2 857.4h0M1177.9 847h0M1179.9 837.1h0M1182 826.4h0M1184.4 814.6h0M1186.9 804h0M1189 797.6h0M1191.1 786.6h0M1193.6 776.7h0M1196.3 764.4h0M1198.2 757.7h0M1200.6 751h0M1203 741.4h0M1205.5 732.8h0M1207.3 729.6h0M1209.6 722.2h0M1211.9 715.8h0M1214.2 709.5h0M1217 703.5h0M1218.8 699.6h0M1221.1 695.9h0M1223.6 691.2h0M1225.9 686.4h0M1228.3 681.7h0M1230.6 678.3h0M1232.9 674.5h0M1234.9 672.5h0M1237.4 668.7h0M1239.5 667h0M1241.8 663.8h0M1244.3 661.3h0M1246.6 658.5h0M1249 656.6h0M1250.9 655.5h0M1253.4 653.7h0M1255.6 651.4h0M1258.1 649.8h0M1260.4 647.6h0M1262.8 645.2h0M1264.8 645.4h0M1267.3 643h0M1269.6 642.5h0M1271.6 641h0M1274.2 639.9h0M1276.3 639.2h0M1278.5 638.1h0M1281.4 636.2h0M1283.1 635.5h0M1285.8 634.1h0M1288 632.3h0M1290.1 631.9h0M1292.6 630.8h0M1294.9 630.7h0M1297.2 628.7h0M1299.8 628h0M1302.1 627.5h0M1304.2 626.5h0M1306.3 625.3h0M1308.7 624.3h0M1311.2 624.4h0M1313.4 621.5h0M1315.4 621.5h0M1318 620.6h0M1320.5 618.3h0M1322.3 619h0M1324.7 618h0M1326.8 617.2h0M1329.6 616.1h0M1331.6 616.1h0M1333.8 616h0M1336.1 614.5h0M1338.5 613.7h0M1340.6 613.4h0M1343.3 611.9h0M1345.7 612.6h0M1348.1 611.9h0M1350 610.7h0M1352.4 610.7h0M1354.8 610.2h0M1357.1 610.4h0M1359.2 609.1h0M1361.5 609.8h0M1364.1 608.3h0M1366.3 608.5h0M1368.2 608.1h0M1370.6 607.9h0M1373.3 607h0M1375.3 607.3h0M1377.5 606.4h0M1379.9 606.4h0M1382.2 606.2h0M1384.8 605h0M1386.7 605.2h0M1389.4 604.2h0M1391.4 603.6h0M1393.8 603.5h0M1395.9 603.9h0M1398.3 602.7h0M1401 602.2h0M1403 601.9h0M1405.1 602.4h0M1407.6 601.3h0M1410 601.2h0M1412.4 600.8h0M1414.5 600.3h0M1417.1 600.6h0M1418.9 600.2h0M1421.4 598.8h0M1423.6 598.7h0M1425.9 599h0M1428.4 597.4h0M1430.3 598.9h0M1432.9 598.6h0" fill="none" stroke="#000000" stroke-width="6" stroke-linecap="round"/>
<path d="M1122.5 933.7 L1123.3 933.2 L1124.6 933.4 L1126.3 933.1 L1127.6 933.5 L1129.2 933.3 L1130.4 933.4 L1131.8 933.4 L1133 933.3 L1134.5 933.3 L1136.6 933.5 L1137.4 933.4 L1139.2 933.4 L1140.8 933.4 L1142.1 933.3 L1142.9 933.1 L1144.3 933.1 L1145.5 933.3 L1146.9 933.3 L1148.5 933.2 L1150.7 933.5 L1151.5 933.3 L1153.3 933.3 L1154.4 932.7 L1155.8 931.7 L1157.6 929.9 L1158.2 930.4 L1160 928.6 L1161 928.1 L1162.8 927.1 L1164 926.3 L1165.6 924.3 L1167.2 924.7 L1168.3 923.4 L1169.9 921.9 L1171.3 920.9 L1172.5 919.2 L1173.9 918.8 L1175.3 915.9 L1176.7 914.9 L1177.8 913 L1179.2 910.8 L1180.6 908 L1182.6 903.8 L1183.3 901.5 L1185.2 897.7 L1186.2 894.1 L1187.5 890.9 L1189.5 884.2 L1191.9 873.9 L1195.1 864.3 L1197 857.5 L1199.5 850.7 L1202.6 839.7 L1204.9 831.2 L1207.9 814.8 L1210.5 806.7 L1212.7 799.5 L1215.2 789.7 L1217.5 781.9 L1220.5 771.4 L1222.8 763.4 L1226 754 L1228.4 749.4 L1231 735.7 L1233.8 730.6 L1236.1 726.5 L1238.9 721.4 L1241.7 716 L1244 710.6 L1247 704.4 L1248.9 701.1 L1251.4 696 L1253.9 692.1 L1257.4 685.9 L1259.7 683.1 L1261.9 680 L1264.8 676.1 L1267.8 672.2 L1270.4 669.2 L1272.2 667.7 L1275 663.6 L1277.6 661.8 L1280.5 658.6 L1283.2 656 L1285.4 654.3 L1288.3 651.3 L1290.8 650 L1293.8 646.6 L1295.7 645.3 L1298.1 644 L1300.8 642.5 L1303.7 641.4 L1306.4 640.2 L1309.1 639.1 L1312 636.7 L1313.9 636.2 L1316.7 635.4 L1319.8 633.6 L1321.9 633.1 L1324.1 631.9 L1327.6 630.1 L1329.9 628.6 L1332.9 627 L1335.1 627 L1338 625.9 L1340.3 624.2 L1342.4 623.8 L1345.6 622.3 L1348 621.7 L1350.1 621.4 L1353.5 619.7 L1355.4 619.1 L1358.4 619.4 L1361.2 618.2 L1363.9 616.7 L1366.6 616.1 L1368.4 615.7 L1371.1 615.2 L1373.9 614.7 L1376.5 613.5 L1379.3 613 L1382.3 612.5 L1384.5 611.7 L1387.2 611.7 L1389.2 609.8 L1392.1 610 L1394.4 609.9 L1397.1 609.5 L1400.4 608.1 L1402.5 607.2 L1404.9 607.2 L1408.2 606.8 L1410.4 605.9 L1413.2 605.6 L1415.5 604.9 L1418.4 604.4 L1420.7 603.7 L1423.5 604.3 L1426.1 603.1 L1428.2 603.8 L1430.9 603.5 L1434 602.6" fill="none" stroke="#f4149a" stroke-width="0.8" stroke-opacity="0.6" clip-path="url(#lc6)"/>
<path d="M1122.5 933.7h0M1123.3 933.2h0M1124.6 933.4h0M1126.3 933.1h0M1127.6 933.5h0M1129.2 933.3h0M1130.4 933.4h0M1131.8 933.4h0M1133 933.3h0M1134.5 933.3h0M1136.6 933.5h0M1137.4 933.4h0M1139.2 933.4h0M1140.8 933.4h0M1142.1 933.3h0M1142.9 933.1h0M1144.3 933.1h0M1145.5 933.3h0M1146.9 933.3h0M1148.5 933.2h0M1150.7 933.5h0M1151.5 933.3h0M1153.3 933.3h0M1154.4 932.7h0M1155.8 931.7h0M1157.6 929.9h0M1158.2 930.4h0M1160 928.6h0M1161 928.1h0M1162.8 927.1h0M1164 926.3h0M1165.6 924.3h0M1167.2 924.7h0M1168.3 923.4h0M1169.9 921.9h0M1171.3 920.9h0M1172.5 919.2h0M1173.9 918.8h0M1175.3 915.9h0M1176.7 914.9h0M1177.8 913h0M1179.2 910.8h0M1180.6 908h0M1182.6 903.8h0M1183.3 901.5h0M1185.2 897.7h0M1186.2 894.1h0M1187.5 890.9h0M1189.5 884.2h0M1191.9 873.9h0M1195.1 864.3h0M1197 857.5h0M1199.5 850.7h0M1202.6 839.7h0M1204.9 831.2h0M1207.9 814.8h0M1210.5 806.7h0M1212.7 799.5h0M1215.2 789.7h0M1217.5 781.9h0M1220.5 771.4h0M1222.8 763.4h0M1226 754h0M1228.4 749.4h0M1231 735.7h0M1233.8 730.6h0M1236.1 726.5h0M1238.9 721.4h0M1241.7 716h0M1244 710.6h0M1247 704.4h0M1248.9 701.1h0M1251.4 696h0M1253.9 692.1h0M1257.4 685.9h0M1259.7 683.1h0M1261.9 680h0M1264.8 676.1h0M1267.8 672.2h0M1270.4 669.2h0M1272.2 667.7h0M1275 663.6h0M1277.6 661.8h0M1280.5 658.6h0M1283.2 656h0M1285.4 654.3h0M1288.3 651.3h0M1290.8 650h0M1293.8 646.6h0M1295.7 645.3h0M1298.1 644h0M1300.8 642.5h0M1303.7 641.4h0M1306.4 640.2h0M1309.1 639.1h0M1312 636.7h0M1313.9 636.2h0M1316.7 635.4h0M1319.8 633.6h0M1321.9 633.1h0M1324.1 631.9h0M1327.6 630.1h0M1329.9 628.6h0M1332.9 627h0M1335.1 627h0M1338 625.9h0M1340.3 624.2h0M1342.4 623.8h0M1345.6 622.3h0M1348 621.7h0M1350.1 621.4h0M1353.5 619.7h0M1355.4 619.1h0M1358.4 619.4h0M1361.2 618.2h0M1363.9 616.7h0M1366.6 616.1h0M1368.4 615.7h0M1371.1 615.2h0M1373.9 614.7h0M1376.5 613.5h0M1379.3 613h0M1382.3 612.5h0M1384.5 611.7h0M1387.2 611.7h0M1389.2 609.8h0M1392.1 610h0M1394.4 609.9h0M1397.1 609.5h0M1400.4 608.1h0M1402.5 607.2h0M1404.9 607.2h0M1408.2 606.8h0M1410.4 605.9h0M1413.2 605.6h0M1415.5 604.9h0M1418.4 604.4h0M1420.7 603.7h0M1423.5 604.3h0M1426.1 603.1h0M1428.2 603.8h0M1430.9 603.5h0M1434 602.6h0" fill="none" stroke="#f4149a" stroke-width="6" stroke-linecap="round"/>
<path d="M1122 933.2 L1123.6 933.3 L1125 933.4 L1126.1 933.4 L1127.7 933.3 L1129 933.1 L1130.7 933.6 L1131.8 933.6 L1133.1 933.2 L1135.1 933.2 L1136.2 933.7 L1137.3 933.5 L1139.1 933.3 L1140.2 933.4 L1141.7 933.1 L1143.1 933.3 L1144.7 933.5 L1146 933 L1147.2 933.4 L1148.8 933.1 L1150 933.6 L1151.9 933.1 L1153 933.1 L1154.4 933.2 L1155.7 933.2 L1156.9 933.3 L1158.8 933.5 L1160 933.1 L1161.6 933.2 L1163 933.4 L1163.9 933.1 L1165.7 933.4 L1166.7 933.1 L1168.5 932.5 L1169.8 931.6 L1171.2 931 L1172.7 930.4 L1174.1 928.9 L1175.3 929 L1176.5 928 L1178.4 926.5 L1179.8 927.3 L1180.8 926.5 L1182.4 926.3 L1183.7 925 L1185 924.6 L1186.4 923.7 L1187.9 922.4 L1189.7 921.9 L1190.6 921.8 L1192.1 919.9 L1193.3 918.5 L1195.1 916.2 L1196.2 914.3 L1197.9 912.5 L1199.3 910.3 L1200.6 907.5 L1202.1 904.5 L1203.7 901.3 L1205 898.4 L1206.2 896.9 L1207.9 892.8 L1208.7 890.5 L1210.5 885.7 L1211.9 882.5 L1214.4 876.7 L1217 869.8 L1219.7 863 L1222.3 854.8 L1225 845.9 L1227.2 837.5 L1229.8 827 L1232.7 819.7 L1235.1 811.5 L1237.7 803.2 L1240.2 794.4 L1242.8 786.3 L1245.5 778.5 L1248.2 771.1 L1250.9 763 L1253.6 755.5 L1256.3 750 L1258.6 744.9 L1261.1 737.9 L1263.7 733.3 L1266.6 727.9 L1269.2 723.5 L1271.8 719.5 L1273.9 715.8 L1276.9 711.2 L1279.7 707.4 L1281.8 703.3 L1284.9 698.4 L1287.1 695.4 L1289.9 690.8 L1292.2 687.9 L1295.3 684 L1297.7 680.3 L1300.5 677 L1303 674.1 L1305.4 671.7 L1308.3 667.1 L1310.7 665.3 L1313.1 662.8 L1315.6 659.5 L1318.5 656.9 L1321.2 653.9 L1323.8 652.9 L1326.3 650.6 L1328.6 649.4 L1331.3 647 L1334.1 646.2 L1336.4 644.2 L1339.1 642.9 L1341.5 641.9 L1344.6 639.9 L1347.3 638 L1349.5 637.3 L1352.2 636.2 L1354.9 634.6 L1357.5 633.4 L1360.1 632 L1362.6 630.8 L1365.3 629.6 L1367.6 628.2 L1370.7 627.3 L1372.7 626.4 L1375.4 624.7 L1378.4 623.3 L1380.9 622.4 L1383.5 621.3 L1386 620.8 L1388.8 620.1 L1391.3 619.2 L1393.6 618.7 L1396.6 617 L1398.9 617.2 L1401.8 615.9 L1404.1 615.4 L1407.1 614.4 L1409.2 613.8 L1412.1 613.3 L1414.4 612.5 L1417 611.9 L1419.9 610.9 L1422.5 611.5 L1424.8 611.2 L1427.6 610.1 L1430.1 608.9 L1432.6 609.1" fill="none" stroke="#10c0f8" stroke-width="0.8" stroke-opacity="0.6" clip-path="url(#lc6)"/>
<path d="M1122 933.2h0M1123.6 933.3h0M1125 933.4h0M1126.1 933.4h0M1127.7 933.3h0M1129 933.1h0M1130.7 933.6h0M1131.8 933.6h0M1133.1 933.2h0M1135.1 933.2h0M1136.2 933.7h0M1137.3 933.5h0M1139.1 933.3h0M1140.2 933.4h0M1141.7 933.1h0M1143.1 933.3h0M1144.7 933.5h0M1146 933h0M1147.2 933.4h0M1148.8 933.1h0M1150 933.6h0M1151.9 933.1h0M1153 933.1h0M1154.4 933.2h0M1155.7 933.2h0M1156.9 933.3h0M1158.8 933.5h0M1160 933.1h0M1161.6 933.2h0M1163 933.4h0M1163.9 933.1h0M1165.7 933.4h0M1166.7 933.1h0M1168.5 932.5h0M1169.8 931.6h0M1171.2 931h0M1172.7 930.4h0M1174.1 928.9h0M1175.3 929h0M1176.5 928h0M1178.4 926.5h0M1179.8 927.3h0M1180.8 926.5h0M1182.4 926.3h0M1183.7 925h0M1185 924.6h0M1186.4 923.7h0M1187.9 922.4h0M1189.7 921.9h0M1190.6 921.8h0M1192.1 919.9h0M1193.3 918.5h0M1195.1 916.2h0M1196.2 914.3h0M1197.9 912.5h0M1199.3 910.3h0M1200.6 907.5h0M1202.1 904.5h0M1203.7 901.3h0M1205 898.4h0M1206.2 896.9h0M1207.9 892.8h0M1208.7 890.5h0M1210.5 885.7h0M1211.9 882.5h0M1214.4 876.7h0M1217 869.8h0M1219.7 863h0M1222.3 854.8h0M1225 845.9h0M1227.2 837.5h0M1229.8 827h0M1232.7 819.7h0M1235.1 811.5h0M1237.7 803.2h0M1240.2 794.4h0M1242.8 786.3h0M1245.5 778.5h0M1248.2 771.1h0M1250.9 763h0M1253.6 755.5h0M1256.3 750h0M1258.6 744.9h0M1261.1 737.9h0M1263.7 733.3h0M1266.6 727.9h0M1269.2 723.5h0M1271.8 719.5h0M1273.9 715.8h0M1276.9 711.2h0M1279.7 707.4h0M1281.8 703.3h0M1284.9 698.4h0M1287.1 695.4h0M1289.9 690.8h0M1292.2 687.9h0M1295.3 684h0M1297.7 680.3h0M1300.5 677h0M1303 674.1h0M1305.4 671.7h0M1308.3 667.1h0M1310.7 665.3h0M1313.1 662.8h0M1315.6 659.5h0M1318.5 656.9h0M1321.2 653.9h0M1323.8 652.9h0M1326.3 650.6h0M1328.6 649.4h0M1331.3 647h0M1334.1 646.2h0M1336.4 644.2h0M1339.1 642.9h0M1341.5 641.9h0M1344.6 639.9h0M1347.3 638h0M1349.5 637.3h0M1352.2 636.2h0M1354.9 634.6h0M1357.5 633.4h0M1360.1 632h0M1362.6 630.8h0M1365.3 629.6h0M1367.6 628.2h0M1370.7 627.3h0M1372.7 626.4h0M1375.4 624.7h0M1378.4 623.3h0M1380.9 622.4h0M1383.5 621.3h0M1386 620.8h0M1388.8 620.1h0M1391.3 619.2h0M1393.6 618.7h0M1396.6 617h0M1398.9 617.2h0M1401.8 615.9h0M1404.1 615.4h0M1407.1 614.4h0M1409.2 613.8h0M1412.1 613.3h0M1414.4 612.5h0M1417 611.9h0M1419.9 610.9h0M1422.5 611.5h0M1424.8 611.2h0M1427.6 610.1h0M1430.1 608.9h0M1432.6 609.1h0" fill="none" stroke="#10c0f8" stroke-width="6" stroke-linecap="round"/>
<path d="M1122.1 933.5 L1123.6 933.3 L1124.8 933.7 L1126.1 933.3 L1128 933.2 L1129.3 933.3 L1130.7 933.2 L1132 933.3 L1133.1 933.2 L1134.7 933.1 L1136.5 933.5 L1137.3 933.3 L1139.2 933.3 L1140.6 933 L1141.5 933.5 L1143.3 933 L1144.6 933.3 L1146.1 933.3 L1147.4 933 L1148.7 933.6 L1150.1 933.2 L1151.6 933.2 L1152.9 933.3 L1154.6 933.4 L1155.8 933.4 L1157 933.2 L1158.4 933.3 L1159.7 933.3 L1161.5 933.4 L1162.7 933.5 L1164 933.3 L1165.8 933.3 L1167 933.5 L1168.1 933.3 L1169.8 933.3 L1171 933.5 L1172.7 933.3 L1173.8 933.3 L1175.4 933.2 L1177 933.2 L1178.4 933.3 L1179.3 933.4 L1181.3 933 L1182.5 932.9 L1183.9 932.7 L1185.3 932.4 L1186.8 931.6 L1187.8 930.8 L1189.6 930.6 L1191 929.9 L1192.4 929.6 L1193.3 928.8 L1194.9 928.7 L1196.4 928.2 L1197.8 927.7 L1199.2 926.9 L1200.4 926.5 L1202.3 925.6 L1203.1 926.6 L1204.8 925 L1206.2 925.5 L1207.9 922.9 L1208.8 923.1 L1210.1 923 L1212 920.6 L1212.9 920 L1214.8 919.1 L1216.2 917.8 L1217.6 916.1 L1219 913.9 L1220.1 912.9 L1221.4 911.9 L1222.9 909.3 L1224.5 906.2 L1225.5 904 L1227.3 900.8 L1228.8 898.6 L1230.1 895.5 L1231.6 890.9 L1232.7 888.6 L1234 886 L1236.6 880.1 L1239.5 873.5 L1241.7 871 L1244.6 864.8 L1247.2 856.2 L1249.9 847.8 L1252.2 842.5 L1255 834.2 L1257.9 823.3 L1260.2 816 L1262.8 807.6 L1265.7 800.1 L1268.2 791.5 L1270.6 784.2 L1272.9 779.7 L1276 771.7 L1278.5 765.3 L1281.1 758.6 L1283.8 753.5 L1286.3 750.4 L1288.7 746.3 L1291.4 740.7 L1294.2 733.8 L1296.8 730 L1299.1 726 L1301.6 721.9 L1304.4 716.4 L1307 708.9 L1309.8 703.7 L1312.2 700.4 L1314.8 697.4 L1317.3 694.3 L1320.2 691 L1322.9 687.6 L1325 684.7 L1327.9 681.1 L1330.2 676.9 L1332.9 674.2 L1335.9 670.5 L1338.2 669.5 L1340.8 665.8 L1343.5 663.9 L1346.1 662.1 L1348.3 659.1 L1351.4 656.5 L1353.6 655.6 L1356.6 652.7 L1359.1 651.9 L1361.6 649 L1364.5 647 L1366.7 645.5 L1369.6 644.1 L1372.1 641.5 L1374.4 641.1 L1377.5 639.5 L1379.9 637.2 L1382.4 636.5 L1384.8 635.3 L1387.6 635 L1390 633.3 L1392.9 632.1 L1395.3 631 L1397.8 630.8 L1400.5 629.6 L1403 627.7 L1406 627.6 L1408.6 626.7 L1410.8 625.4 L1413.8 624.6 L1415.9 623.7 L1418.6 621.7 L1421.5 621.2 L1424.1 620.9 L1426.6 620.2 L1429.1 619.5 L1431.7 618.9 L1434.6 618.6" fill="none" stroke="#ff9020" stroke-width="0.8" stroke-opacity="0.6" clip-path="url(#lc6)"/>
<path d="M1122.1 933.5h0M1123.6 933.3h0M1124.8 933.7h0M1126.1 933.3h0M1128 933.2h0M1129.3 933.3h0M1130.7 933.2h0M1132 933.3h0M1133.1 933.2h0M1134.7 933.1h0M1136.5 933.5h0M1137.3 933.3h0M1139.2 933.3h0M1140.6 933h0M1141.5 933.5h0M1143.3 933h0M1144.6 933.3h0M1146.1 933.3h0M1147.4 933h0M1148.7 933.6h0M1150.1 933.2h0M1151.6 933.2h0M1152.9 933.3h0M1154.6 933.4h0M1155.8 933.4h0M1157 933.2h0M1158.4 933.3h0M1159.7 933.3h0M1161.5 933.4h0M1162.7 933.5h0M1164 933.3h0M1165.8 933.3h0M1167 933.5h0M1168.1 933.3h0M1169.8 933.3h0M1171 933.5h0M1172.7 933.3h0M1173.8 933.3h0M1175.4 933.2h0M1177 933.2h0M1178.4 933.3h0M1179.3 933.4h0M1181.3 933h0M1182.5 932.9h0M1183.9 932.7h0M1185.3 932.4h0M1186.8 931.6h0M1187.8 930.8h0M1189.6 930.6h0M1191 929.9h0M1192.4 929.6h0M1193.3 928.8h0M1194.9 928.7h0M1196.4 928.2h0M1197.8 927.7h0M1199.2 926.9h0M1200.4 926.5h0M1202.3 925.6h0M1203.1 926.6h0M1204.8 925h0M1206.2 925.5h0M1207.9 922.9h0M1208.8 923.1h0M1210.1 923h0M1212 920.6h0M1212.9 920h0M1214.8 919.1h0M1216.2 917.8h0M1217.6 916.1h0M1219 913.9h0M1220.1 912.9h0M1221.4 911.9h0M1222.9 909.3h0M1224.5 906.2h0M1225.5 904h0M1227.3 900.8h0M1228.8 898.6h0M1230.1 895.5h0M1231.6 890.9h0M1232.7 888.6h0M1234 886h0M1236.6 880.1h0M1239.5 873.5h0M1241.7 871h0M1244.6 864.8h0M1247.2 856.2h0M1249.9 847.8h0M1252.2 842.5h0M1255 834.2h0M1257.9 823.3h0M1260.2 816h0M1262.8 807.6h0M1265.7 800.1h0M1268.2 791.5h0M1270.6 784.2h0M1272.9 779.7h0M1276 771.7h0M1278.5 765.3h0M1281.1 758.6h0M1283.8 753.5h0M1286.3 750.4h0M1288.7 746.3h0M1291.4 740.7h0M1294.2 733.8h0M1296.8 730h0M1299.1 726h0M1301.6 721.9h0M1304.4 716.4h0M1307 708.9h0M1309.8 703.7h0M1312.2 700.4h0M1314.8 697.4h0M1317.3 694.3h0M1320.2 691h0M1322.9 687.6h0M1325 684.7h0M1327.9 681.1h0M1330.2 676.9h0M1332.9 674.2h0M1335.9 670.5h0M1338.2 669.5h0M1340.8 665.8h0M1343.5 663.9h0M1346.1 662.1h0M1348.3 659.1h0M1351.4 656.5h0M1353.6 655.6h0M1356.6 652.7h0M1359.1 651.9h0M1361.6 649h0M1364.5 647h0M1366.7 645.5h0M1369.6 644.1h0M1372.1 641.5h0M1374.4 641.1h0M1377.5 639.5h0M1379.9 637.2h0M1382.4 636.5h0M1384.8 635.3h0M1387.6 635h0M1390 633.3h0M1392.9 632.1h0M1395.3 631h0M1397.8 630.8h0M1400.5 629.6h0M1403 627.7h0M1406 627.6h0M1408.6 626.7h0M1410.8 625.4h0M1413.8 624.6h0M1415.9 623.7h0M1418.6 621.7h0M1421.5 621.2h0M1424.1 620.9h0M1426.6 620.2h0M1429.1 619.5h0M1431.7 618.9h0M1434.6 618.6h0" fill="none" stroke="#ff9020" stroke-width="6" stroke-linecap="round"/>
<path d="M1122.4 933.3 L1123.6 933.3 L1125.4 933.2 L1126.1 933.4 L1128.2 932.9 L1129.5 933.4 L1130.8 933.2 L1132.5 933.4 L1133.2 933.3 L1134.3 933.4 L1136.3 933.6 L1137.9 933.5 L1139.2 933 L1139.9 933.4 L1141.4 933.1 L1143 933 L1144.8 933.3 L1146.4 933.2 L1147.1 933.3 L1149 933.4 L1150.4 933.1 L1151.5 933.3 L1153.3 933.2 L1154.7 933 L1155.5 933.4 L1157.6 933.1 L1158.6 933.5 L1160.2 933.4 L1161.1 933.6 L1163.1 933.3 L1164 933.5 L1165.4 933.4 L1166.8 933.4 L1168.7 933.3 L1169.9 933.1 L1170.9 933.3 L1172.8 933.5 L1174.1 933.2 L1175.4 933.3 L1176.9 933.2 L1177.7 933.2 L1179.8 933.2 L1181 932.9 L1182 933.5 L1183.3 933.3 L1185 933.3 L1187.1 933.3 L1187.7 933.3 L1189 933.4 L1190.3 933.4 L1192 933.4 L1193.9 933.3 L1194.7 933.4 L1196.8 933.1 L1198.3 933.8 L1198.7 933.2 L1200.9 933.1 L1202.2 932.8 L1203.4 932.6 L1204.6 931.8 L1206.4 931.9 L1207.9 931.4 L1209 930.9 L1210.9 929.6 L1211.8 928.9 L1213.4 929.7 L1214.5 929.6 L1215.8 928.3 L1217.8 928.2 L1219 928.2 L1220.4 928.1 L1221.1 927 L1223.4 926.3 L1224.3 926.2 L1225.8 926.3 L1226.8 926.4 L1228.5 925.7 L1229.8 925.1 L1231 924.1 L1233.1 923.2 L1234.2 922.5 L1236 921.1 L1237.3 920.7 L1238.5 920.2 L1239.4 919.1 L1241.5 917.5 L1242.5 916.1 L1244 914.4 L1245 913.8 L1246.5 912.6 L1248.1 911.6 L1249.5 909.1 L1250.5 907.8 L1252.1 905.3 L1253.5 902.2 L1255.1 899.5 L1256.9 897.4 L1258.3 893.6 L1259.7 891 L1260.5 889.1 L1262.4 883.8 L1264.8 878.1 L1267.4 872.1 L1270.1 865.6 L1272.6 858.5 L1275.2 854.7 L1278.2 849.8 L1280.4 845.2 L1283.1 837 L1285.7 830.8 L1288 825.9 L1291.1 815 L1293.4 805.9 L1295.8 799.3 L1299 792.4 L1300.7 788.9 L1303.6 785.4 L1306.9 780.5 L1309 776.1 L1311.7 770.1 L1313.7 766.2 L1317.2 758.1 L1319 754.2 L1322.1 749 L1325 743.2 L1326.9 738.5 L1329.7 733.4 L1332.4 728.3 L1335 722.2 L1337.8 716.3 L1340.3 711.7 L1342.8 707 L1345.3 703.2 L1347.8 698.5 L1350.1 695.3 L1353.5 690.6 L1356 687.3 L1358.1 685.1 L1361.2 681.8 L1363.9 679.1 L1366.2 675.4 L1369.1 672 L1371.2 669.2 L1373.6 666.7 L1376.9 663.2 L1379.6 660.3 L1382.1 658.2 L1384.4 656.7 L1386.9 654.3 L1389.4 652.9 L1392.2 650 L1395.3 648.6 L1397.8 646.8 L1400.4 646.7 L1402.4 644.4 L1405.5 643.6 L1407.7 641.8 L1409.9 641 L1412.6 639.8 L1415.8 638.4 L1418.4 637.8 L1420.7 635.4 L1423.2 635.2 L1426.1 633.4 L1429 632.3 L1431.5 631.2 L1434.3 630.6" fill="none" stroke="#9a1fe0" stroke-width="0.8" stroke-opacity="0.6" clip-path="url(#lc6)"/>
<path d="M1122.4 933.3h0M1123.6 933.3h0M1125.4 933.2h0M1126.1 933.4h0M1128.2 932.9h0M1129.5 933.4h0M1130.8 933.2h0M1132.5 933.4h0M1133.2 933.3h0M1134.3 933.4h0M1136.3 933.6h0M1137.9 933.5h0M1139.2 933h0M1139.9 933.4h0M1141.4 933.1h0M1143 933h0M1144.8 933.3h0M1146.4 933.2h0M1147.1 933.3h0M1149 933.4h0M1150.4 933.1h0M1151.5 933.3h0M1153.3 933.2h0M1154.7 933h0M1155.5 933.4h0M1157.6 933.1h0M1158.6 933.5h0M1160.2 933.4h0M1161.1 933.6h0M1163.1 933.3h0M1164 933.5h0M1165.4 933.4h0M1166.8 933.4h0M1168.7 933.3h0M1169.9 933.1h0M1170.9 933.3h0M1172.8 933.5h0M1174.1 933.2h0M1175.4 933.3h0M1176.9 933.2h0M1177.7 933.2h0M1179.8 933.2h0M1181 932.9h0M1182 933.5h0M1183.3 933.3h0M1185 933.3h0M1187.1 933.3h0M1187.7 933.3h0M1189 933.4h0M1190.3 933.4h0M1192 933.4h0M1193.9 933.3h0M1194.7 933.4h0M1196.8 933.1h0M1198.3 933.8h0M1198.7 933.2h0M1200.9 933.1h0M1202.2 932.8h0M1203.4 932.6h0M1204.6 931.8h0M1206.4 931.9h0M1207.9 931.4h0M1209 930.9h0M1210.9 929.6h0M1211.8 928.9h0M1213.4 929.7h0M1214.5 929.6h0M1215.8 928.3h0M1217.8 928.2h0M1219 928.2h0M1220.4 928.1h0M1221.1 927h0M1223.4 926.3h0M1224.3 926.2h0M1225.8 926.3h0M1226.8 926.4h0M1228.5 925.7h0M1229.8 925.1h0M1231 924.1h0M1233.1 923.2h0M1234.2 922.5h0M1236 921.1h0M1237.3 920.7h0M1238.5 920.2h0M1239.4 919.1h0M1241.5 917.5h0M1242.5 916.1h0M1244 914.4h0M1245 913.8h0M1246.5 912.6h0M1248.1 911.6h0M1249.5 909.1h0M1250.5 907.8h0M1252.1 905.3h0M1253.5 902.2h0M1255.1 899.5h0M1256.9 897.4h0M1258.3 893.6h0M1259.7 891h0M1260.5 889.1h0M1262.4 883.8h0M1264.8 878.1h0M1267.4 872.1h0M1270.1 865.6h0M1272.6 858.5h0M1275.2 854.7h0M1278.2 849.8h0M1280.4 845.2h0M1283.1 837h0M1285.7 830.8h0M1288 825.9h0M1291.1 815h0M1293.4 805.9h0M1295.8 799.3h0M1299 792.4h0M1300.7 788.9h0M1303.6 785.4h0M1306.9 780.5h0M1309 776.1h0M1311.7 770.1h0M1313.7 766.2h0M1317.2 758.1h0M1319 754.2h0M1322.1 749h0M1325 743.2h0M1326.9 738.5h0M1329.7 733.4h0M1332.4 728.3h0M1335 722.2h0M1337.8 716.3h0M1340.3 711.7h0M1342.8 707h0M1345.3 703.2h0M1347.8 698.5h0M1350.1 695.3h0M1353.5 690.6h0M1356 687.3h0M1358.1 685.1h0M1361.2 681.8h0M1363.9 679.1h0M1366.2 675.4h0M1369.1 672h0M1371.2 669.2h0M1373.6 666.7h0M1376.9 663.2h0M1379.6 660.3h0M1382.1 658.2h0M1384.4 656.7h0M1386.9 654.3h0M1389.4 652.9h0M1392.2 650h0M1395.3 648.6h0M1397.8 646.8h0M1400.4 646.7h0M1402.4 644.4h0M1405.5 643.6h0M1407.7 641.8h0M1409.9 641h0M1412.6 639.8h0M1415.8 638.4h0M1418.4 637.8h0M1420.7 635.4h0M1423.2 635.2h0M1426.1 633.4h0M1429 632.3h0M1431.5 631.2h0M1434.3 630.6h0" fill="none" stroke="#9a1fe0" stroke-width="6" stroke-linecap="round"/>
<path d="M1121.7 933.2 L1123.9 933.4 L1124.7 933.2 L1126 933.3 L1127.6 933.2 L1128.7 932.9 L1130.8 933.2 L1132.4 933.4 L1134 933 L1135 933.2 L1135.9 933.2 L1137.7 933.1 L1139.1 933.4 L1140.1 933.1 L1141.3 933.1 L1143.2 933.3 L1144.2 933.4 L1146 933.4 L1147.3 933.4 L1149 933.2 L1150 933.3 L1152.1 933.2 L1153.3 933.7 L1154.5 933.2 L1155.9 933.3 L1157.4 933.4 L1158.3 933.3 L1160.3 933.6 L1161.1 933 L1163.1 933.3 L1163.7 933.2 L1165.8 933.4 L1167.1 933.3 L1168.5 933.2 L1169.6 933.3 L1170.8 933.2 L1172.7 933.2 L1173.5 933.6 L1175.8 933.4 L1177.1 933.2 L1177.7 933.1 L1179.1 933.3 L1180.4 933.1 L1183 933.2 L1183.9 933.4 L1184.8 933.3 L1186.4 933.5 L1188.4 933.2 L1189.3 933.2 L1191.4 933.4 L1191.8 933.5 L1193.9 933.6 L1195.5 933.5 L1196.9 933.1 L1198.3 933.4 L1199.4 933.3 L1201.1 933.4 L1202 933.5 L1203.3 933.4 L1204.2 933.4 L1206.6 933.4 L1207.2 933.4 L1209.3 933.2 L1211 933.5 L1212.3 933.2 L1213.6 933.2 L1214.7 933.4 L1215.8 933.4 L1217 933.1 L1218.7 933.3 L1220.5 933 L1221.5 933.3 L1222.6 933.4 L1224 933.5 L1226.4 933.1 L1226.9 933.3 L1229.1 933 L1229.6 932.7 L1231.9 932.1 L1232.7 932.5 L1234.4 931.9 L1235.9 930.8 L1236.9 931 L1238.9 929.9 L1239.3 931.3 L1241.2 929.7 L1242.3 928.8 L1243.8 929 L1245.7 929.4 L1246.6 928.8 L1248.4 928.8 L1250.2 928.2 L1250.9 928.4 L1251.9 927.7 L1253.3 928.2 L1254.8 927.9 L1256.3 927 L1257.9 926.1 L1259.8 924.8 L1260.3 925.1 L1262.6 924.3 L1264 924.3 L1264.8 923 L1266.6 923 L1268.4 921.1 L1269.8 920.2 L1270.8 919.4 L1272.5 918.6 L1273.2 918 L1275 916.8 L1275.8 916.4 L1277.4 914.5 L1279.6 913 L1280.7 911.6 L1282.2 909.9 L1282.8 909 L1284 908 L1286.4 904.2 L1287.7 902.1 L1289.2 900.3 L1290.6 897.5 L1292 895.6 L1293 894.3 L1293.9 890.3 L1295.6 888.4 L1297.4 885.3 L1298.7 882.4 L1300.7 878.4 L1302.9 874.5 L1306.3 866.9 L1308 864.1 L1310.4 859 L1312.5 853.7 L1314.8 848.1 L1317.4 842.1 L1319.7 836.1 L1322.2 830 L1324.6 822.6 L1327.2 813.8 L1329.9 807.1 L1332 801.3 L1334.4 797 L1337.1 791.6 L1338.9 788.6 L1341.9 784.1 L1344 779.5 L1346.3 775.1 L1349 768.7 L1351.5 764.2 L1353.9 758.7 L1356.3 753.6 L1358.1 749.7 L1361.1 744 L1363.3 740 L1365.4 736.6 L1368.1 731.9 L1370.2 727.9 L1373 723.5 L1374.9 720.5 L1377.3 717.8 L1380.4 712.6 L1382.1 710.8 L1385.1 707.2 L1387.7 704.1 L1390.2 700.6 L1392.2 698.4 L1394.1 696 L1396.7 692.4 L1399.1 687.5 L1402.2 682.8 L1404.5 679 L1406.3 677.8 L1409.4 674.1 L1411.1 673.6 L1413.3 671.7 L1416.2 667.7 L1418.6 666 L1421.5 664.3 L1423.2 662.7 L1426.2 660.6 L1427.7 659.9 L1430.1 658.8 L1433.3 655.7" fill="none" stroke="#c09a10" stroke-width="0.8" stroke-opacity="0.6" clip-path="url(#lc6)"/>
<path d="M1121.7 933.2h0M1123.9 933.4h0M1124.7 933.2h0M1126 933.3h0M1127.6 933.2h0M1128.7 932.9h0M1130.8 933.2h0M1132.4 933.4h0M1134 933h0M1135 933.2h0M1135.9 933.2h0M1137.7 933.1h0M1139.1 933.4h0M1140.1 933.1h0M1141.3 933.1h0M1143.2 933.3h0M1144.2 933.4h0M1146 933.4h0M1147.3 933.4h0M1149 933.2h0M1150 933.3h0M1152.1 933.2h0M1153.3 933.7h0M1154.5 933.2h0M1155.9 933.3h0M1157.4 933.4h0M1158.3 933.3h0M1160.3 933.6h0M1161.1 933h0M1163.1 933.3h0M1163.7 933.2h0M1165.8 933.4h0M1167.1 933.3h0M1168.5 933.2h0M1169.6 933.3h0M1170.8 933.2h0M1172.7 933.2h0M1173.5 933.6h0M1175.8 933.4h0M1177.1 933.2h0M1177.7 933.1h0M1179.1 933.3h0M1180.4 933.1h0M1183 933.2h0M1183.9 933.4h0M1184.8 933.3h0M1186.4 933.5h0M1188.4 933.2h0M1189.3 933.2h0M1191.4 933.4h0M1191.8 933.5h0M1193.9 933.6h0M1195.5 933.5h0M1196.9 933.1h0M1198.3 933.4h0M1199.4 933.3h0M1201.1 933.4h0M1202 933.5h0M1203.3 933.4h0M1204.2 933.4h0M1206.6 933.4h0M1207.2 933.4h0M1209.3 933.2h0M1211 933.5h0M1212.3 933.2h0M1213.6 933.2h0M1214.7 933.4h0M1215.8 933.4h0M1217 933.1h0M1218.7 933.3h0M1220.5 933h0M1221.5 933.3h0M1222.6 933.4h0M1224 933.5h0M1226.4 933.1h0M1226.9 933.3h0M1229.1 933h0M1229.6 932.7h0M1231.9 932.1h0M1232.7 932.5h0M1234.4 931.9h0M1235.9 930.8h0M1236.9 931h0M1238.9 929.9h0M1239.3 931.3h0M1241.2 929.7h0M1242.3 928.8h0M1243.8 929h0M1245.7 929.4h0M1246.6 928.8h0M1248.4 928.8h0M1250.2 928.2h0M1250.9 928.4h0M1251.9 927.7h0M1253.3 928.2h0M1254.8 927.9h0M1256.3 927h0M1257.9 926.1h0M1259.8 924.8h0M1260.3 925.1h0M1262.6 924.3h0M1264 924.3h0M1264.8 923h0M1266.6 923h0M1268.4 921.1h0M1269.8 920.2h0M1270.8 919.4h0M1272.5 918.6h0M1273.2 918h0M1275 916.8h0M1275.8 916.4h0M1277.4 914.5h0M1279.6 913h0M1280.7 911.6h0M1282.2 909.9h0M1282.8 909h0M1284 908h0M1286.4 904.2h0M1287.7 902.1h0M1289.2 900.3h0M1290.6 897.5h0M1292 895.6h0M1293 894.3h0M1293.9 890.3h0M1295.6 888.4h0M1297.4 885.3h0M1298.7 882.4h0M1300.7 878.4h0M1302.9 874.5h0M1306.3 866.9h0M1308 864.1h0M1310.4 859h0M1312.5 853.7h0M1314.8 848.1h0M1317.4 842.1h0M1319.7 836.1h0M1322.2 830h0M1324.6 822.6h0M1327.2 813.8h0M1329.9 807.1h0M1332 801.3h0M1334.4 797h0M1337.1 791.6h0M1338.9 788.6h0M1341.9 784.1h0M1344 779.5h0M1346.3 775.1h0M1349 768.7h0M1351.5 764.2h0M1353.9 758.7h0M1356.3 753.6h0M1358.1 749.7h0M1361.1 744h0M1363.3 740h0M1365.4 736.6h0M1368.1 731.9h0M1370.2 727.9h0M1373 723.5h0M1374.9 720.5h0M1377.3 717.8h0M1380.4 712.6h0M1382.1 710.8h0M1385.1 707.2h0M1387.7 704.1h0M1390.2 700.6h0M1392.2 698.4h0M1394.1 696h0M1396.7 692.4h0M1399.1 687.5h0M1402.2 682.8h0M1404.5 679h0M1406.3 677.8h0M1409.4 674.1h0M1411.1 673.6h0M1413.3 671.7h0M1416.2 667.7h0M1418.6 666h0M1421.5 664.3h0M1423.2 662.7h0M1426.2 660.6h0M1427.7 659.9h0M1430.1 658.8h0M1433.3 655.7h0" fill="none" stroke="#c09a10" stroke-width="6" stroke-linecap="round"/>
<path d="M1122.3 933.6 L1124.2 933.4 L1125.6 933.3 L1126.9 933.4 L1127.1 932.7 L1129.5 933.4 L1130.4 933.2 L1132 933.4 L1133.7 933.5 L1134.3 933.6 L1135.8 933.4 L1137.9 933.4 L1139.5 933.4 L1141 933.2 L1142.2 933.1 L1142.5 932.9 L1144 933.4 L1146.4 933.3 L1147 933.2 L1148.4 933.3 L1150.8 933.2 L1152.3 933.4 L1153.1 933.4 L1153.9 933.3 L1156.2 933.5 L1157.2 933.3 L1158.8 933.1 L1160.5 933.2 L1161.3 933.3 L1162.8 933.1 L1164.5 933.3 L1165.8 933.5 L1166.6 933.3 L1167.7 933.1 L1170.2 933.1 L1171.2 933 L1172.3 933.2 L1174 933.3 L1175 933.6 L1176.5 933.1 L1178.4 933.4 L1179.7 933.3 L1180.7 933.5 L1182.2 933.3 L1183.4 933.1 L1185.3 933.4 L1186.1 933.4 L1188.2 933.4 L1189.9 932.9 L1190.3 933.1 L1192.6 933.3 L1193.5 933.5 L1195.4 933 L1196.9 933.1 L1198.3 933.3 L1199.3 933.4 L1200.9 933.4 L1202.2 933.2 L1203.3 933.5 L1204.8 933.2 L1206.2 933.1 L1206.9 933.2 L1209.3 933.1 L1210.6 933.3 L1212.2 933.2 L1213.1 933.2 L1214.4 933.3 L1215.7 933.7 L1217.5 933.3 L1218.1 933.4 L1220.4 933.3 L1222.3 933.3 L1223.6 933.5 L1225 933.1 L1225.6 933.2 L1227.5 933.1 L1228.6 933.5 L1230.3 933.4 L1231 933.2 L1233 933.2 L1233.5 933.4 L1235.9 933.3 L1236.7 933.3 L1237.9 933.3 L1239.5 933.3 L1240.7 933.4 L1243.3 933.3 L1243.7 933.3 L1244.8 933.4 L1246.2 933.2 L1248.6 933.6 L1250.1 933.3 L1250.3 933.3 L1251.8 933.5 L1254.4 932.7 L1255.2 932.8 L1257.3 932.6 L1258.1 931.6 L1259.8 931.1 L1260.7 930.8 L1262.7 930.1 L1263.4 930.5 L1264.8 930.7 L1266.3 929 L1267.6 928.9 L1269.8 928.6 L1270.4 929.5 L1271.8 929 L1273.3 928.4 L1274.7 928.4 L1276.5 928.8 L1277.1 927.5 L1279.4 928.6 L1280 927.5 L1282.5 927.2 L1282.6 927.2 L1285.1 926.5 L1285.8 926.6 L1286.7 926.2 L1289.2 926.3 L1290.8 925.9 L1291 925.6 L1292.6 924.7 L1294.3 924.1 L1296.2 923.3 L1298 921.4 L1299.3 920.9 L1300.1 919.9 L1301.3 919.4 L1302.7 917.6 L1304.5 916.7 L1306 914.5 L1307.4 913 L1308.2 913.4 L1310.5 910.5 L1311.7 910.4 L1312.2 909.9 L1314.2 908.4 L1316 905.8 L1316 906.2 L1317.5 904.6 L1320.4 901.2 L1321.5 900 L1322.8 897.4 L1324.4 894.4 L1324.8 895.2 L1326 893.2 L1328.4 889.8 L1329.4 888.2 L1331.2 884.6 L1332.2 883.9 L1334 880.8 L1336.4 877.3 L1339.1 872.5 L1341.4 868.8 L1344 863.4 L1345.7 858.8 L1347.6 855.1 L1349.2 850.4 L1352 843.7 L1354.1 838 L1356 834.7 L1358.8 829.5 L1361.4 824.8 L1363.3 820.6 L1365.3 815.7 L1367.6 809.3 L1370.3 803.1 L1372.4 799.1 L1374.5 795.1 L1375.9 793.3 L1378 789.4 L1381.3 784.7 L1382.8 782.2 L1384.9 779.6 L1387.4 776.1 L1389.7 771.4 L1392 767.8 L1393.7 764.2 L1396.7 757.4 L1398.3 754.7 L1400.1 752.7 L1402.1 748.8 L1405.6 743.9 L1406.9 742.5 L1409.5 738.7 L1410.8 736.6 L1414 731.7 L1416.1 728.3 L1418.4 725.2 L1420.9 722.1 L1422.9 719.5 L1424.4 717.9 L1427.5 714.7 L1428.3 714.2 L1431.7 709.9 L1433.9 706.6" fill="none" stroke="#555555" stroke-width="0.8" stroke-opacity="0.6" clip-path="url(#lc6)"/>
<path d="M1122.3 933.6h0M1124.2 933.4h0M1125.6 933.3h0M1126.9 933.4h0M1127.1 932.7h0M1129.5 933.4h0M1130.4 933.2h0M1132 933.4h0M1133.7 933.5h0M1134.3 933.6h0M1135.8 933.4h0M1137.9 933.4h0M1139.5 933.4h0M1141 933.2h0M1142.2 933.1h0M1142.5 932.9h0M1144 933.4h0M1146.4 933.3h0M1147 933.2h0M1148.4 933.3h0M1150.8 933.2h0M1152.3 933.4h0M1153.1 933.4h0M1153.9 933.3h0M1156.2 933.5h0M1157.2 933.3h0M1158.8 933.1h0M1160.5 933.2h0M1161.3 933.3h0M1162.8 933.1h0M1164.5 933.3h0M1165.8 933.5h0M1166.6 933.3h0M1167.7 933.1h0M1170.2 933.1h0M1171.2 933h0M1172.3 933.2h0M1174 933.3h0M1175 933.6h0M1176.5 933.1h0M1178.4 933.4h0M1179.7 933.3h0M1180.7 933.5h0M1182.2 933.3h0M1183.4 933.1h0M1185.3 933.4h0M1186.1 933.4h0M1188.2 933.4h0M1189.9 932.9h0M1190.3 933.1h0M1192.6 933.3h0M1193.5 933.5h0M1195.4 933h0M1196.9 933.1h0M1198.3 933.3h0M1199.3 933.4h0M1200.9 933.4h0M1202.2 933.2h0M1203.3 933.5h0M1204.8 933.2h0M1206.2 933.1h0M1206.9 933.2h0M1209.3 933.1h0M1210.6 933.3h0M1212.2 933.2h0M1213.1 933.2h0M1214.4 933.3h0M1215.7 933.7h0M1217.5 933.3h0M1218.1 933.4h0M1220.4 933.3h0M1222.3 933.3h0M1223.6 933.5h0M1225 933.1h0M1225.6 933.2h0M1227.5 933.1h0M1228.6 933.5h0M1230.3 933.4h0M1231 933.2h0M1233 933.2h0M1233.5 933.4h0M1235.9 933.3h0M1236.7 933.3h0M1237.9 933.3h0M1239.5 933.3h0M1240.7 933.4h0M1243.3 933.3h0M1243.7 933.3h0M1244.8 933.4h0M1246.2 933.2h0M1248.6 933.6h0M1250.1 933.3h0M1250.3 933.3h0M1251.8 933.5h0M1254.4 932.7h0M1255.2 932.8h0M1257.3 932.6h0M1258.1 931.6h0M1259.8 931.1h0M1260.7 930.8h0M1262.7 930.1h0M1263.4 930.5h0M1264.8 930.7h0M1266.3 929h0M1267.6 928.9h0M1269.8 928.6h0M1270.4 929.5h0M1271.8 929h0M1273.3 928.4h0M1274.7 928.4h0M1276.5 928.8h0M1277.1 927.5h0M1279.4 928.6h0M1280 927.5h0M1282.5 927.2h0M1282.6 927.2h0M1285.1 926.5h0M1285.8 926.6h0M1286.7 926.2h0M1289.2 926.3h0M1290.8 925.9h0M1291 925.6h0M1292.6 924.7h0M1294.3 924.1h0M1296.2 923.3h0M1298 921.4h0M1299.3 920.9h0M1300.1 919.9h0M1301.3 919.4h0M1302.7 917.6h0M1304.5 916.7h0M1306 914.5h0M1307.4 913h0M1308.2 913.4h0M1310.5 910.5h0M1311.7 910.4h0M1312.2 909.9h0M1314.2 908.4h0M1316 905.8h0M1316 906.2h0M1317.5 904.6h0M1320.4 901.2h0M1321.5 900h0M1322.8 897.4h0M1324.4 894.4h0M1324.8 895.2h0M1326 893.2h0M1328.4 889.8h0M1329.4 888.2h0M1331.2 884.6h0M1332.2 883.9h0M1334 880.8h0M1336.4 877.3h0M1339.1 872.5h0M1341.4 868.8h0M1344 863.4h0M1345.7 858.8h0M1347.6 855.1h0M1349.2 850.4h0M1352 843.7h0M1354.1 838h0M1356 834.7h0M1358.8 829.5h0M1361.4 824.8h0M1363.3 820.6h0M1365.3 815.7h0M1367.6 809.3h0M1370.3 803.1h0M1372.4 799.1h0M1374.5 795.1h0M1375.9 793.3h0M1378 789.4h0M1381.3 784.7h0M1382.8 782.2h0M1384.9 779.6h0M1387.4 776.1h0M1389.7 771.4h0M1392 767.8h0M1393.7 764.2h0M1396.7 757.4h0M1398.3 754.7h0M1400.1 752.7h0M1402.1 748.8h0M1405.6 743.9h0M1406.9 742.5h0M1409.5 738.7h0M1410.8 736.6h0M1414 731.7h0M1416.1 728.3h0M1418.4 725.2h0M1420.9 722.1h0M1422.9 719.5h0M1424.4 717.9h0M1427.5 714.7h0M1428.3 714.2h0M1431.7 709.9h0M1433.9 706.6h0" fill="none" stroke="#555555" stroke-width="6" stroke-linecap="round"/>
<path d="M1121.7 933.3 L1123.6 933.4 L1125.6 933.6 L1126.5 933.1 L1128.3 933.5 L1129.8 933 L1131.6 933.1 L1133.6 933.3 L1134.8 933.2 L1136.7 933.5 L1137.8 933.1 L1140.2 933.3 L1141 933.2 L1142.7 933.3 L1144.6 933.4 L1146.6 933.4 L1148.1 933.4 L1149.9 933.4 L1151.3 933.3 L1152.5 933.1 L1154.1 933 L1156 933.4 L1157.2 933.1 L1159.4 933.2 L1161 933.3 L1162.5 933.2 L1163.8 933.2 L1165.1 933.2 L1166.8 933.3 L1168.4 933.5 L1170 933 L1171.8 933.3 L1173.4 933.5 L1174.7 933.3 L1176.9 933.2 L1178.4 933.3 L1180.1 933.4 L1181.2 933.5 L1183.1 933 L1184.8 933.2 L1186.1 933.3 L1187.7 933.4 L1189.7 933.3 L1191.1 933.4 L1193 933.4 L1194.2 933.4 L1196.1 933.7 L1197.8 933.2 L1199.3 933.2 L1201 933.1 L1202.4 933.4 L1203.8 933.3 L1205.2 933.3 L1207.3 933.1 L1208.2 933.6 L1210.1 933.4 L1211.5 933.4 L1213.5 933.1 L1215.4 933.4 L1216.4 933.4 L1218.5 933.6 L1220.1 933.4 L1221.6 933.5 L1222.7 933.1 L1224.9 933.3 L1226.2 933.3 L1228 933.3 L1229.4 933.3 L1231.4 933.3 L1232.8 933.5 L1233.9 933.2 L1235.5 933.4 L1237.7 933.4 L1238.9 933.2 L1240.5 933.3 L1241.7 932.9 L1243.9 933.2 L1245.7 933.5 L1247.4 933.2 L1248.3 933 L1250.6 933.5 L1251.5 933.1 L1253.3 933.5 L1254.9 933.3 L1256.7 933.1 L1258.2 933.2 L1259.8 933.5 L1261.4 933.3 L1263.4 933.3 L1264.3 933.3 L1265.9 933.3 L1268.1 933.2 L1269.2 933.4 L1271.2 933.5 L1273 933.3 L1273.8 933.5 L1276.1 933.5 L1276.9 933.1 L1279 933.4 L1280.5 933.5 L1282.4 933 L1284.1 933.2 L1284.9 933.4 L1286.6 933.2 L1288.7 933.3 L1290.4 933.2 L1291.5 933.1 L1293.5 933.3 L1294.7 933.2 L1296.6 933.3 L1298.7 933.3 L1300.1 933.2 L1301.6 933.2 L1303 933.2 L1305 933.4 L1306.4 933.1 L1307.3 933.5 L1309.6 932.8 L1311.1 932.9 L1312.6 930.9 L1314.1 929.7 L1315.7 928.7 L1317.2 928.5 L1319.3 927.9 L1320.8 927 L1321.9 927.3 L1324.1 927.1 L1325.7 926.7 L1327.2 926.9 L1328.3 925 L1330 925.6 L1331.6 925 L1333.8 924.7 L1335.4 924.6 L1336.7 922.5 L1337.8 922.1 L1339.4 921.5 L1341.3 920.9 L1342.6 920 L1344.6 917.6 L1346 917.2 L1347.4 915.4 L1349.1 914.2 L1350.8 912.1 L1352.8 910.4 L1354 909.1 L1355.8 907 L1357.2 905.7 L1358.6 905 L1360.2 902.8 L1362 900.7 L1363.5 898.9 L1365 896.9 L1367.3 892.7 L1368.6 889.6 L1370 887.3 L1372.1 884 L1373.2 881.7 L1374.7 880.1 L1376.4 876.7 L1378.4 872.2 L1379.6 870.1 L1381.2 865.8 L1383.4 861.4 L1384.6 858.1 L1386.4 855.3 L1388.2 852.2 L1389.2 849.5 L1391 845.3 L1392.2 842 L1394.7 836.4 L1396.1 833.5 L1397.6 831.1 L1398.7 828.5 L1401.1 822.9 L1401.7 822.5 L1403.7 817.6 L1405.8 814.4 L1406.8 812.2 L1408.9 808 L1410.7 804.2 L1412 802.8 L1413.2 800.3 L1415.5 796.5 L1416.5 795 L1418.7 790.7 L1419.4 790.1 L1421.8 786.6 L1423.3 784.9 L1424.1 783 L1426.4 780.2 L1427.5 779.7 L1429.4 777.5 L1431 774.4 L1432.2 774.2 L1434.5 772.2" fill="none" stroke="#d878dc" stroke-width="0.8" stroke-opacity="0.6" clip-path="url(#lc6)"/>
<path d="M1121.7 933.3h0M1123.6 933.4h0M1125.6 933.6h0M1126.5 933.1h0M1128.3 933.5h0M1129.8 933h0M1131.6 933.1h0M1133.6 933.3h0M1134.8 933.2h0M1136.7 933.5h0M1137.8 933.1h0M1140.2 933.3h0M1141 933.2h0M1142.7 933.3h0M1144.6 933.4h0M1146.6 933.4h0M1148.1 933.4h0M1149.9 933.4h0M1151.3 933.3h0M1152.5 933.1h0M1154.1 933h0M1156 933.4h0M1157.2 933.1h0M1159.4 933.2h0M1161 933.3h0M1162.5 933.2h0M1163.8 933.2h0M1165.1 933.2h0M1166.8 933.3h0M1168.4 933.5h0M1170 933h0M1171.8 933.3h0M1173.4 933.5h0M1174.7 933.3h0M1176.9 933.2h0M1178.4 933.3h0M1180.1 933.4h0M1181.2 933.5h0M1183.1 933h0M1184.8 933.2h0M1186.1 933.3h0M1187.7 933.4h0M1189.7 933.3h0M1191.1 933.4h0M1193 933.4h0M1194.2 933.4h0M1196.1 933.7h0M1197.8 933.2h0M1199.3 933.2h0M1201 933.1h0M1202.4 933.4h0M1203.8 933.3h0M1205.2 933.3h0M1207.3 933.1h0M1208.2 933.6h0M1210.1 933.4h0M1211.5 933.4h0M1213.5 933.1h0M1215.4 933.4h0M1216.4 933.4h0M1218.5 933.6h0M1220.1 933.4h0M1221.6 933.5h0M1222.7 933.1h0M1224.9 933.3h0M1226.2 933.3h0M1228 933.3h0M1229.4 933.3h0M1231.4 933.3h0M1232.8 933.5h0M1233.9 933.2h0M1235.5 933.4h0M1237.7 933.4h0M1238.9 933.2h0M1240.5 933.3h0M1241.7 932.9h0M1243.9 933.2h0M1245.7 933.5h0M1247.4 933.2h0M1248.3 933h0M1250.6 933.5h0M1251.5 933.1h0M1253.3 933.5h0M1254.9 933.3h0M1256.7 933.1h0M1258.2 933.2h0M1259.8 933.5h0M1261.4 933.3h0M1263.4 933.3h0M1264.3 933.3h0M1265.9 933.3h0M1268.1 933.2h0M1269.2 933.4h0M1271.2 933.5h0M1273 933.3h0M1273.8 933.5h0M1276.1 933.5h0M1276.9 933.1h0M1279 933.4h0M1280.5 933.5h0M1282.4 933h0M1284.1 933.2h0M1284.9 933.4h0M1286.6 933.2h0M1288.7 933.3h0M1290.4 933.2h0M1291.5 933.1h0M1293.5 933.3h0M1294.7 933.2h0M1296.6 933.3h0M1298.7 933.3h0M1300.1 933.2h0M1301.6 933.2h0M1303 933.2h0M1305 933.4h0M1306.4 933.1h0M1307.3 933.5h0M1309.6 932.8h0M1311.1 932.9h0M1312.6 930.9h0M1314.1 929.7h0M1315.7 928.7h0M1317.2 928.5h0M1319.3 927.9h0M1320.8 927h0M1321.9 927.3h0M1324.1 927.1h0M1325.7 926.7h0M1327.2 926.9h0M1328.3 925h0M1330 925.6h0M1331.6 925h0M1333.8 924.7h0M1335.4 924.6h0M1336.7 922.5h0M1337.8 922.1h0M1339.4 921.5h0M1341.3 920.9h0M1342.6 920h0M1344.6 917.6h0M1346 917.2h0M1347.4 915.4h0M1349.1 914.2h0M1350.8 912.1h0M1352.8 910.4h0M1354 909.1h0M1355.8 907h0M1357.2 905.7h0M1358.6 905h0M1360.2 902.8h0M1362 900.7h0M1363.5 898.9h0M1365 896.9h0M1367.3 892.7h0M1368.6 889.6h0M1370 887.3h0M1372.1 884h0M1373.2 881.7h0M1374.7 880.1h0M1376.4 876.7h0M1378.4 872.2h0M1379.6 870.1h0M1381.2 865.8h0M1383.4 861.4h0M1384.6 858.1h0M1386.4 855.3h0M1388.2 852.2h0M1389.2 849.5h0M1391 845.3h0M1392.2 842h0M1394.7 836.4h0M1396.1 833.5h0M1397.6 831.1h0M1398.7 828.5h0M1401.1 822.9h0M1401.7 822.5h0M1403.7 817.6h0M1405.8 814.4h0M1406.8 812.2h0M1408.9 808h0M1410.7 804.2h0M1412 802.8h0M1413.2 800.3h0M1415.5 796.5h0M1416.5 795h0M1418.7 790.7h0M1419.4 790.1h0M1421.8 786.6h0M1423.3 784.9h0M1424.1 783h0M1426.4 780.2h0M1427.5 779.7h0M1429.4 777.5h0M1431 774.4h0M1432.2 774.2h0M1434.5 772.2h0" fill="none" stroke="#d878dc" stroke-width="6" stroke-linecap="round"/>
<path d="M1121.9 933.4 L1123.8 933.8 L1125.3 933.3 L1127.4 933.2 L1128.3 933.5 L1130 933.4 L1131.6 933.3 L1133.6 933.5 L1134.7 933.6 L1136.9 933.1 L1137.7 933.3 L1139.9 933.5 L1141.7 933.2 L1143.2 933.6 L1144.3 933.3 L1145.7 933.4 L1148.1 933.4 L1149.9 933.2 L1151.2 933.3 L1152.4 933.2 L1154.5 933.3 L1156 933.5 L1157.3 933.4 L1159.1 933.3 L1160.5 933.4 L1162.3 933.6 L1164 933.3 L1165 933.3 L1167.4 933.4 L1169.1 933.2 L1170.4 933.1 L1172.1 933.6 L1172.9 933.1 L1174.7 933.4 L1177 933.4 L1178.4 933.3 L1179.8 933.6 L1181 933.6 L1183 933.4 L1184.6 933.1 L1186 933.4 L1187.3 933 L1189.3 933.4 L1190.6 933.5 L1192.1 933.4 L1194.4 933.5 L1196.1 933.4 L1197 933.2 L1198.6 933.3 L1200.6 933.5 L1201.9 933 L1204.1 933.4 L1205.5 933.1 L1206.9 933.7 L1209.1 933.1 L1210.4 932.9 L1211.5 933.4 L1213.1 933.4 L1215 933.2 L1216.4 933.3 L1218.6 933.1 L1219.4 933.2 L1221.2 933.4 L1222.7 933.3 L1224.8 933.3 L1226.5 933.2 L1228 933.5 L1229.1 933.6 L1231.4 933.5 L1232.1 933.1 L1234.1 933.3 L1236.3 933.2 L1237.8 933.3 L1238.5 933.4 L1240.8 933.7 L1241.9 933.4 L1243.9 933.3 L1245.1 933.2 L1246.7 933.4 L1248.6 933 L1250.3 933.4 L1251.8 933.5 L1253.4 933.2 L1254.8 933.6 L1257 933.7 L1258 933.2 L1260.2 933.4 L1261.5 933.2 L1263.2 933.2 L1264.1 933.5 L1266.4 933.4 L1268.3 933.1 L1269.4 933.1 L1271.4 933.4 L1272.5 933.1 L1273.9 933.1 L1276.1 933.3 L1277.7 933.2 L1278.6 933.4 L1280.9 933.6 L1282.2 933.1 L1284.2 933.6 L1285.3 933.1 L1286.7 933.3 L1289 933.5 L1290.3 933.7 L1292.1 933 L1292.9 933.6 L1295.2 933.3 L1296.9 933.3 L1298.1 933.4 L1299.5 933.6 L1301.1 933.7 L1303.4 933.4 L1304.8 933.2 L1306.6 933.2 L1307.6 933 L1309.6 933.1 L1310.9 933.5 L1312.6 933 L1314.3 933.1 L1315.3 933.2 L1317.8 933.2 L1318.9 933.2 L1320.6 933.1 L1321.7 933.2 L1323.3 933.5 L1325.8 933.4 L1326.7 933.3 L1328.8 933.2 L1330.1 933.3 L1332 933.4 L1333.6 933.2 L1335.4 933.1 L1336.7 933.4 L1337.7 933.2 L1339.4 933 L1341.7 932.4 L1343 931.8 L1344.7 930.5 L1346.6 930.8 L1347.8 929.8 L1349.7 929 L1351.1 929.1 L1352.6 929.2 L1353.9 928.2 L1356.1 926.6 L1357.4 927 L1358.5 927.3 L1360.3 927.1 L1362.6 927.1 L1363.3 926.5 L1365.4 925.6 L1366.6 925.8 L1368.6 924.5 L1370.4 924.7 L1371.4 923.2 L1373.8 923.7 L1374.9 922.4 L1377.1 921.7 L1378.1 920.6 L1379.9 918.9 L1381.2 918.6 L1382.7 917.6 L1384.6 916.2 L1386.7 914.2 L1387.8 913.2 L1389.2 911.2 L1390.7 909.1 L1392.1 908 L1394.3 905.2 L1395.8 903.9 L1397.8 901.3 L1398.9 899.9 L1400.4 897.6 L1402.7 894.3 L1404.1 891.8 L1405 890.2 L1406.8 886.7 L1408.2 884.4 L1410.4 880.6 L1411.6 878.3 L1413.3 874.3 L1415.2 871.7 L1416.9 869.4 L1418.4 864.8 L1419.7 863.3 L1421.7 858.9 L1422.9 857.4 L1424.8 853.1 L1425.9 850.4 L1428.1 846.1 L1429.7 842.5 L1431 842.1 L1432.3 839.4 L1433.7 836.6" fill="none" stroke="#ffd030" stroke-width="0.8" stroke-opacity="0.6" clip-path="url(#lc6)"/>
<path d="M1121.9 933.4h0M1123.8 933.8h0M1125.3 933.3h0M1127.4 933.2h0M1128.3 933.5h0M1130 933.4h0M1131.6 933.3h0M1133.6 933.5h0M1134.7 933.6h0M1136.9 933.1h0M1137.7 933.3h0M1139.9 933.5h0M1141.7 933.2h0M1143.2 933.6h0M1144.3 933.3h0M1145.7 933.4h0M1148.1 933.4h0M1149.9 933.2h0M1151.2 933.3h0M1152.4 933.2h0M1154.5 933.3h0M1156 933.5h0M1157.3 933.4h0M1159.1 933.3h0M1160.5 933.4h0M1162.3 933.6h0M1164 933.3h0M1165 933.3h0M1167.4 933.4h0M1169.1 933.2h0M1170.4 933.1h0M1172.1 933.6h0M1172.9 933.1h0M1174.7 933.4h0M1177 933.4h0M1178.4 933.3h0M1179.8 933.6h0M1181 933.6h0M1183 933.4h0M1184.6 933.1h0M1186 933.4h0M1187.3 933h0M1189.3 933.4h0M1190.6 933.5h0M1192.1 933.4h0M1194.4 933.5h0M1196.1 933.4h0M1197 933.2h0M1198.6 933.3h0M1200.6 933.5h0M1201.9 933h0M1204.1 933.4h0M1205.5 933.1h0M1206.9 933.7h0M1209.1 933.1h0M1210.4 932.9h0M1211.5 933.4h0M1213.1 933.4h0M1215 933.2h0M1216.4 933.3h0M1218.6 933.1h0M1219.4 933.2h0M1221.2 933.4h0M1222.7 933.3h0M1224.8 933.3h0M1226.5 933.2h0M1228 933.5h0M1229.1 933.6h0M1231.4 933.5h0M1232.1 933.1h0M1234.1 933.3h0M1236.3 933.2h0M1237.8 933.3h0M1238.5 933.4h0M1240.8 933.7h0M1241.9 933.4h0M1243.9 933.3h0M1245.1 933.2h0M1246.7 933.4h0M1248.6 933h0M1250.3 933.4h0M1251.8 933.5h0M1253.4 933.2h0M1254.8 933.6h0M1257 933.7h0M1258 933.2h0M1260.2 933.4h0M1261.5 933.2h0M1263.2 933.2h0M1264.1 933.5h0M1266.4 933.4h0M1268.3 933.1h0M1269.4 933.1h0M1271.4 933.4h0M1272.5 933.1h0M1273.9 933.1h0M1276.1 933.3h0M1277.7 933.2h0M1278.6 933.4h0M1280.9 933.6h0M1282.2 933.1h0M1284.2 933.6h0M1285.3 933.1h0M1286.7 933.3h0M1289 933.5h0M1290.3 933.7h0M1292.1 933h0M1292.9 933.6h0M1295.2 933.3h0M1296.9 933.3h0M1298.1 933.4h0M1299.5 933.6h0M1301.1 933.7h0M1303.4 933.4h0M1304.8 933.2h0M1306.6 933.2h0M1307.6 933h0M1309.6 933.1h0M1310.9 933.5h0M1312.6 933h0M1314.3 933.1h0M1315.3 933.2h0M1317.8 933.2h0M1318.9 933.2h0M1320.6 933.1h0M1321.7 933.2h0M1323.3 933.5h0M1325.8 933.4h0M1326.7 933.3h0M1328.8 933.2h0M1330.1 933.3h0M1332 933.4h0M1333.6 933.2h0M1335.4 933.1h0M1336.7 933.4h0M1337.7 933.2h0M1339.4 933h0M1341.7 932.4h0M1343 931.8h0M1344.7 930.5h0M1346.6 930.8h0M1347.8 929.8h0M1349.7 929h0M1351.1 929.1h0M1352.6 929.2h0M1353.9 928.2h0M1356.1 926.6h0M1357.4 927h0M1358.5 927.3h0M1360.3 927.1h0M1362.6 927.1h0M1363.3 926.5h0M1365.4 925.6h0M1366.6 925.8h0M1368.6 924.5h0M1370.4 924.7h0M1371.4 923.2h0M1373.8 923.7h0M1374.9 922.4h0M1377.1 921.7h0M1378.1 920.6h0M1379.9 918.9h0M1381.2 918.6h0M1382.7 917.6h0M1384.6 916.2h0M1386.7 914.2h0M1387.8 913.2h0M1389.2 911.2h0M1390.7 909.1h0M1392.1 908h0M1394.3 905.2h0M1395.8 903.9h0M1397.8 901.3h0M1398.9 899.9h0M1400.4 897.6h0M1402.7 894.3h0M1404.1 891.8h0M1405 890.2h0M1406.8 886.7h0M1408.2 884.4h0M1410.4 880.6h0M1411.6 878.3h0M1413.3 874.3h0M1415.2 871.7h0M1416.9 869.4h0M1418.4 864.8h0M1419.7 863.3h0M1421.7 858.9h0M1422.9 857.4h0M1424.8 853.1h0M1425.9 850.4h0M1428.1 846.1h0M1429.7 842.5h0M1431 842.1h0M1432.3 839.4h0M1433.7 836.6h0" fill="none" stroke="#ffd030" stroke-width="6" stroke-linecap="round"/>
<path d="M1122.2 933.3 L1124.2 933.3 L1125.7 933.2 L1126.8 933.4 L1128.3 933.3 L1130.4 933.3 L1131.5 933.3 L1133.3 933.3 L1135.1 933.3 L1136.5 933.4 L1137.7 933.4 L1140.2 933 L1141.8 933.3 L1142.8 933.3 L1144.7 933.1 L1146.7 933.4 L1148.1 933.3 L1149 933.2 L1150.8 933 L1152.4 933.1 L1154.5 933.3 L1155.9 933.6 L1157 933.2 L1158.5 933 L1161 933.5 L1161.8 933.3 L1163.7 933.5 L1165.2 933.2 L1167.4 933.4 L1168.5 933.4 L1170.5 933.1 L1172 933.2 L1173 933.3 L1175.1 933.2 L1176.2 933.5 L1177.8 933.2 L1180.1 933.4 L1181.4 933.3 L1182.7 933.4 L1184.6 933.4 L1186.3 933 L1188.1 933.3 L1189.6 933.4 L1191.1 933.2 L1192.3 933.5 L1193.9 933.5 L1195.8 933.2 L1197.3 933.3 L1199 933.4 L1201.1 933.2 L1202.6 933.6 L1203.8 933.4 L1205.7 933.3 L1207.3 933.2 L1208.3 933.2 L1209.8 933.2 L1211.8 933.4 L1213.8 933.2 L1214.6 933.4 L1216.3 933.7 L1218.6 933.1 L1219.4 933.2 L1221.8 933.5 L1222.7 933.3 L1224.7 933.2 L1226.7 933.3 L1227.6 933.3 L1229.4 933.4 L1231.5 933.2 L1232.3 933.3 L1233.9 933.3 L1236 933.4 L1237.7 933.3 L1239 933.1 L1240.2 933.1 L1242.3 933.5 L1243.4 933.2 L1245 933.3 L1246.8 933.3 L1249 933.4 L1250.5 933.5 L1251.7 933.3 L1253 933.4 L1254.6 933.4 L1256.6 933.3 L1258.2 933.1 L1259.8 933.2 L1261 933.4 L1263.3 933.3 L1264.7 933.2 L1266.5 933.3 L1267.8 933.1 L1269 933.2 L1271.1 933.3 L1272.5 933.2 L1273.7 933.1 L1275.3 933.4 L1277.3 933.4 L1279.4 933.3 L1280.5 933.1 L1282.3 933.5 L1283.9 933.4 L1285.1 933.1 L1286.8 933.2 L1288.1 933.1 L1289.8 933 L1291.8 933.5 L1293.5 933.5 L1294.6 933 L1296.8 933.4 L1298.3 933.3 L1300.3 933.3 L1301.7 933.4 L1303 933.4 L1304.7 933.3 L1305.8 933.2 L1308.3 933.4 L1309.8 933.6 L1311.1 933.1 L1312.4 933.2 L1314.3 933.3 L1315.7 933.2 L1317.5 933.2 L1318.9 933.4 L1320.4 933.3 L1322.1 933.3 L1324.1 933.3 L1325.7 933.2 L1326.8 933.4 L1328.4 933.2 L1330.2 933.1 L1331.7 933.2 L1333.2 933.3 L1335 933.5 L1336.2 933.3 L1337.7 933.2 L1339.5 933.6 L1341.9 933.3 L1343.3 933.5 L1344.6 933.4 L1345.8 933.4 L1348.3 933.1 L1349.8 933.3 L1351.5 933.2 L1352.7 933.1 L1354 933.3 L1355.5 933.3 L1357.7 933.3 L1358.7 933.4 L1360.7 932.9 L1362.4 933.3 L1363.9 933 L1365.7 933 L1367.4 933.3 L1368.2 933.2 L1369.8 932.9 L1371.4 933.3 L1373.2 933.3 L1375.1 933.5 L1376.5 933.4 L1378.1 933.3 L1380 933 L1381 933.1 L1382.6 932.7 L1384.2 931.9 L1386.5 930.5 L1387.7 929.5 L1389.5 928.7 L1391.4 927.6 L1392.3 927.4 L1393.8 927.4 L1395.6 927.1 L1397.3 925.7 L1399 925.5 L1400.3 925.1 L1402.5 924.6 L1403.9 923.5 L1405.7 923.7 L1406.7 922.1 L1408.3 920.9 L1410.3 920.1 L1411.7 919.3 L1413.9 918.4 L1415.3 917.9 L1416.3 917.9 L1417.8 917.1 L1419.6 916 L1421.7 914.3 L1423.1 914.3 L1424.3 913 L1425.7 912.3 L1427.8 910.2 L1429.8 907.4 L1431.1 906.7 L1433.1 903.4 L1434.2 901.8" fill="none" stroke="#8fbf26" stroke-width="0.8" stroke-opacity="0.6" clip-path="url(#lc6)"/>
<path d="M1122.2 933.3h0M1124.2 933.3h0M1125.7 933.2h0M1126.8 933.4h0M1128.3 933.3h0M1130.4 933.3h0M1131.5 933.3h0M1133.3 933.3h0M1135.1 933.3h0M1136.5 933.4h0M1137.7 933.4h0M1140.2 933h0M1141.8 933.3h0M1142.8 933.3h0M1144.7 933.1h0M1146.7 933.4h0M1148.1 933.3h0M1149 933.2h0M1150.8 933h0M1152.4 933.1h0M1154.5 933.3h0M1155.9 933.6h0M1157 933.2h0M1158.5 933h0M1161 933.5h0M1161.8 933.3h0M1163.7 933.5h0M1165.2 933.2h0M1167.4 933.4h0M1168.5 933.4h0M1170.5 933.1h0M1172 933.2h0M1173 933.3h0M1175.1 933.2h0M1176.2 933.5h0M1177.8 933.2h0M1180.1 933.4h0M1181.4 933.3h0M1182.7 933.4h0M1184.6 933.4h0M1186.3 933h0M1188.1 933.3h0M1189.6 933.4h0M1191.1 933.2h0M1192.3 933.5h0M1193.9 933.5h0M1195.8 933.2h0M1197.3 933.3h0M1199 933.4h0M1201.1 933.2h0M1202.6 933.6h0M1203.8 933.4h0M1205.7 933.3h0M1207.3 933.2h0M1208.3 933.2h0M1209.8 933.2h0M1211.8 933.4h0M1213.8 933.2h0M1214.6 933.4h0M1216.3 933.7h0M1218.6 933.1h0M1219.4 933.2h0M1221.8 933.5h0M1222.7 933.3h0M1224.7 933.2h0M1226.7 933.3h0M1227.6 933.3h0M1229.4 933.4h0M1231.5 933.2h0M1232.3 933.3h0M1233.9 933.3h0M1236 933.4h0M1237.7 933.3h0M1239 933.1h0M1240.2 933.1h0M1242.3 933.5h0M1243.4 933.2h0M1245 933.3h0M1246.8 933.3h0M1249 933.4h0M1250.5 933.5h0M1251.7 933.3h0M1253 933.4h0M1254.6 933.4h0M1256.6 933.3h0M1258.2 933.1h0M1259.8 933.2h0M1261 933.4h0M1263.3 933.3h0M1264.7 933.2h0M1266.5 933.3h0M1267.8 933.1h0M1269 933.2h0M1271.1 933.3h0M1272.5 933.2h0M1273.7 933.1h0M1275.3 933.4h0M1277.3 933.4h0M1279.4 933.3h0M1280.5 933.1h0M1282.3 933.5h0M1283.9 933.4h0M1285.1 933.1h0M1286.8 933.2h0M1288.1 933.1h0M1289.8 933h0M1291.8 933.5h0M1293.5 933.5h0M1294.6 933h0M1296.8 933.4h0M1298.3 933.3h0M1300.3 933.3h0M1301.7 933.4h0M1303 933.4h0M1304.7 933.3h0M1305.8 933.2h0M1308.3 933.4h0M1309.8 933.6h0M1311.1 933.1h0M1312.4 933.2h0M1314.3 933.3h0M1315.7 933.2h0M1317.5 933.2h0M1318.9 933.4h0M1320.4 933.3h0M1322.1 933.3h0M1324.1 933.3h0M1325.7 933.2h0M1326.8 933.4h0M1328.4 933.2h0M1330.2 933.1h0M1331.7 933.2h0M1333.2 933.3h0M1335 933.5h0M1336.2 933.3h0M1337.7 933.2h0M1339.5 933.6h0M1341.9 933.3h0M1343.3 933.5h0M1344.6 933.4h0M1345.8 933.4h0M1348.3 933.1h0M1349.8 933.3h0M1351.5 933.2h0M1352.7 933.1h0M1354 933.3h0M1355.5 933.3h0M1357.7 933.3h0M1358.7 933.4h0M1360.7 932.9h0M1362.4 933.3h0M1363.9 933h0M1365.7 933h0M1367.4 933.3h0M1368.2 933.2h0M1369.8 932.9h0M1371.4 933.3h0M1373.2 933.3h0M1375.1 933.5h0M1376.5 933.4h0M1378.1 933.3h0M1380 933h0M1381 933.1h0M1382.6 932.7h0M1384.2 931.9h0M1386.5 930.5h0M1387.7 929.5h0M1389.5 928.7h0M1391.4 927.6h0M1392.3 927.4h0M1393.8 927.4h0M1395.6 927.1h0M1397.3 925.7h0M1399 925.5h0M1400.3 925.1h0M1402.5 924.6h0M1403.9 923.5h0M1405.7 923.7h0M1406.7 922.1h0M1408.3 920.9h0M1410.3 920.1h0M1411.7 919.3h0M1413.9 918.4h0M1415.3 917.9h0M1416.3 917.9h0M1417.8 917.1h0M1419.6 916h0M1421.7 914.3h0M1423.1 914.3h0M1424.3 913h0M1425.7 912.3h0M1427.8 910.2h0M1429.8 907.4h0M1431.1 906.7h0M1433.1 903.4h0M1434.2 901.8h0" fill="none" stroke="#8fbf26" stroke-width="6" stroke-linecap="round"/>
<path d="M1122.2 934.2 L1123.8 932.8 L1125.4 933.1 L1127 932.7 L1128.6 932.6 L1130.2 932.4 L1131.8 933.7 L1133.4 933.5 L1135 932.2 L1136.6 933.4 L1138.2 933.7 L1139.8 934.5 L1141.4 933.9 L1143 933.4 L1144.6 933 L1146.2 933.9 L1147.8 934.2 L1149.4 934 L1151 933.4 L1152.6 933.6 L1154.2 932.4 L1155.8 933.7 L1157.4 934.2 L1159 933.3 L1160.6 933.4 L1162.2 934.1 L1163.8 933.3 L1165.4 934.4 L1167 933.5 L1168.6 934 L1170.2 933 L1171.8 933.6 L1173.4 934.4 L1175 932.4 L1176.6 934.2 L1178.2 931.9 L1179.8 933.2 L1181.4 933.7 L1183 932.9 L1184.6 933.5 L1186.2 934.1 L1187.8 933.5 L1189.4 932 L1191 933.8 L1192.6 934 L1194.2 933.4 L1195.8 933.3 L1197.4 933.3 L1199 932.2 L1200.6 933 L1202.2 934.4 L1203.8 934 L1205.4 933.8 L1207 933 L1208.6 933.1 L1210.2 933.7 L1211.8 933.4 L1213.4 933.3 L1215 932.9 L1216.6 933.6 L1218.2 932.8 L1219.8 933.1 L1221.4 933.9 L1223 932.1 L1224.6 933.6 L1226.2 932.6 L1227.8 931.6 L1229.4 932.5 L1231 932.5 L1232.6 933.9 L1234.2 933.9 L1235.8 934.7 L1237.4 933 L1239 933.1 L1240.6 933.2 L1242.2 934.3 L1243.8 933.7 L1245.4 933.3 L1247 932.7 L1248.6 934.6 L1250.2 932.2 L1251.8 933.1 L1253.4 933.2 L1255 933.7 L1256.6 932.4 L1258.2 934.2 L1259.8 933.2 L1261.4 932.7 L1263 932.8 L1264.6 933.3 L1266.2 932.9 L1267.8 933.9 L1269.4 932.7 L1271 933.6 L1272.6 934.6 L1274.2 933.5 L1275.8 933.9 L1277.4 933.9 L1279 932.1 L1280.6 934.1 L1282.2 933.2 L1283.8 933.8 L1285.4 934 L1287 933.6 L1288.6 933.4 L1290.2 932.5 L1291.8 933.8 L1293.4 933.4 L1295 933.6 L1296.6 933.9 L1298.2 932.6 L1299.8 933.9 L1301.4 934.2 L1303 933.1 L1304.6 932.2 L1306.2 934.7 L1307.8 933.7 L1309.4 933.6 L1311 933.3 L1312.6 932.9 L1314.2 932.9 L1315.8 933.4 L1317.4 933.3 L1319 933.1 L1320.6 932.7 L1322.2 933.4 L1323.8 932.5 L1325.4 932.2 L1327 932.4 L1328.6 932.2 L1330.2 933.7 L1331.8 932.8 L1333.4 933.8 L1335 933.5 L1336.6 934.4 L1338.2 933.8 L1339.8 933.8 L1341.4 932.9 L1343 932.1 L1344.6 933.7 L1346.2 934 L1347.8 933 L1349.4 932.9 L1351 933 L1352.6 932.8 L1354.2 934 L1355.8 933.2 L1357.4 933.8 L1359 933.5 L1360.6 932.7 L1362.2 934.5 L1363.8 933.2 L1365.4 932.8 L1367 934.2 L1368.6 933.7 L1370.2 933.1 L1371.8 932.6 L1373.4 932.3 L1375 932.7 L1376.6 933.6 L1378.2 932.7 L1379.8 934 L1381.4 933 L1383 933.8 L1384.6 932.7 L1386.2 933.4 L1387.8 933.4 L1389.4 933.2 L1391 933.3 L1392.6 933 L1394.2 933.2 L1395.8 934.5 L1397.4 933.2 L1399 933.7 L1400.6 933.3 L1402.2 932.4 L1403.8 932.5 L1405.4 931.8 L1407 931.4 L1408.6 931.1 L1410.2 930.7 L1411.8 930.5 L1413.4 932.2 L1415 930.8 L1416.6 930.7 L1418.2 931.1 L1419.8 928.5 L1421.4 930.4 L1423 930 L1424.6 929.6 L1426.2 928.8 L1427.8 928.4 L1429.4 928.9 L1431 928.6 L1432.6 927.6 L1434.2 926.7" fill="none" stroke="#e04010" stroke-width="0.8" stroke-opacity="0.6" clip-path="url(#lc6)"/>
<path d="M1122.2 934.2h0M1123.8 932.8h0M1125.4 933.1h0M1127 932.7h0M1128.6 932.6h0M1130.2 932.4h0M1131.8 933.7h0M1133.4 933.5h0M1135 932.2h0M1136.6 933.4h0M1138.2 933.7h0M1139.8 934.5h0M1141.4 933.9h0M1143 933.4h0M1144.6 933h0M1146.2 933.9h0M1147.8 934.2h0M1149.4 934h0M1151 933.4h0M1152.6 933.6h0M1154.2 932.4h0M1155.8 933.7h0M1157.4 934.2h0M1159 933.3h0M1160.6 933.4h0M1162.2 934.1h0M1163.8 933.3h0M1165.4 934.4h0M1167 933.5h0M1168.6 934h0M1170.2 933h0M1171.8 933.6h0M1173.4 934.4h0M1175 932.4h0M1176.6 934.2h0M1178.2 931.9h0M1179.8 933.2h0M1181.4 933.7h0M1183 932.9h0M1184.6 933.5h0M1186.2 934.1h0M1187.8 933.5h0M1189.4 932h0M1191 933.8h0M1192.6 934h0M1194.2 933.4h0M1195.8 933.3h0M1197.4 933.3h0M1199 932.2h0M1200.6 933h0M1202.2 934.4h0M1203.8 934h0M1205.4 933.8h0M1207 933h0M1208.6 933.1h0M1210.2 933.7h0M1211.8 933.4h0M1213.4 933.3h0M1215 932.9h0M1216.6 933.6h0M1218.2 932.8h0M1219.8 933.1h0M1221.4 933.9h0M1223 932.1h0M1224.6 933.6h0M1226.2 932.6h0M1227.8 931.6h0M1229.4 932.5h0M1231 932.5h0M1232.6 933.9h0M1234.2 933.9h0M1235.8 934.7h0M1237.4 933h0M1239 933.1h0M1240.6 933.2h0M1242.2 934.3h0M1243.8 933.7h0M1245.4 933.3h0M1247 932.7h0M1248.6 934.6h0M1250.2 932.2h0M1251.8 933.1h0M1253.4 933.2h0M1255 933.7h0M1256.6 932.4h0M1258.2 934.2h0M1259.8 933.2h0M1261.4 932.7h0M1263 932.8h0M1264.6 933.3h0M1266.2 932.9h0M1267.8 933.9h0M1269.4 932.7h0M1271 933.6h0M1272.6 934.6h0M1274.2 933.5h0M1275.8 933.9h0M1277.4 933.9h0M1279 932.1h0M1280.6 934.1h0M1282.2 933.2h0M1283.8 933.8h0M1285.4 934h0M1287 933.6h0M1288.6 933.4h0M1290.2 932.5h0M1291.8 933.8h0M1293.4 933.4h0M1295 933.6h0M1296.6 933.9h0M1298.2 932.6h0M1299.8 933.9h0M1301.4 934.2h0M1303 933.1h0M1304.6 932.2h0M1306.2 934.7h0M1307.8 933.7h0M1309.4 933.6h0M1311 933.3h0M1312.6 932.9h0M1314.2 932.9h0M1315.8 933.4h0M1317.4 933.3h0M1319 933.1h0M1320.6 932.7h0M1322.2 933.4h0M1323.8 932.5h0M1325.4 932.2h0M1327 932.4h0M1328.6 932.2h0M1330.2 933.7h0M1331.8 932.8h0M1333.4 933.8h0M1335 933.5h0M1336.6 934.4h0M1338.2 933.8h0M1339.8 933.8h0M1341.4 932.9h0M1343 932.1h0M1344.6 933.7h0M1346.2 934h0M1347.8 933h0M1349.4 932.9h0M1351 933h0M1352.6 932.8h0M1354.2 934h0M1355.8 933.2h0M1357.4 933.8h0M1359 933.5h0M1360.6 932.7h0M1362.2 934.5h0M1363.8 933.2h0M1365.4 932.8h0M1367 934.2h0M1368.6 933.7h0M1370.2 933.1h0M1371.8 932.6h0M1373.4 932.3h0M1375 932.7h0M1376.6 933.6h0M1378.2 932.7h0M1379.8 934h0M1381.4 933h0M1383 933.8h0M1384.6 932.7h0M1386.2 933.4h0M1387.8 933.4h0M1389.4 933.2h0M1391 933.3h0M1392.6 933h0M1394.2 933.2h0M1395.8 934.5h0M1397.4 933.2h0M1399 933.7h0M1400.6 933.3h0M1402.2 932.4h0M1403.8 932.5h0M1405.4 931.8h0M1407 931.4h0M1408.6 931.1h0M1410.2 930.7h0M1411.8 930.5h0M1413.4 932.2h0M1415 930.8h0M1416.6 930.7h0M1418.2 931.1h0M1419.8 928.5h0M1421.4 930.4h0M1423 930h0M1424.6 929.6h0M1426.2 928.8h0M1427.8 928.4h0M1429.4 928.9h0M1431 928.6h0M1432.6 927.6h0M1434.2 926.7h0" fill="none" stroke="#e04010" stroke-width="6" stroke-linecap="round"/>
</g>
<g font-size="20" fill="#000">
<text x="1121.9" y="954.4" text-anchor="middle">0</text>
<text x="1156.7" y="954.4" text-anchor="middle">1</text>
<text x="1191.4" y="954.4" text-anchor="middle">2</text>
<text x="1226.2" y="954.4" text-anchor="middle">3</text>
<text x="1260.9" y="954.4" text-anchor="middle">4</text>
<text x="1295.7" y="954.4" text-anchor="middle">5</text>
<text x="1330.4" y="954.4" text-anchor="middle">6</text>
<text x="1365.2" y="954.4" text-anchor="middle">7</text>
<text x="1399.9" y="954.4" text-anchor="middle">8</text>
<text x="1434.7" y="954.4" text-anchor="middle">9</text>
<text x="1469.4" y="954.4" text-anchor="middle">10</text>
<text x="1504.2" y="954.4" text-anchor="middle">11</text>
<text x="1112.1" y="938.5" text-anchor="end">0</text>
<text x="1112.1" y="851.7" text-anchor="end">0.5</text>
<text x="1112.1" y="764.9" text-anchor="end">1</text>
<text x="1112.1" y="678.1" text-anchor="end">1.5</text>
<text x="1112.1" y="591.3" text-anchor="end">2</text>
</g>
<text x="1064.5" y="558" font-size="46">g</text>
<text x="1313" y="996" font-size="25" text-anchor="middle"><tspan font-style="italic">B</tspan> (T)</text>
<text transform="translate(1045 808) rotate(-90)" font-size="25"><tspan font-style="italic">ρ</tspan><tspan font-style="italic" font-size="16" dy="11.5" dx="1">ab</tspan><tspan dy="-11.5"> (mΩcm)</tspan></text>
<g font-size="14.9">
<circle cx="1448.3" cy="639.8" r="6.4" fill="#ff0000"/>
<text x="1460.2" y="644.9" fill="#ff0000">4.0 K</text>
<circle cx="1448.3" cy="657.6" r="6.4" fill="#0000ff"/>
<text x="1460.2" y="662.8" fill="#0000ff">3.9 K</text>
<circle cx="1448.3" cy="675.5" r="6.4" fill="#006400"/>
<text x="1460.2" y="680.6" fill="#006400">3.8 K</text>
<circle cx="1448.3" cy="693.3" r="6.4" fill="#000000"/>
<text x="1460.2" y="698.5" fill="#000000">3.7 K</text>
<circle cx="1448.3" cy="711.2" r="6.4" fill="#ff3399"/>
<text x="1460.2" y="716.3" fill="#ff3399">3.6 K</text>
<circle cx="1448.3" cy="729" r="6.4" fill="#00b0f0"/>
<text x="1460.2" y="734.1" fill="#00b0f0">3.5 K</text>
<circle cx="1448.3" cy="746.8" r="6.4" fill="#ed7d31"/>
<text x="1460.2" y="752" fill="#ed7d31">3.4 K</text>
<circle cx="1448.3" cy="764.7" r="6.4" fill="#7030a0"/>
<text x="1460.2" y="769.8" fill="#7030a0">3.3 K</text>
<circle cx="1448.3" cy="782.5" r="6.4" fill="#cc9900"/>
<text x="1460.2" y="787.7" fill="#cc9900">3.2 K</text>
<circle cx="1448.3" cy="800.4" r="6.4" fill="#767171"/>
<text x="1460.2" y="805.5" fill="#767171">3.1 K</text>
<circle cx="1448.3" cy="818.2" r="6.4" fill="#cc99ff"/>
<text x="1460.2" y="823.3" fill="#cc99ff">3.0 K</text>
<circle cx="1448.3" cy="836" r="6.4" fill="#ffcc00"/>
<text x="1460.2" y="841.2" fill="#ffcc00">2.9 K</text>
<circle cx="1448.3" cy="853.9" r="6.4" fill="#70ad47"/>
<text x="1460.2" y="859" fill="#70ad47">2.8 K</text>
<circle cx="1448.3" cy="871.7" r="6.4" fill="#d83b01"/>
<text x="1460.2" y="876.9" fill="#d83b01">2.7 K</text>
</g>
<text x="1141.5" y="580.6" font-size="25.6"><tspan font-style="italic">B</tspan> || <tspan font-style="italic">ab</tspan></text>
<text x="1247.5" y="580.6" font-size="25.6"><tspan font-style="italic">x</tspan> = 0.69</text>
<text x="1130" y="617.5" font-size="25.6">4.0 K</text>
<text x="1440.5" y="925" font-size="25.6">2.7 K</text>
<path d="M1438.5 934.8 L1165.3 628.3" stroke="#000" stroke-width="2.5" fill="none"/>
<path d="M1160 622.3 L1169.7 627 L1163.6 632.5 Z" fill="#000"/>
</g>
<g id="panel-h">
<clipPath id="cp7"><rect x="1611.2" y="551.9" width="391.0999999999999" height="388.30000000000007"/></clipPath>
<path d="M1691.6 934.2v-6.6 M1691.6 551.9v6.6 M1768.4 934.2v-6.6 M1768.4 551.9v6.6 M1845.1 934.2v-6.6 M1845.1 551.9v6.6 M1921.8 934.2v-6.6 M1921.8 551.9v6.6 M1615.2 851.1h6.6 M1998.3 851.1h-6.6 M1615.2 768h6.6 M1998.3 768h-6.6 M1615.2 684.9h6.6 M1998.3 684.9h-6.6 M1615.2 601.8h6.6 M1998.3 601.8h-6.6 " stroke="#707070" stroke-width="1" fill="none"/>
<rect x="1615.2" y="551.9" width="383.1" height="382.3" fill="none" stroke="#707070" stroke-width="1.0"/>
<clipPath id="lc7"><rect x="1615.2" y="551.9" width="383.1" height="382.9"/></clipPath>
<g clip-path="url(#cp7)">
<path d="M1620.8 718.5 L1629.8 652.5 L1638.5 640.4 L1648.5 633.5 L1657.7 628.3 L1665.6 625.8 L1672.9 623.8 L1680.6 620 L1687.9 616.5 L1695.8 615 L1703.5 612.7 L1711 611.7 L1718.8 609.8 L1727.1 608.8 L1735.4 607.5 L1743.1 605 L1751 604 L1758.3 602.9 L1766 601.9 L1773.5 601.2 L1781.2 601.9 L1788.5 600.8 L1796.9 599.8 L1806.2 598.3 L1806.4 598.3 L1814.3 597.7 L1822 597.1 L1829.3 596.7 L1837 596.4 L1844.7 596.2 L1852.4 596 L1860.1 595.7 L1867.8 595.5 L1875.5 595.2 L1883.2 595 L1890.9 594.8 L1898.6 594.5 L1906.3 594.3 L1914 594.1 L1921.7 593.8 L1929.4 593.6 L1937.1 593.3 L1944.8 593.1 L1952.5 592.9 L1960.2 592.6 L1967.9 592.4 L1975.6 592.2 L1983.3 591.9 L1991 591.7" fill="none" stroke="#e00000" stroke-width="0.9" stroke-opacity="0.6" clip-path="url(#lc7)"/>
<path d="M1620.8 718.5h0M1629.8 652.5h0M1638.5 640.4h0M1648.5 633.5h0M1657.7 628.3h0M1665.6 625.8h0M1672.9 623.8h0M1680.6 620h0M1687.9 616.5h0M1695.8 615h0M1703.5 612.7h0M1711 611.7h0M1718.8 609.8h0M1727.1 608.8h0M1735.4 607.5h0M1743.1 605h0M1751 604h0M1758.3 602.9h0M1766 601.9h0M1773.5 601.2h0M1781.2 601.9h0M1788.5 600.8h0M1796.9 599.8h0M1806.2 598.3h0M1806.4 598.3h0M1814.3 597.7h0M1822 597.1h0M1829.3 596.7h0M1837 596.4h0M1844.7 596.2h0M1852.4 596h0M1860.1 595.7h0M1867.8 595.5h0M1875.5 595.2h0M1883.2 595h0M1890.9 594.8h0M1898.6 594.5h0M1906.3 594.3h0M1914 594.1h0M1921.7 593.8h0M1929.4 593.6h0M1937.1 593.3h0M1944.8 593.1h0M1952.5 592.9h0M1960.2 592.6h0M1967.9 592.4h0M1975.6 592.2h0M1983.3 591.9h0M1991 591.7h0" fill="none" stroke="#e00000" stroke-width="6.2" stroke-linecap="round"/>
<path d="M1620.8 932.7 L1631.2 793.5 L1642.7 692.5 L1654.2 660.6 L1665.6 645.2 L1677.5 634.8 L1689 629 L1700 623.1 L1707.7 619 L1718.8 615.8 L1726.7 613.3 L1735.4 612.3 L1746.9 610.2 L1756.7 606 L1764.6 606 L1771.9 604 L1779.6 604 L1787.5 602.9 L1795.4 601.2 L1802.2 599.4 L1803.1 599.8 L1810.2 599.8 L1818.9 598.1 L1825.6 599.4 L1833.5 597.9 L1840.8 597.1 L1848.1 595.6 L1855.4 596.2 L1863.7 596.7 L1871 596.7 L1879.3 593.5 L1887.7 594.6 L1896 593.3 L1906.4 592.1 L1913.7 592.5 L1921 591.5 L1928.7 591.4 L1936.4 591.4 L1944.1 591.3 L1951.8 591.3 L1959.5 591.2 L1967.2 591.2 L1974.9 591.1 L1982.6 591.1 L1990.3 591" fill="none" stroke="#0000e6" stroke-width="0.9" stroke-opacity="0.6" clip-path="url(#lc7)"/>
<path d="M1620.8 932.7h0M1631.2 793.5h0M1642.7 692.5h0M1654.2 660.6h0M1665.6 645.2h0M1677.5 634.8h0M1689 629h0M1700 623.1h0M1707.7 619h0M1718.8 615.8h0M1726.7 613.3h0M1735.4 612.3h0M1746.9 610.2h0M1756.7 606h0M1764.6 606h0M1771.9 604h0M1779.6 604h0M1787.5 602.9h0M1795.4 601.2h0M1802.2 599.4h0M1803.1 599.8h0M1810.2 599.8h0M1818.9 598.1h0M1825.6 599.4h0M1833.5 597.9h0M1840.8 597.1h0M1848.1 595.6h0M1855.4 596.2h0M1863.7 596.7h0M1871 596.7h0M1879.3 593.5h0M1887.7 594.6h0M1896 593.3h0M1906.4 592.1h0M1913.7 592.5h0M1921 591.5h0M1928.7 591.4h0M1936.4 591.4h0M1944.1 591.3h0M1951.8 591.3h0M1959.5 591.2h0M1967.2 591.2h0M1974.9 591.1h0M1982.6 591.1h0M1990.3 591h0" fill="none" stroke="#0000e6" stroke-width="6.2" stroke-linecap="round"/>
<path d="M1632.3 929.6 L1643.3 826.9 L1654.2 737.7 L1665.8 690 L1677.1 665 L1688.5 650.2 L1696.2 642.5 L1707.5 632.7 L1715.2 628.5 L1722.5 625.4 L1730.2 622.1 L1737.9 618.1 L1745.4 615.8 L1753.1 613.3 L1760.4 611.2 L1768.3 609.8 L1776 608.1 L1784.4 606.5 L1791.7 605 L1802.1 604 L1802.2 604 L1810.2 601.9 L1817.9 602.5 L1825.6 600.8 L1833.5 598.8 L1840.8 598.8 L1848.1 598.3 L1856.4 598.1 L1863.7 596.7 L1875.2 595.6 L1883.5 594.2 L1890.8 595 L1899.1 593.5 L1906.4 592.9 L1916.8 592.1 L1926.2 593.1 L1935.6 592.5 L1943.9 591.5 L1951.2 590 L1959.5 591.5 L1966.8 591.5 L1975.2 591.5 L1982.5 590.4 L1989.8 590.8 L1997 590.4" fill="none" stroke="#0a5f1e" stroke-width="0.9" stroke-opacity="0.6" clip-path="url(#lc7)"/>
<path d="M1632.3 929.6h0M1643.3 826.9h0M1654.2 737.7h0M1665.8 690h0M1677.1 665h0M1688.5 650.2h0M1696.2 642.5h0M1707.5 632.7h0M1715.2 628.5h0M1722.5 625.4h0M1730.2 622.1h0M1737.9 618.1h0M1745.4 615.8h0M1753.1 613.3h0M1760.4 611.2h0M1768.3 609.8h0M1776 608.1h0M1784.4 606.5h0M1791.7 605h0M1802.1 604h0M1802.2 604h0M1810.2 601.9h0M1817.9 602.5h0M1825.6 600.8h0M1833.5 598.8h0M1840.8 598.8h0M1848.1 598.3h0M1856.4 598.1h0M1863.7 596.7h0M1875.2 595.6h0M1883.5 594.2h0M1890.8 595h0M1899.1 593.5h0M1906.4 592.9h0M1916.8 592.1h0M1926.2 593.1h0M1935.6 592.5h0M1943.9 591.5h0M1951.2 590h0M1959.5 591.5h0M1966.8 591.5h0M1975.2 591.5h0M1982.5 590.4h0M1989.8 590.8h0M1997 590.4h0" fill="none" stroke="#0a5f1e" stroke-width="6.2" stroke-linecap="round"/>
<path d="M1621 933.3 L1642.7 930.6 L1654.6 863.5 L1666 785.2 L1677.5 722.3 L1688.5 686.9 L1696.2 671 L1707.7 654 L1715.2 646.2 L1722.5 641 L1730.2 635.8 L1739.6 630 L1749 625.8 L1758.8 621 L1768.3 617.9 L1776 615.4 L1783.3 612.9 L1791 611.2 L1798.5 608.5 L1806.2 609.2 L1806.4 609.2 L1814.3 606 L1822 604.6 L1829.3 602.9 L1837 602.5 L1845 599.8 L1852.2 600.2 L1859.5 599.2 L1866.8 598.3 L1875.2 596.2 L1883.5 596.7 L1889.8 596.7 L1898.1 595.6 L1906.4 595 L1913.7 593.5 L1921 594.2 L1933.5 593.5 L1941.8 592.1 L1954.3 592.1 L1962.7 592.5 L1977.2 591.5 L1984.5 591.5 L1992.9 591" fill="none" stroke="#000000" stroke-width="0.9" stroke-opacity="0.6" clip-path="url(#lc7)"/>
<path d="M1621 933.3h0M1642.7 930.6h0M1654.6 863.5h0M1666 785.2h0M1677.5 722.3h0M1688.5 686.9h0M1696.2 671h0M1707.7 654h0M1715.2 646.2h0M1722.5 641h0M1730.2 635.8h0M1739.6 630h0M1749 625.8h0M1758.8 621h0M1768.3 617.9h0M1776 615.4h0M1783.3 612.9h0M1791 611.2h0M1798.5 608.5h0M1806.2 609.2h0M1806.4 609.2h0M1814.3 606h0M1822 604.6h0M1829.3 602.9h0M1837 602.5h0M1845 599.8h0M1852.2 600.2h0M1859.5 599.2h0M1866.8 598.3h0M1875.2 596.2h0M1883.5 596.7h0M1889.8 596.7h0M1898.1 595.6h0M1906.4 595h0M1913.7 593.5h0M1921 594.2h0M1933.5 593.5h0M1941.8 592.1h0M1954.3 592.1h0M1962.7 592.5h0M1977.2 591.5h0M1984.5 591.5h0M1992.9 591h0" fill="none" stroke="#000000" stroke-width="6.2" stroke-linecap="round"/>
<path d="M1621 933.3 L1632 933.3 L1654.6 930.6 L1665.6 888.3 L1677.1 824.4 L1688.5 762.5 L1700 715 L1711.5 684.6 L1719 671.7 L1726.7 659.8 L1734 651.5 L1743.3 643.1 L1753.1 636.5 L1760.8 631.7 L1768.3 627.3 L1776 623.8 L1783.8 621.2 L1791.7 619.6 L1799 617.5 L1806.4 614.8 L1806.7 614.4 L1814.3 612.9 L1822 611.2 L1829.3 609.2 L1837 608.5 L1845 607.1 L1852.2 605.4 L1860.6 603.3 L1868.9 601.9 L1879.3 601.2 L1887.7 600.8 L1895.4 600.3 L1903.1 599.8 L1910.8 599.3 L1918.5 598.8 L1926.2 598.3 L1933.9 597.7 L1941.6 597.2 L1949.3 596.7 L1957 596.2 L1964.7 595.7 L1972.4 595.2 L1980.1 594.6 L1987.8 594.1 L1995.5 593.6" fill="none" stroke="#f4149a" stroke-width="0.9" stroke-opacity="0.6" clip-path="url(#lc7)"/>
<path d="M1621 933.3h0M1632 933.3h0M1654.6 930.6h0M1665.6 888.3h0M1677.1 824.4h0M1688.5 762.5h0M1700 715h0M1711.5 684.6h0M1719 671.7h0M1726.7 659.8h0M1734 651.5h0M1743.3 643.1h0M1753.1 636.5h0M1760.8 631.7h0M1768.3 627.3h0M1776 623.8h0M1783.8 621.2h0M1791.7 619.6h0M1799 617.5h0M1806.4 614.8h0M1806.7 614.4h0M1814.3 612.9h0M1822 611.2h0M1829.3 609.2h0M1837 608.5h0M1845 607.1h0M1852.2 605.4h0M1860.6 603.3h0M1868.9 601.9h0M1879.3 601.2h0M1887.7 600.8h0M1895.4 600.3h0M1903.1 599.8h0M1910.8 599.3h0M1918.5 598.8h0M1926.2 598.3h0M1933.9 597.7h0M1941.6 597.2h0M1949.3 596.7h0M1957 596.2h0M1964.7 595.7h0M1972.4 595.2h0M1980.1 594.6h0M1987.8 594.1h0M1995.5 593.6h0" fill="none" stroke="#f4149a" stroke-width="6.2" stroke-linecap="round"/>
<path d="M1621 933.3 L1632 933.3 L1643 933.3 L1654 933.3 L1666 931.7 L1677.1 901.7 L1688.1 857.5 L1696.2 819.6 L1703.8 782.3 L1711.5 747.7 L1718.8 720 L1726.5 698.1 L1735 681.7 L1745.2 663.3 L1753.1 654 L1760.8 647.7 L1770.2 638.8 L1779.6 632.5 L1787.5 628.5 L1795.8 624.4 L1802.2 621.7 L1803.1 622.3 L1810.2 620 L1817.9 617.5 L1825.6 615.8 L1833.5 613.3 L1840.8 611.2 L1848.1 609.8 L1856.4 609.2 L1863.7 608.1 L1873.1 607.5 L1879.3 605 L1887 604.4 L1894.7 603.8 L1902.4 603.2 L1910.1 602.6 L1917.8 602.1 L1925.5 601.5 L1933.2 600.9 L1940.9 600.3 L1948.6 599.7 L1956.3 599.1 L1964 598.5 L1971.7 597.9 L1979.4 597.3 L1987.1 596.8 L1994.8 596.2" fill="none" stroke="#10c0f8" stroke-width="0.9" stroke-opacity="0.6" clip-path="url(#lc7)"/>
<path d="M1621 933.3h0M1632 933.3h0M1643 933.3h0M1654 933.3h0M1666 931.7h0M1677.1 901.7h0M1688.1 857.5h0M1696.2 819.6h0M1703.8 782.3h0M1711.5 747.7h0M1718.8 720h0M1726.5 698.1h0M1735 681.7h0M1745.2 663.3h0M1753.1 654h0M1760.8 647.7h0M1770.2 638.8h0M1779.6 632.5h0M1787.5 628.5h0M1795.8 624.4h0M1802.2 621.7h0M1803.1 622.3h0M1810.2 620h0M1817.9 617.5h0M1825.6 615.8h0M1833.5 613.3h0M1840.8 611.2h0M1848.1 609.8h0M1856.4 609.2h0M1863.7 608.1h0M1873.1 607.5h0M1879.3 605h0M1887 604.4h0M1894.7 603.8h0M1902.4 603.2h0M1910.1 602.6h0M1917.8 602.1h0M1925.5 601.5h0M1933.2 600.9h0M1940.9 600.3h0M1948.6 599.7h0M1956.3 599.1h0M1964 598.5h0M1971.7 597.9h0M1979.4 597.3h0M1987.1 596.8h0M1994.8 596.2h0" fill="none" stroke="#10c0f8" stroke-width="6.2" stroke-linecap="round"/>
<path d="M1621 933.3 L1632 933.3 L1643 933.3 L1654 933.3 L1662 933.3 L1672.9 932.7 L1681.2 930 L1692.1 902.1 L1703.8 864.2 L1711.5 833.1 L1719 800 L1726.7 765.4 L1734 736.7 L1741.7 714 L1749.6 692.5 L1756.7 677.5 L1764.6 665.4 L1773.5 655.4 L1783.8 644.6 L1791 637.7 L1799 633.1 L1806.2 629.6 L1806.4 629.4 L1814.3 625.2 L1822 621.7 L1829.3 620 L1837 617.5 L1845 614.4 L1855 612.3 L1864.8 610.2 L1875.2 608.1 L1882.9 607.5 L1890.6 606.8 L1898.3 606.1 L1906 605.4 L1913.7 604.8 L1921.4 604.1 L1929.1 603.4 L1936.8 602.8 L1944.5 602.1 L1952.2 601.4 L1959.9 600.7 L1967.6 600.1 L1975.3 599.4 L1983 598.7 L1990.7 598.1" fill="none" stroke="#ff9020" stroke-width="0.9" stroke-opacity="0.6" clip-path="url(#lc7)"/>
<path d="M1621 933.3h0M1632 933.3h0M1643 933.3h0M1654 933.3h0M1662 933.3h0M1672.9 932.7h0M1681.2 930h0M1692.1 902.1h0M1703.8 864.2h0M1711.5 833.1h0M1719 800h0M1726.7 765.4h0M1734 736.7h0M1741.7 714h0M1749.6 692.5h0M1756.7 677.5h0M1764.6 665.4h0M1773.5 655.4h0M1783.8 644.6h0M1791 637.7h0M1799 633.1h0M1806.2 629.6h0M1806.4 629.4h0M1814.3 625.2h0M1822 621.7h0M1829.3 620h0M1837 617.5h0M1845 614.4h0M1855 612.3h0M1864.8 610.2h0M1875.2 608.1h0M1882.9 607.5h0M1890.6 606.8h0M1898.3 606.1h0M1906 605.4h0M1913.7 604.8h0M1921.4 604.1h0M1929.1 603.4h0M1936.8 602.8h0M1944.5 602.1h0M1952.2 601.4h0M1959.9 600.7h0M1967.6 600.1h0M1975.3 599.4h0M1983 598.7h0M1990.7 598.1h0" fill="none" stroke="#ff9020" stroke-width="6.2" stroke-linecap="round"/>
<path d="M1621 933.3 L1632 933.3 L1643 933.3 L1654 933.3 L1665 933.3 L1676 933.3 L1687 933.3 L1696.2 928.1 L1707.5 903.1 L1715.2 882.5 L1722.7 857.3 L1730.2 828.3 L1737.9 798.5 L1745.4 770.2 L1753.5 740.6 L1760.8 715 L1768.3 697.7 L1776 680.4 L1783.8 668.1 L1791.7 658.8 L1799 649.4 L1806.4 643.5 L1806.7 643.5 L1814.1 637.9 L1822 633.3 L1829.3 626.9 L1837 624.8 L1845 621 L1852.7 617.5 L1860.2 614.8 L1868.9 612.9 L1879.3 611.2 L1887 609.6 L1895 609.2 L1904.3 608.5 L1912 607.7 L1919.7 606.9 L1927.4 606 L1935.1 605.2 L1942.8 604.4 L1950.5 603.5 L1958.2 602.7 L1965.9 601.9 L1973.6 601 L1981.3 600.2 L1989 599.4 L1996.7 598.5" fill="none" stroke="#9a1fe0" stroke-width="0.9" stroke-opacity="0.6" clip-path="url(#lc7)"/>
<path d="M1621 933.3h0M1632 933.3h0M1643 933.3h0M1654 933.3h0M1665 933.3h0M1676 933.3h0M1687 933.3h0M1696.2 928.1h0M1707.5 903.1h0M1715.2 882.5h0M1722.7 857.3h0M1730.2 828.3h0M1737.9 798.5h0M1745.4 770.2h0M1753.5 740.6h0M1760.8 715h0M1768.3 697.7h0M1776 680.4h0M1783.8 668.1h0M1791.7 658.8h0M1799 649.4h0M1806.4 643.5h0M1806.7 643.5h0M1814.1 637.9h0M1822 633.3h0M1829.3 626.9h0M1837 624.8h0M1845 621h0M1852.7 617.5h0M1860.2 614.8h0M1868.9 612.9h0M1879.3 611.2h0M1887 609.6h0M1895 609.2h0M1904.3 608.5h0M1912 607.7h0M1919.7 606.9h0M1927.4 606h0M1935.1 605.2h0M1942.8 604.4h0M1950.5 603.5h0M1958.2 602.7h0M1965.9 601.9h0M1973.6 601h0M1981.3 600.2h0M1989 599.4h0M1996.7 598.5h0" fill="none" stroke="#9a1fe0" stroke-width="6.2" stroke-linecap="round"/>
<path d="M1621 933.3 L1632 933.3 L1643 933.3 L1654 933.3 L1665 933.3 L1676 933.3 L1687 933.3 L1695.8 933.8 L1711.5 926.9 L1718.3 913.8 L1726.5 897.3 L1734.4 876.2 L1741.9 854.6 L1749 829 L1757.3 798.8 L1764.6 771.2 L1771.9 745.8 L1779.8 721 L1787.5 699.8 L1795.4 683.1 L1803.1 670.2 L1803.3 670 L1811.6 658.1 L1821.6 647.9 L1829.3 641.9 L1837 635.8 L1844.5 631.2 L1852.2 626.5 L1860.2 624.4 L1867.9 621.7 L1876.2 617.5 L1881.4 614.8 L1890.8 613.8 L1898.1 611.9 L1905.4 609.2 L1914.8 608.5 L1923.1 606.7 L1929.3 607.1 L1937.7 606 L1945 605 L1952.7 604.2 L1960.4 603.4 L1968.1 602.6 L1975.8 601.7 L1983.5 600.9 L1991.2 600.1" fill="none" stroke="#c09a10" stroke-width="0.9" stroke-opacity="0.6" clip-path="url(#lc7)"/>
<path d="M1621 933.3h0M1632 933.3h0M1643 933.3h0M1654 933.3h0M1665 933.3h0M1676 933.3h0M1687 933.3h0M1695.8 933.8h0M1711.5 926.9h0M1718.3 913.8h0M1726.5 897.3h0M1734.4 876.2h0M1741.9 854.6h0M1749 829h0M1757.3 798.8h0M1764.6 771.2h0M1771.9 745.8h0M1779.8 721h0M1787.5 699.8h0M1795.4 683.1h0M1803.1 670.2h0M1803.3 670h0M1811.6 658.1h0M1821.6 647.9h0M1829.3 641.9h0M1837 635.8h0M1844.5 631.2h0M1852.2 626.5h0M1860.2 624.4h0M1867.9 621.7h0M1876.2 617.5h0M1881.4 614.8h0M1890.8 613.8h0M1898.1 611.9h0M1905.4 609.2h0M1914.8 608.5h0M1923.1 606.7h0M1929.3 607.1h0M1937.7 606h0M1945 605h0M1952.7 604.2h0M1960.4 603.4h0M1968.1 602.6h0M1975.8 601.7h0M1983.5 600.9h0M1991.2 600.1h0" fill="none" stroke="#c09a10" stroke-width="6.2" stroke-linecap="round"/>
<path d="M1621 933.3 L1632 933.3 L1643 933.3 L1654 933.3 L1665 933.3 L1676 933.3 L1688.5 933.3 L1707.5 932.1 L1722.5 930 L1730.2 920.4 L1737.9 910.2 L1745.4 892.5 L1753.5 871.7 L1760.8 848.8 L1768.3 825.2 L1775.6 800.4 L1783.3 773.3 L1791.7 747.9 L1799 725.4 L1799.1 725.2 L1806.2 703.5 L1806.4 703.3 L1814.3 685.6 L1821.4 672.9 L1829.3 660.8 L1837 654.4 L1845 644.2 L1852.7 638.8 L1861.6 631.5 L1867.9 628.5 L1875.2 625.8 L1882.9 622.1 L1890.8 619 L1898.1 616 L1906.4 614.4 L1913.7 612.3 L1921 611.2 L1929.3 609.8 L1937.7 607.5 L1949.1 606.5 L1958.5 605 L1967.9 603.5 L1981.4 602.9 L1989.8 602.1 L1997 601.5" fill="none" stroke="#555555" stroke-width="0.9" stroke-opacity="0.6" clip-path="url(#lc7)"/>
<path d="M1621 933.3h0M1632 933.3h0M1643 933.3h0M1654 933.3h0M1665 933.3h0M1676 933.3h0M1688.5 933.3h0M1707.5 932.1h0M1722.5 930h0M1730.2 920.4h0M1737.9 910.2h0M1745.4 892.5h0M1753.5 871.7h0M1760.8 848.8h0M1768.3 825.2h0M1775.6 800.4h0M1783.3 773.3h0M1791.7 747.9h0M1799 725.4h0M1799.1 725.2h0M1806.2 703.5h0M1806.4 703.3h0M1814.3 685.6h0M1821.4 672.9h0M1829.3 660.8h0M1837 654.4h0M1845 644.2h0M1852.7 638.8h0M1861.6 631.5h0M1867.9 628.5h0M1875.2 625.8h0M1882.9 622.1h0M1890.8 619h0M1898.1 616h0M1906.4 614.4h0M1913.7 612.3h0M1921 611.2h0M1929.3 609.8h0M1937.7 607.5h0M1949.1 606.5h0M1958.5 605h0M1967.9 603.5h0M1981.4 602.9h0M1989.8 602.1h0M1997 601.5h0" fill="none" stroke="#555555" stroke-width="6.2" stroke-linecap="round"/>
<path d="M1620.8 933.3 L1631.7 933.3 L1642.7 933.3 L1654.2 933.3 L1666 933.3 L1677.1 933.3 L1688.5 933.3 L1700 933.3 L1707.5 933.3 L1715.2 933.3 L1722.7 933.3 L1730.6 933.3 L1741.7 925 L1749.4 916.7 L1757.1 904.8 L1764.6 888.5 L1772.3 867.5 L1779.8 847.9 L1787.5 824 L1796 800.4 L1802.2 776.9 L1810 752.5 L1817.9 729.6 L1825.6 709.6 L1833.1 690.8 L1840.8 677.5 L1848.1 664.8 L1856 655 L1863.7 646.2 L1871.4 639.4 L1878.9 634.8 L1886.6 631 L1895.6 627.3 L1901.2 623.1 L1911.2 620.2 L1922.5 617.5 L1933.9 614.4 L1945.4 610.6 L1952.9 608.1 L1960.6 607.5 L1971 607.1 L1978.9 606 L1986.6 604 L1992.9 603.5" fill="none" stroke="#cc5a10" stroke-width="0.9" stroke-opacity="0.6" clip-path="url(#lc7)"/>
<path d="M1620.8 933.3h0M1631.7 933.3h0M1642.7 933.3h0M1654.2 933.3h0M1666 933.3h0M1677.1 933.3h0M1688.5 933.3h0M1700 933.3h0M1707.5 933.3h0M1715.2 933.3h0M1722.7 933.3h0M1730.6 933.3h0M1741.7 925h0M1749.4 916.7h0M1757.1 904.8h0M1764.6 888.5h0M1772.3 867.5h0M1779.8 847.9h0M1787.5 824h0M1796 800.4h0M1802.2 776.9h0M1810 752.5h0M1817.9 729.6h0M1825.6 709.6h0M1833.1 690.8h0M1840.8 677.5h0M1848.1 664.8h0M1856 655h0M1863.7 646.2h0M1871.4 639.4h0M1878.9 634.8h0M1886.6 631h0M1895.6 627.3h0M1901.2 623.1h0M1911.2 620.2h0M1922.5 617.5h0M1933.9 614.4h0M1945.4 610.6h0M1952.9 608.1h0M1960.6 607.5h0M1971 607.1h0M1978.9 606h0M1986.6 604h0M1992.9 603.5h0" fill="none" stroke="#cc5a10" stroke-width="6.2" stroke-linecap="round"/>
</g>
<g font-size="20" fill="#000">
<text x="1614.9" y="954.4" text-anchor="middle">0</text>
<text x="1691.6" y="954.4" text-anchor="middle">0.2</text>
<text x="1768.4" y="954.4" text-anchor="middle">0.4</text>
<text x="1845.1" y="954.4" text-anchor="middle">0.6</text>
<text x="1921.8" y="954.4" text-anchor="middle">0.8</text>
<text x="1998.5" y="954.4" text-anchor="middle">1</text>
<text x="1605.4" y="938.5" text-anchor="end">0</text>
<text x="1605.4" y="855.4" text-anchor="end">0.5</text>
<text x="1605.4" y="772.3" text-anchor="end">1</text>
<text x="1605.4" y="689.2" text-anchor="end">1.5</text>
<text x="1605.4" y="606.1" text-anchor="end">2</text>
</g>
<text x="1554.5" y="558" font-size="46">h</text>
<text x="1808" y="996" font-size="25" text-anchor="middle"><tspan font-style="italic">B</tspan> (T)</text>
<text transform="translate(1538.6 807.8) rotate(-90)" font-size="25"><tspan font-style="italic">ρ</tspan><tspan font-style="italic" font-size="16" dy="11.5" dx="1">ab</tspan><tspan dy="-11.5"> (mΩcm)</tspan></text>
<g font-size="14.9">
<circle cx="1933.9" cy="732" r="6.4" fill="#ff0000"/>
<text x="1945.5" y="737.1" fill="#ff0000">4.0 K</text>
<circle cx="1933.9" cy="749.8" r="6.4" fill="#0000ff"/>
<text x="1945.5" y="755" fill="#0000ff">3.8 K</text>
<circle cx="1933.9" cy="767.6" r="6.4" fill="#006400"/>
<text x="1945.5" y="772.8" fill="#006400">3.6 K</text>
<circle cx="1933.9" cy="785.5" r="6.4" fill="#000000"/>
<text x="1945.5" y="790.6" fill="#000000">3.4 K</text>
<circle cx="1933.9" cy="803.3" r="6.4" fill="#ff3399"/>
<text x="1945.5" y="808.4" fill="#ff3399">3.2 K</text>
<circle cx="1933.9" cy="821.1" r="6.4" fill="#00b0f0"/>
<text x="1945.5" y="826.2" fill="#00b0f0">3.0 K</text>
<circle cx="1933.9" cy="838.9" r="6.4" fill="#ed7d31"/>
<text x="1945.5" y="844.1" fill="#ed7d31">2.8 K</text>
<circle cx="1933.9" cy="856.7" r="6.4" fill="#7030a0"/>
<text x="1945.5" y="861.9" fill="#7030a0">2.6 K</text>
<circle cx="1933.9" cy="874.6" r="6.4" fill="#cc9900"/>
<text x="1945.5" y="879.7" fill="#cc9900">2.4 K</text>
<circle cx="1933.9" cy="892.4" r="6.4" fill="#767171"/>
<text x="1945.5" y="897.5" fill="#767171">2.2 K</text>
<circle cx="1933.9" cy="910.2" r="6.4" fill="#cc3300"/>
<text x="1945.5" y="915.3" fill="#cc3300">2.0 K</text>
</g>
<text x="1638.5" y="581" font-size="25.6"><tspan font-style="italic">B</tspan> || <tspan font-style="italic">c</tspan></text>
<text x="1736" y="581" font-size="25.6"><tspan font-style="italic">x</tspan> = 0.69</text>
<text x="1630" y="614.4" font-size="25.6">4.0 K</text>
<text x="1817.3" y="877.5" font-size="25.6">2.0 K</text>
<path d="M1829.3 854.2 L1652.1 625.2" stroke="#000" stroke-width="2.85" fill="none"/>
<path d="M1646.9 618.5 L1656.5 624.4 L1650.2 629.3 Z" fill="#000"/>
</g>
</svg>
</body></html>
